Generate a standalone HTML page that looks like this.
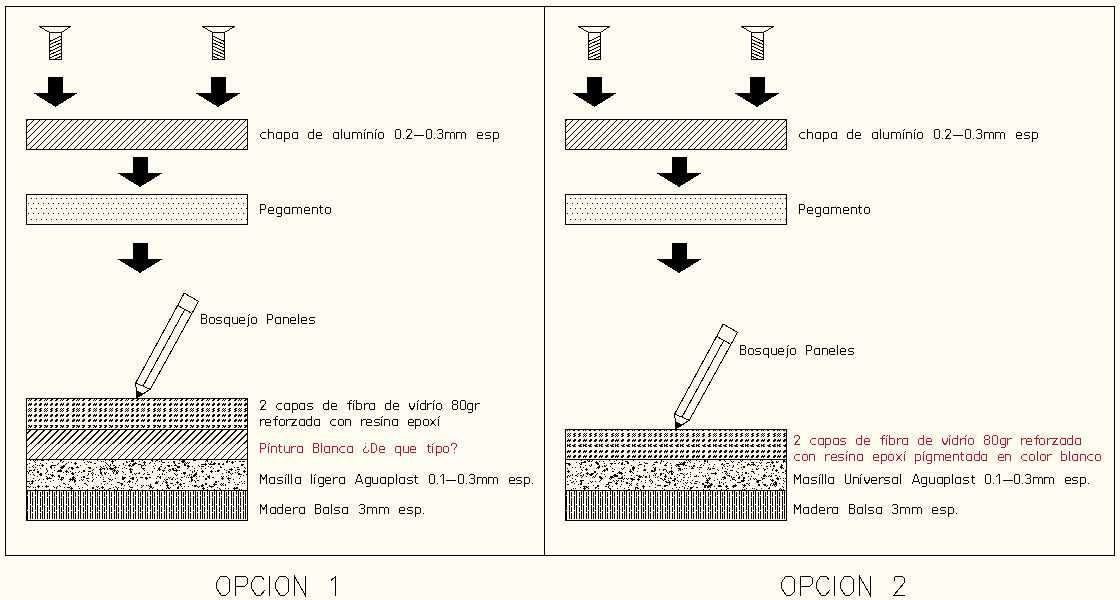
<!DOCTYPE html>
<html><head><meta charset="utf-8"><title>Opciones</title>
<style>html,body{margin:0;padding:0;background:#fefcf0;width:1120px;height:600px;overflow:hidden}svg{display:block}</style>
</head><body><svg width="1120" height="600" viewBox="0 0 1120 600" shape-rendering="crispEdges"><rect width="1120" height="600" fill="#fefcf0"/><path d="M5.5 6.5H1114.5V555.5H5.5Z M544.5 6.5V555.5" stroke="#000" fill="none"/><clipPath id="cs49"><rect x="50" y="33" width="11" height="26"/></clipPath><path d="M39 26.5H71M39.5 26.5L49.5 32.5M70.5 26.5L61.5 32.5" stroke="#000" fill="none"/><rect x="49.5" y="32.5" width="12" height="27" stroke="#000" fill="none"/><path d="M50 41.2L61 36.2 M50 44.55L61 39.55 M50 47.9L61 42.9 M50 51.25L61 46.25 M50 54.6L61 49.6 M50 57.95L61 52.95 M50 61.3L61 56.3" stroke="#000" stroke-width="1" fill="none" clip-path="url(#cs49)"/><clipPath id="cs212"><rect x="213" y="33" width="11" height="26"/></clipPath><path d="M202 26.5H235M202.5 26.5L212.5 32.5M234.5 26.5L224.5 32.5" stroke="#000" fill="none"/><rect x="212.5" y="32.5" width="12" height="27" stroke="#000" fill="none"/><path d="M213 36.2L224 41.2 M213 39.55L224 44.55 M213 42.9L224 47.9 M213 46.25L224 51.25 M213 49.6L224 54.6 M213 52.95L224 57.95 M213 56.3L224 61.3" stroke="#000" stroke-width="1" fill="none" clip-path="url(#cs212)"/><path d="M48 77H63V93H77.8L55.5 107L33.2 93H48Z" fill="#000"/><path d="M211 77H226V93H240.8L218 107L195.2 93H211Z" fill="#000"/><path d="M133 157H148V173H162.8L140 187L117.2 173H133Z" fill="#000"/><path d="M133 243H148V259H162.8L140 273L117.2 259H133Z" fill="#000"/><clipPath id="hr10"><rect x="27" y="120" width="220" height="29"/></clipPath><path d="M-14 149L15 120M-7 149L22 120M-1 149L28 120M5 149L34 120M11 149L40 120M17 149L46 120M24 149L53 120M30 149L59 120M36 149L65 120M43 149L72 120M49 149L78 120M55 149L84 120M61 149L90 120M67 149L96 120M74 149L103 120M80 149L109 120M86 149L115 120M93 149L122 120M99 149L128 120M105 149L134 120M111 149L140 120M117 149L146 120M124 149L153 120M130 149L159 120M136 149L165 120M143 149L172 120M149 149L178 120M155 149L184 120M161 149L190 120M167 149L196 120M174 149L203 120M180 149L209 120M186 149L215 120M193 149L222 120M199 149L228 120M205 149L234 120M211 149L240 120M217 149L246 120M224 149L253 120M230 149L259 120M236 149L265 120M243 149L272 120M249 149L278 120M255 149L284 120" stroke="#000" stroke-width="1.0" fill="none" clip-path="url(#hr10)"/><rect x="26.5" y="119.5" width="221" height="30" stroke="#000" fill="none"/><path d="M31 198h1v1h-1zM36 198h1v1h-1zM41 198h1v1h-1zM46 198h1v1h-1zM51 198h1v1h-1zM56 198h1v1h-1zM61 198h1v1h-1zM66 198h1v1h-1zM71 198h1v1h-1zM76 198h1v1h-1zM81 198h1v1h-1zM86 198h1v1h-1zM91 198h1v1h-1zM96 198h1v1h-1zM101 198h1v1h-1zM106 198h1v1h-1zM111 198h1v1h-1zM116 198h1v1h-1zM121 198h1v1h-1zM126 198h1v1h-1zM131 198h1v1h-1zM136 198h1v1h-1zM141 198h1v1h-1zM146 198h1v1h-1zM151 198h1v1h-1zM156 198h1v1h-1zM161 198h1v1h-1zM166 198h1v1h-1zM171 198h1v1h-1zM176 198h1v1h-1zM181 198h1v1h-1zM186 198h1v1h-1zM191 198h1v1h-1zM196 198h1v1h-1zM201 198h1v1h-1zM206 198h1v1h-1zM211 198h1v1h-1zM216 198h1v1h-1zM221 198h1v1h-1zM226 198h1v1h-1zM231 198h1v1h-1zM236 198h1v1h-1zM241 198h1v1h-1zM246 198h1v1h-1zM28 203h1v1h-1zM33 203h1v1h-1zM38 203h1v1h-1zM43 203h1v1h-1zM48 203h1v1h-1zM53 203h1v1h-1zM58 203h1v1h-1zM63 203h1v1h-1zM68 203h1v1h-1zM73 203h1v1h-1zM78 203h1v1h-1zM83 203h1v1h-1zM88 203h1v1h-1zM93 203h1v1h-1zM98 203h1v1h-1zM103 203h1v1h-1zM108 203h1v1h-1zM113 203h1v1h-1zM118 203h1v1h-1zM123 203h1v1h-1zM128 203h1v1h-1zM133 203h1v1h-1zM138 203h1v1h-1zM143 203h1v1h-1zM148 203h1v1h-1zM153 203h1v1h-1zM158 203h1v1h-1zM163 203h1v1h-1zM168 203h1v1h-1zM173 203h1v1h-1zM178 203h1v1h-1zM183 203h1v1h-1zM188 203h1v1h-1zM193 203h1v1h-1zM198 203h1v1h-1zM203 203h1v1h-1zM208 203h1v1h-1zM213 203h1v1h-1zM218 203h1v1h-1zM223 203h1v1h-1zM228 203h1v1h-1zM233 203h1v1h-1zM238 203h1v1h-1zM243 203h1v1h-1zM31 208h1v1h-1zM36 208h1v1h-1zM41 208h1v1h-1zM46 208h1v1h-1zM51 208h1v1h-1zM56 208h1v1h-1zM61 208h1v1h-1zM66 208h1v1h-1zM71 208h1v1h-1zM76 208h1v1h-1zM81 208h1v1h-1zM86 208h1v1h-1zM91 208h1v1h-1zM96 208h1v1h-1zM101 208h1v1h-1zM106 208h1v1h-1zM111 208h1v1h-1zM116 208h1v1h-1zM121 208h1v1h-1zM126 208h1v1h-1zM131 208h1v1h-1zM136 208h1v1h-1zM141 208h1v1h-1zM146 208h1v1h-1zM151 208h1v1h-1zM156 208h1v1h-1zM161 208h1v1h-1zM166 208h1v1h-1zM171 208h1v1h-1zM176 208h1v1h-1zM181 208h1v1h-1zM186 208h1v1h-1zM191 208h1v1h-1zM196 208h1v1h-1zM201 208h1v1h-1zM206 208h1v1h-1zM211 208h1v1h-1zM216 208h1v1h-1zM221 208h1v1h-1zM226 208h1v1h-1zM231 208h1v1h-1zM236 208h1v1h-1zM241 208h1v1h-1zM246 208h1v1h-1zM28 213h1v1h-1zM33 213h1v1h-1zM38 213h1v1h-1zM43 213h1v1h-1zM48 213h1v1h-1zM53 213h1v1h-1zM58 213h1v1h-1zM63 213h1v1h-1zM68 213h1v1h-1zM73 213h1v1h-1zM78 213h1v1h-1zM83 213h1v1h-1zM88 213h1v1h-1zM93 213h1v1h-1zM98 213h1v1h-1zM103 213h1v1h-1zM108 213h1v1h-1zM113 213h1v1h-1zM118 213h1v1h-1zM123 213h1v1h-1zM128 213h1v1h-1zM133 213h1v1h-1zM138 213h1v1h-1zM143 213h1v1h-1zM148 213h1v1h-1zM153 213h1v1h-1zM158 213h1v1h-1zM163 213h1v1h-1zM168 213h1v1h-1zM173 213h1v1h-1zM178 213h1v1h-1zM183 213h1v1h-1zM188 213h1v1h-1zM193 213h1v1h-1zM198 213h1v1h-1zM203 213h1v1h-1zM208 213h1v1h-1zM213 213h1v1h-1zM218 213h1v1h-1zM223 213h1v1h-1zM228 213h1v1h-1zM233 213h1v1h-1zM238 213h1v1h-1zM243 213h1v1h-1zM31 219h1v1h-1zM36 219h1v1h-1zM41 219h1v1h-1zM46 219h1v1h-1zM51 219h1v1h-1zM56 219h1v1h-1zM61 219h1v1h-1zM66 219h1v1h-1zM71 219h1v1h-1zM76 219h1v1h-1zM81 219h1v1h-1zM86 219h1v1h-1zM91 219h1v1h-1zM96 219h1v1h-1zM101 219h1v1h-1zM106 219h1v1h-1zM111 219h1v1h-1zM116 219h1v1h-1zM121 219h1v1h-1zM126 219h1v1h-1zM131 219h1v1h-1zM136 219h1v1h-1zM141 219h1v1h-1zM146 219h1v1h-1zM151 219h1v1h-1zM156 219h1v1h-1zM161 219h1v1h-1zM166 219h1v1h-1zM171 219h1v1h-1zM176 219h1v1h-1zM181 219h1v1h-1zM186 219h1v1h-1zM191 219h1v1h-1zM196 219h1v1h-1zM201 219h1v1h-1zM206 219h1v1h-1zM211 219h1v1h-1zM216 219h1v1h-1zM221 219h1v1h-1zM226 219h1v1h-1zM231 219h1v1h-1zM236 219h1v1h-1zM241 219h1v1h-1zM246 219h1v1h-1z" fill="#000"/><rect x="26.5" y="194.5" width="221" height="30" stroke="#000" fill="none"/><clipPath id="cs588"><rect x="589" y="33" width="11" height="26"/></clipPath><path d="M578 26.5H610M578.5 26.5L588.5 32.5M609.5 26.5L600.5 32.5" stroke="#000" fill="none"/><rect x="588.5" y="32.5" width="12" height="27" stroke="#000" fill="none"/><path d="M589 41.2L600 36.2 M589 44.55L600 39.55 M589 47.9L600 42.9 M589 51.25L600 46.25 M589 54.6L600 49.6 M589 57.95L600 52.95 M589 61.3L600 56.3" stroke="#000" stroke-width="1" fill="none" clip-path="url(#cs588)"/><clipPath id="cs751"><rect x="752" y="33" width="11" height="26"/></clipPath><path d="M741 26.5H774M741.5 26.5L751.5 32.5M773.5 26.5L763.5 32.5" stroke="#000" fill="none"/><rect x="751.5" y="32.5" width="12" height="27" stroke="#000" fill="none"/><path d="M752 36.2L763 41.2 M752 39.55L763 44.55 M752 42.9L763 47.9 M752 46.25L763 51.25 M752 49.6L763 54.6 M752 52.95L763 57.95 M752 56.3L763 61.3" stroke="#000" stroke-width="1" fill="none" clip-path="url(#cs751)"/><path d="M587 77H602V93H616.8L594.5 107L572.2 93H587Z" fill="#000"/><path d="M750 77H765V93H779.8L757 107L734.2 93H750Z" fill="#000"/><path d="M672 157H687V173H701.8L679 187L656.2 173H672Z" fill="#000"/><path d="M672 243H687V259H701.8L679 273L656.2 259H672Z" fill="#000"/><clipPath id="hr1539"><rect x="566" y="120" width="220" height="29"/></clipPath><path d="M525 149L554 120M531 149L560 120M538 149L567 120M544 149L573 120M550 149L579 120M557 149L586 120M563 149L592 120M569 149L598 120M575 149L604 120M581 149L610 120M588 149L617 120M594 149L623 120M600 149L629 120M607 149L636 120M613 149L642 120M619 149L648 120M625 149L654 120M631 149L660 120M638 149L667 120M644 149L673 120M650 149L679 120M657 149L686 120M663 149L692 120M669 149L698 120M675 149L704 120M681 149L710 120M688 149L717 120M694 149L723 120M700 149L729 120M707 149L736 120M713 149L742 120M719 149L748 120M725 149L754 120M731 149L760 120M738 149L767 120M744 149L773 120M750 149L779 120M757 149L786 120M763 149L792 120M769 149L798 120M775 149L804 120M781 149L810 120M788 149L817 120M794 149L823 120" stroke="#000" stroke-width="1.0" fill="none" clip-path="url(#hr1539)"/><rect x="565.5" y="119.5" width="221" height="30" stroke="#000" fill="none"/><path d="M570 198h1v1h-1zM575 198h1v1h-1zM580 198h1v1h-1zM585 198h1v1h-1zM590 198h1v1h-1zM595 198h1v1h-1zM600 198h1v1h-1zM605 198h1v1h-1zM610 198h1v1h-1zM615 198h1v1h-1zM620 198h1v1h-1zM625 198h1v1h-1zM630 198h1v1h-1zM635 198h1v1h-1zM640 198h1v1h-1zM645 198h1v1h-1zM650 198h1v1h-1zM655 198h1v1h-1zM660 198h1v1h-1zM665 198h1v1h-1zM670 198h1v1h-1zM675 198h1v1h-1zM680 198h1v1h-1zM685 198h1v1h-1zM690 198h1v1h-1zM695 198h1v1h-1zM700 198h1v1h-1zM705 198h1v1h-1zM710 198h1v1h-1zM715 198h1v1h-1zM720 198h1v1h-1zM725 198h1v1h-1zM730 198h1v1h-1zM735 198h1v1h-1zM740 198h1v1h-1zM745 198h1v1h-1zM750 198h1v1h-1zM755 198h1v1h-1zM760 198h1v1h-1zM765 198h1v1h-1zM770 198h1v1h-1zM775 198h1v1h-1zM780 198h1v1h-1zM785 198h1v1h-1zM567 203h1v1h-1zM572 203h1v1h-1zM577 203h1v1h-1zM582 203h1v1h-1zM587 203h1v1h-1zM592 203h1v1h-1zM597 203h1v1h-1zM602 203h1v1h-1zM607 203h1v1h-1zM612 203h1v1h-1zM617 203h1v1h-1zM622 203h1v1h-1zM627 203h1v1h-1zM632 203h1v1h-1zM637 203h1v1h-1zM642 203h1v1h-1zM647 203h1v1h-1zM652 203h1v1h-1zM657 203h1v1h-1zM662 203h1v1h-1zM667 203h1v1h-1zM672 203h1v1h-1zM677 203h1v1h-1zM682 203h1v1h-1zM687 203h1v1h-1zM692 203h1v1h-1zM697 203h1v1h-1zM702 203h1v1h-1zM707 203h1v1h-1zM712 203h1v1h-1zM717 203h1v1h-1zM722 203h1v1h-1zM727 203h1v1h-1zM732 203h1v1h-1zM737 203h1v1h-1zM742 203h1v1h-1zM747 203h1v1h-1zM752 203h1v1h-1zM757 203h1v1h-1zM762 203h1v1h-1zM767 203h1v1h-1zM772 203h1v1h-1zM777 203h1v1h-1zM782 203h1v1h-1zM570 208h1v1h-1zM575 208h1v1h-1zM580 208h1v1h-1zM585 208h1v1h-1zM590 208h1v1h-1zM595 208h1v1h-1zM600 208h1v1h-1zM605 208h1v1h-1zM610 208h1v1h-1zM615 208h1v1h-1zM620 208h1v1h-1zM625 208h1v1h-1zM630 208h1v1h-1zM635 208h1v1h-1zM640 208h1v1h-1zM645 208h1v1h-1zM650 208h1v1h-1zM655 208h1v1h-1zM660 208h1v1h-1zM665 208h1v1h-1zM670 208h1v1h-1zM675 208h1v1h-1zM680 208h1v1h-1zM685 208h1v1h-1zM690 208h1v1h-1zM695 208h1v1h-1zM700 208h1v1h-1zM705 208h1v1h-1zM710 208h1v1h-1zM715 208h1v1h-1zM720 208h1v1h-1zM725 208h1v1h-1zM730 208h1v1h-1zM735 208h1v1h-1zM740 208h1v1h-1zM745 208h1v1h-1zM750 208h1v1h-1zM755 208h1v1h-1zM760 208h1v1h-1zM765 208h1v1h-1zM770 208h1v1h-1zM775 208h1v1h-1zM780 208h1v1h-1zM785 208h1v1h-1zM567 213h1v1h-1zM572 213h1v1h-1zM577 213h1v1h-1zM582 213h1v1h-1zM587 213h1v1h-1zM592 213h1v1h-1zM597 213h1v1h-1zM602 213h1v1h-1zM607 213h1v1h-1zM612 213h1v1h-1zM617 213h1v1h-1zM622 213h1v1h-1zM627 213h1v1h-1zM632 213h1v1h-1zM637 213h1v1h-1zM642 213h1v1h-1zM647 213h1v1h-1zM652 213h1v1h-1zM657 213h1v1h-1zM662 213h1v1h-1zM667 213h1v1h-1zM672 213h1v1h-1zM677 213h1v1h-1zM682 213h1v1h-1zM687 213h1v1h-1zM692 213h1v1h-1zM697 213h1v1h-1zM702 213h1v1h-1zM707 213h1v1h-1zM712 213h1v1h-1zM717 213h1v1h-1zM722 213h1v1h-1zM727 213h1v1h-1zM732 213h1v1h-1zM737 213h1v1h-1zM742 213h1v1h-1zM747 213h1v1h-1zM752 213h1v1h-1zM757 213h1v1h-1zM762 213h1v1h-1zM767 213h1v1h-1zM772 213h1v1h-1zM777 213h1v1h-1zM782 213h1v1h-1zM570 219h1v1h-1zM575 219h1v1h-1zM580 219h1v1h-1zM585 219h1v1h-1zM590 219h1v1h-1zM595 219h1v1h-1zM600 219h1v1h-1zM605 219h1v1h-1zM610 219h1v1h-1zM615 219h1v1h-1zM620 219h1v1h-1zM625 219h1v1h-1zM630 219h1v1h-1zM635 219h1v1h-1zM640 219h1v1h-1zM645 219h1v1h-1zM650 219h1v1h-1zM655 219h1v1h-1zM660 219h1v1h-1zM665 219h1v1h-1zM670 219h1v1h-1zM675 219h1v1h-1zM680 219h1v1h-1zM685 219h1v1h-1zM690 219h1v1h-1zM695 219h1v1h-1zM700 219h1v1h-1zM705 219h1v1h-1zM710 219h1v1h-1zM715 219h1v1h-1zM720 219h1v1h-1zM725 219h1v1h-1zM730 219h1v1h-1zM735 219h1v1h-1zM740 219h1v1h-1zM745 219h1v1h-1zM750 219h1v1h-1zM755 219h1v1h-1zM760 219h1v1h-1zM765 219h1v1h-1zM770 219h1v1h-1zM775 219h1v1h-1zM780 219h1v1h-1zM785 219h1v1h-1z" fill="#000"/><rect x="565.5" y="194.5" width="221" height="30" stroke="#000" fill="none"/><path d="M29 399h1v1h-1zM31 399h1v1h-1zM28 400h1v1h-1zM30 400h1v1h-1zM35 399h1v1h-1zM36 399h1v1h-1zM34 400h1v1h-1zM35 400h1v1h-1zM40 399h1v1h-1zM41 399h1v1h-1zM39 400h1v1h-1zM40 400h1v1h-1zM45 399h1v1h-1zM47 399h1v1h-1zM44 400h1v1h-1zM46 400h1v1h-1zM51 399h1v1h-1zM52 399h1v1h-1zM50 400h1v1h-1zM51 400h1v1h-1zM56 399h1v1h-1zM57 399h1v1h-1zM55 400h1v1h-1zM56 400h1v1h-1zM61 399h1v1h-1zM63 399h1v1h-1zM60 400h1v1h-1zM62 400h1v1h-1zM67 399h1v1h-1zM68 399h1v1h-1zM66 400h1v1h-1zM67 400h1v1h-1zM73 399h1v1h-1zM74 399h1v1h-1zM72 400h1v1h-1zM73 400h1v1h-1zM77 399h1v1h-1zM79 399h1v1h-1zM76 400h1v1h-1zM78 400h1v1h-1zM83 399h1v1h-1zM84 399h1v1h-1zM82 400h1v1h-1zM83 400h1v1h-1zM89 399h1v1h-1zM90 399h1v1h-1zM88 400h1v1h-1zM89 400h1v1h-1zM94 399h1v1h-1zM96 399h1v1h-1zM93 400h1v1h-1zM95 400h1v1h-1zM100 399h1v1h-1zM101 399h1v1h-1zM99 400h1v1h-1zM100 400h1v1h-1zM105 399h1v1h-1zM106 399h1v1h-1zM104 400h1v1h-1zM105 400h1v1h-1zM110 399h1v1h-1zM112 399h1v1h-1zM109 400h1v1h-1zM111 400h1v1h-1zM116 399h1v1h-1zM117 399h1v1h-1zM115 400h1v1h-1zM116 400h1v1h-1zM121 399h1v1h-1zM122 399h1v1h-1zM120 400h1v1h-1zM121 400h1v1h-1zM126 399h1v1h-1zM128 399h1v1h-1zM125 400h1v1h-1zM127 400h1v1h-1zM132 399h1v1h-1zM133 399h1v1h-1zM131 400h1v1h-1zM132 400h1v1h-1zM137 399h1v1h-1zM138 399h1v1h-1zM136 400h1v1h-1zM137 400h1v1h-1zM142 399h1v1h-1zM144 399h1v1h-1zM141 400h1v1h-1zM143 400h1v1h-1zM148 399h1v1h-1zM149 399h1v1h-1zM147 400h1v1h-1zM148 400h1v1h-1zM154 399h1v1h-1zM155 399h1v1h-1zM153 400h1v1h-1zM154 400h1v1h-1zM158 399h1v1h-1zM160 399h1v1h-1zM157 400h1v1h-1zM159 400h1v1h-1zM164 399h1v1h-1zM165 399h1v1h-1zM163 400h1v1h-1zM164 400h1v1h-1zM170 399h1v1h-1zM171 399h1v1h-1zM169 400h1v1h-1zM170 400h1v1h-1zM175 399h1v1h-1zM177 399h1v1h-1zM174 400h1v1h-1zM176 400h1v1h-1zM181 399h1v1h-1zM182 399h1v1h-1zM180 400h1v1h-1zM181 400h1v1h-1zM186 399h1v1h-1zM187 399h1v1h-1zM185 400h1v1h-1zM186 400h1v1h-1zM191 399h1v1h-1zM193 399h1v1h-1zM190 400h1v1h-1zM192 400h1v1h-1zM197 399h1v1h-1zM198 399h1v1h-1zM196 400h1v1h-1zM197 400h1v1h-1zM202 399h1v1h-1zM203 399h1v1h-1zM201 400h1v1h-1zM202 400h1v1h-1zM207 399h1v1h-1zM209 399h1v1h-1zM206 400h1v1h-1zM208 400h1v1h-1zM213 399h1v1h-1zM214 399h1v1h-1zM212 400h1v1h-1zM213 400h1v1h-1zM218 399h1v1h-1zM219 399h1v1h-1zM217 400h1v1h-1zM218 400h1v1h-1zM223 399h1v1h-1zM225 399h1v1h-1zM222 400h1v1h-1zM224 400h1v1h-1zM229 399h1v1h-1zM230 399h1v1h-1zM228 400h1v1h-1zM229 400h1v1h-1zM235 399h1v1h-1zM236 399h1v1h-1zM234 400h1v1h-1zM235 400h1v1h-1zM239 399h1v1h-1zM241 399h1v1h-1zM238 400h1v1h-1zM240 400h1v1h-1zM245 399h1v1h-1zM246 399h1v1h-1zM244 400h1v1h-1zM245 400h1v1h-1zM29 403h1v1h-1zM31 403h1v1h-1zM28 404h1v1h-1zM29 404h1v1h-1zM30 404h1v1h-1zM31 404h1v1h-1zM28 405h1v1h-1zM30 405h1v1h-1zM35 403h1v1h-1zM36 403h1v1h-1zM34 404h1v1h-1zM35 404h1v1h-1zM36 404h1v1h-1zM34 405h1v1h-1zM35 405h1v1h-1zM40 403h1v1h-1zM41 403h1v1h-1zM39 404h1v1h-1zM40 404h1v1h-1zM41 404h1v1h-1zM39 405h1v1h-1zM40 405h1v1h-1zM45 403h1v1h-1zM47 403h1v1h-1zM44 404h1v1h-1zM45 404h1v1h-1zM46 404h1v1h-1zM47 404h1v1h-1zM44 405h1v1h-1zM46 405h1v1h-1zM51 403h1v1h-1zM52 403h1v1h-1zM50 404h1v1h-1zM51 404h1v1h-1zM52 404h1v1h-1zM50 405h1v1h-1zM51 405h1v1h-1zM56 403h1v1h-1zM57 403h1v1h-1zM55 404h1v1h-1zM56 404h1v1h-1zM57 404h1v1h-1zM55 405h1v1h-1zM56 405h1v1h-1zM61 403h1v1h-1zM63 403h1v1h-1zM60 404h1v1h-1zM61 404h1v1h-1zM62 404h1v1h-1zM63 404h1v1h-1zM60 405h1v1h-1zM62 405h1v1h-1zM67 403h1v1h-1zM68 403h1v1h-1zM66 404h1v1h-1zM67 404h1v1h-1zM68 404h1v1h-1zM66 405h1v1h-1zM67 405h1v1h-1zM73 403h1v1h-1zM74 403h1v1h-1zM72 404h1v1h-1zM73 404h1v1h-1zM74 404h1v1h-1zM72 405h1v1h-1zM73 405h1v1h-1zM77 403h1v1h-1zM79 403h1v1h-1zM76 404h1v1h-1zM77 404h1v1h-1zM78 404h1v1h-1zM79 404h1v1h-1zM76 405h1v1h-1zM78 405h1v1h-1zM83 403h1v1h-1zM84 403h1v1h-1zM82 404h1v1h-1zM83 404h1v1h-1zM84 404h1v1h-1zM82 405h1v1h-1zM83 405h1v1h-1zM89 403h1v1h-1zM90 403h1v1h-1zM88 404h1v1h-1zM89 404h1v1h-1zM90 404h1v1h-1zM88 405h1v1h-1zM89 405h1v1h-1zM94 403h1v1h-1zM96 403h1v1h-1zM93 404h1v1h-1zM94 404h1v1h-1zM95 404h1v1h-1zM96 404h1v1h-1zM93 405h1v1h-1zM95 405h1v1h-1zM100 403h1v1h-1zM101 403h1v1h-1zM99 404h1v1h-1zM100 404h1v1h-1zM101 404h1v1h-1zM99 405h1v1h-1zM100 405h1v1h-1zM105 403h1v1h-1zM106 403h1v1h-1zM104 404h1v1h-1zM105 404h1v1h-1zM106 404h1v1h-1zM104 405h1v1h-1zM105 405h1v1h-1zM110 403h1v1h-1zM112 403h1v1h-1zM109 404h1v1h-1zM110 404h1v1h-1zM111 404h1v1h-1zM112 404h1v1h-1zM109 405h1v1h-1zM111 405h1v1h-1zM116 403h1v1h-1zM117 403h1v1h-1zM115 404h1v1h-1zM116 404h1v1h-1zM117 404h1v1h-1zM115 405h1v1h-1zM116 405h1v1h-1zM121 403h1v1h-1zM122 403h1v1h-1zM120 404h1v1h-1zM121 404h1v1h-1zM122 404h1v1h-1zM120 405h1v1h-1zM121 405h1v1h-1zM126 403h1v1h-1zM128 403h1v1h-1zM125 404h1v1h-1zM126 404h1v1h-1zM127 404h1v1h-1zM128 404h1v1h-1zM125 405h1v1h-1zM127 405h1v1h-1zM132 403h1v1h-1zM133 403h1v1h-1zM131 404h1v1h-1zM132 404h1v1h-1zM133 404h1v1h-1zM131 405h1v1h-1zM132 405h1v1h-1zM137 403h1v1h-1zM138 403h1v1h-1zM136 404h1v1h-1zM137 404h1v1h-1zM138 404h1v1h-1zM136 405h1v1h-1zM137 405h1v1h-1zM142 403h1v1h-1zM144 403h1v1h-1zM141 404h1v1h-1zM142 404h1v1h-1zM143 404h1v1h-1zM144 404h1v1h-1zM141 405h1v1h-1zM143 405h1v1h-1zM148 403h1v1h-1zM149 403h1v1h-1zM147 404h1v1h-1zM148 404h1v1h-1zM149 404h1v1h-1zM147 405h1v1h-1zM148 405h1v1h-1zM154 403h1v1h-1zM155 403h1v1h-1zM153 404h1v1h-1zM154 404h1v1h-1zM155 404h1v1h-1zM153 405h1v1h-1zM154 405h1v1h-1zM158 403h1v1h-1zM160 403h1v1h-1zM157 404h1v1h-1zM158 404h1v1h-1zM159 404h1v1h-1zM160 404h1v1h-1zM157 405h1v1h-1zM159 405h1v1h-1zM164 403h1v1h-1zM165 403h1v1h-1zM163 404h1v1h-1zM164 404h1v1h-1zM165 404h1v1h-1zM163 405h1v1h-1zM164 405h1v1h-1zM170 403h1v1h-1zM171 403h1v1h-1zM169 404h1v1h-1zM170 404h1v1h-1zM171 404h1v1h-1zM169 405h1v1h-1zM170 405h1v1h-1zM175 403h1v1h-1zM177 403h1v1h-1zM174 404h1v1h-1zM175 404h1v1h-1zM176 404h1v1h-1zM177 404h1v1h-1zM174 405h1v1h-1zM176 405h1v1h-1zM181 403h1v1h-1zM182 403h1v1h-1zM180 404h1v1h-1zM181 404h1v1h-1zM182 404h1v1h-1zM180 405h1v1h-1zM181 405h1v1h-1zM186 403h1v1h-1zM187 403h1v1h-1zM185 404h1v1h-1zM186 404h1v1h-1zM187 404h1v1h-1zM185 405h1v1h-1zM186 405h1v1h-1zM191 403h1v1h-1zM193 403h1v1h-1zM190 404h1v1h-1zM191 404h1v1h-1zM192 404h1v1h-1zM193 404h1v1h-1zM190 405h1v1h-1zM192 405h1v1h-1zM197 403h1v1h-1zM198 403h1v1h-1zM196 404h1v1h-1zM197 404h1v1h-1zM198 404h1v1h-1zM196 405h1v1h-1zM197 405h1v1h-1zM202 403h1v1h-1zM203 403h1v1h-1zM201 404h1v1h-1zM202 404h1v1h-1zM203 404h1v1h-1zM201 405h1v1h-1zM202 405h1v1h-1zM207 403h1v1h-1zM209 403h1v1h-1zM206 404h1v1h-1zM207 404h1v1h-1zM208 404h1v1h-1zM209 404h1v1h-1zM206 405h1v1h-1zM208 405h1v1h-1zM213 403h1v1h-1zM214 403h1v1h-1zM212 404h1v1h-1zM213 404h1v1h-1zM214 404h1v1h-1zM212 405h1v1h-1zM213 405h1v1h-1zM218 403h1v1h-1zM219 403h1v1h-1zM217 404h1v1h-1zM218 404h1v1h-1zM219 404h1v1h-1zM217 405h1v1h-1zM218 405h1v1h-1zM223 403h1v1h-1zM225 403h1v1h-1zM222 404h1v1h-1zM223 404h1v1h-1zM224 404h1v1h-1zM225 404h1v1h-1zM222 405h1v1h-1zM224 405h1v1h-1zM229 403h1v1h-1zM230 403h1v1h-1zM228 404h1v1h-1zM229 404h1v1h-1zM230 404h1v1h-1zM228 405h1v1h-1zM229 405h1v1h-1zM235 403h1v1h-1zM236 403h1v1h-1zM234 404h1v1h-1zM235 404h1v1h-1zM236 404h1v1h-1zM234 405h1v1h-1zM235 405h1v1h-1zM239 403h1v1h-1zM241 403h1v1h-1zM238 404h1v1h-1zM239 404h1v1h-1zM240 404h1v1h-1zM241 404h1v1h-1zM238 405h1v1h-1zM240 405h1v1h-1zM245 403h1v1h-1zM246 403h1v1h-1zM244 404h1v1h-1zM245 404h1v1h-1zM246 404h1v1h-1zM244 405h1v1h-1zM245 405h1v1h-1zM29 408h1v1h-1zM31 408h1v1h-1zM28 409h1v1h-1zM30 409h1v1h-1zM29 410h1v1h-1zM31 410h1v1h-1zM28 411h1v1h-1zM30 411h1v1h-1zM35 408h1v1h-1zM36 408h1v1h-1zM34 409h1v1h-1zM35 409h1v1h-1zM35 410h1v1h-1zM36 410h1v1h-1zM34 411h1v1h-1zM35 411h1v1h-1zM40 408h1v1h-1zM41 408h1v1h-1zM39 409h1v1h-1zM40 409h1v1h-1zM40 410h1v1h-1zM41 410h1v1h-1zM39 411h1v1h-1zM40 411h1v1h-1zM45 408h1v1h-1zM47 408h1v1h-1zM44 409h1v1h-1zM46 409h1v1h-1zM45 410h1v1h-1zM47 410h1v1h-1zM44 411h1v1h-1zM46 411h1v1h-1zM51 408h1v1h-1zM52 408h1v1h-1zM50 409h1v1h-1zM51 409h1v1h-1zM51 410h1v1h-1zM52 410h1v1h-1zM50 411h1v1h-1zM51 411h1v1h-1zM56 408h1v1h-1zM57 408h1v1h-1zM55 409h1v1h-1zM56 409h1v1h-1zM56 410h1v1h-1zM57 410h1v1h-1zM55 411h1v1h-1zM56 411h1v1h-1zM61 408h1v1h-1zM63 408h1v1h-1zM60 409h1v1h-1zM62 409h1v1h-1zM61 410h1v1h-1zM63 410h1v1h-1zM60 411h1v1h-1zM62 411h1v1h-1zM67 408h1v1h-1zM68 408h1v1h-1zM66 409h1v1h-1zM67 409h1v1h-1zM67 410h1v1h-1zM68 410h1v1h-1zM66 411h1v1h-1zM67 411h1v1h-1zM73 408h1v1h-1zM74 408h1v1h-1zM72 409h1v1h-1zM73 409h1v1h-1zM73 410h1v1h-1zM74 410h1v1h-1zM72 411h1v1h-1zM73 411h1v1h-1zM77 408h1v1h-1zM79 408h1v1h-1zM76 409h1v1h-1zM78 409h1v1h-1zM77 410h1v1h-1zM79 410h1v1h-1zM76 411h1v1h-1zM78 411h1v1h-1zM83 408h1v1h-1zM84 408h1v1h-1zM82 409h1v1h-1zM83 409h1v1h-1zM83 410h1v1h-1zM84 410h1v1h-1zM82 411h1v1h-1zM83 411h1v1h-1zM89 408h1v1h-1zM90 408h1v1h-1zM88 409h1v1h-1zM89 409h1v1h-1zM89 410h1v1h-1zM90 410h1v1h-1zM88 411h1v1h-1zM89 411h1v1h-1zM94 408h1v1h-1zM96 408h1v1h-1zM93 409h1v1h-1zM95 409h1v1h-1zM94 410h1v1h-1zM96 410h1v1h-1zM93 411h1v1h-1zM95 411h1v1h-1zM100 408h1v1h-1zM101 408h1v1h-1zM99 409h1v1h-1zM100 409h1v1h-1zM100 410h1v1h-1zM101 410h1v1h-1zM99 411h1v1h-1zM100 411h1v1h-1zM105 408h1v1h-1zM106 408h1v1h-1zM104 409h1v1h-1zM105 409h1v1h-1zM105 410h1v1h-1zM106 410h1v1h-1zM104 411h1v1h-1zM105 411h1v1h-1zM110 408h1v1h-1zM112 408h1v1h-1zM109 409h1v1h-1zM111 409h1v1h-1zM110 410h1v1h-1zM112 410h1v1h-1zM109 411h1v1h-1zM111 411h1v1h-1zM116 408h1v1h-1zM117 408h1v1h-1zM115 409h1v1h-1zM116 409h1v1h-1zM116 410h1v1h-1zM117 410h1v1h-1zM115 411h1v1h-1zM116 411h1v1h-1zM121 408h1v1h-1zM122 408h1v1h-1zM120 409h1v1h-1zM121 409h1v1h-1zM121 410h1v1h-1zM122 410h1v1h-1zM120 411h1v1h-1zM121 411h1v1h-1zM126 408h1v1h-1zM128 408h1v1h-1zM125 409h1v1h-1zM127 409h1v1h-1zM126 410h1v1h-1zM128 410h1v1h-1zM125 411h1v1h-1zM127 411h1v1h-1zM132 408h1v1h-1zM133 408h1v1h-1zM131 409h1v1h-1zM132 409h1v1h-1zM132 410h1v1h-1zM133 410h1v1h-1zM131 411h1v1h-1zM132 411h1v1h-1zM137 408h1v1h-1zM138 408h1v1h-1zM136 409h1v1h-1zM137 409h1v1h-1zM137 410h1v1h-1zM138 410h1v1h-1zM136 411h1v1h-1zM137 411h1v1h-1zM142 408h1v1h-1zM144 408h1v1h-1zM141 409h1v1h-1zM143 409h1v1h-1zM142 410h1v1h-1zM144 410h1v1h-1zM141 411h1v1h-1zM143 411h1v1h-1zM148 408h1v1h-1zM149 408h1v1h-1zM147 409h1v1h-1zM148 409h1v1h-1zM148 410h1v1h-1zM149 410h1v1h-1zM147 411h1v1h-1zM148 411h1v1h-1zM154 408h1v1h-1zM155 408h1v1h-1zM153 409h1v1h-1zM154 409h1v1h-1zM154 410h1v1h-1zM155 410h1v1h-1zM153 411h1v1h-1zM154 411h1v1h-1zM158 408h1v1h-1zM160 408h1v1h-1zM157 409h1v1h-1zM159 409h1v1h-1zM158 410h1v1h-1zM160 410h1v1h-1zM157 411h1v1h-1zM159 411h1v1h-1zM164 408h1v1h-1zM165 408h1v1h-1zM163 409h1v1h-1zM164 409h1v1h-1zM164 410h1v1h-1zM165 410h1v1h-1zM163 411h1v1h-1zM164 411h1v1h-1zM170 408h1v1h-1zM171 408h1v1h-1zM169 409h1v1h-1zM170 409h1v1h-1zM170 410h1v1h-1zM171 410h1v1h-1zM169 411h1v1h-1zM170 411h1v1h-1zM175 408h1v1h-1zM177 408h1v1h-1zM174 409h1v1h-1zM176 409h1v1h-1zM175 410h1v1h-1zM177 410h1v1h-1zM174 411h1v1h-1zM176 411h1v1h-1zM181 408h1v1h-1zM182 408h1v1h-1zM180 409h1v1h-1zM181 409h1v1h-1zM181 410h1v1h-1zM182 410h1v1h-1zM180 411h1v1h-1zM181 411h1v1h-1zM186 408h1v1h-1zM187 408h1v1h-1zM185 409h1v1h-1zM186 409h1v1h-1zM186 410h1v1h-1zM187 410h1v1h-1zM185 411h1v1h-1zM186 411h1v1h-1zM191 408h1v1h-1zM193 408h1v1h-1zM190 409h1v1h-1zM192 409h1v1h-1zM191 410h1v1h-1zM193 410h1v1h-1zM190 411h1v1h-1zM192 411h1v1h-1zM197 408h1v1h-1zM198 408h1v1h-1zM196 409h1v1h-1zM197 409h1v1h-1zM197 410h1v1h-1zM198 410h1v1h-1zM196 411h1v1h-1zM197 411h1v1h-1zM202 408h1v1h-1zM203 408h1v1h-1zM201 409h1v1h-1zM202 409h1v1h-1zM202 410h1v1h-1zM203 410h1v1h-1zM201 411h1v1h-1zM202 411h1v1h-1zM207 408h1v1h-1zM209 408h1v1h-1zM206 409h1v1h-1zM208 409h1v1h-1zM207 410h1v1h-1zM209 410h1v1h-1zM206 411h1v1h-1zM208 411h1v1h-1zM213 408h1v1h-1zM214 408h1v1h-1zM212 409h1v1h-1zM213 409h1v1h-1zM213 410h1v1h-1zM214 410h1v1h-1zM212 411h1v1h-1zM213 411h1v1h-1zM218 408h1v1h-1zM219 408h1v1h-1zM217 409h1v1h-1zM218 409h1v1h-1zM218 410h1v1h-1zM219 410h1v1h-1zM217 411h1v1h-1zM218 411h1v1h-1zM223 408h1v1h-1zM225 408h1v1h-1zM222 409h1v1h-1zM224 409h1v1h-1zM223 410h1v1h-1zM225 410h1v1h-1zM222 411h1v1h-1zM224 411h1v1h-1zM229 408h1v1h-1zM230 408h1v1h-1zM228 409h1v1h-1zM229 409h1v1h-1zM229 410h1v1h-1zM230 410h1v1h-1zM228 411h1v1h-1zM229 411h1v1h-1zM235 408h1v1h-1zM236 408h1v1h-1zM234 409h1v1h-1zM235 409h1v1h-1zM235 410h1v1h-1zM236 410h1v1h-1zM234 411h1v1h-1zM235 411h1v1h-1zM239 408h1v1h-1zM241 408h1v1h-1zM238 409h1v1h-1zM240 409h1v1h-1zM239 410h1v1h-1zM241 410h1v1h-1zM238 411h1v1h-1zM240 411h1v1h-1zM245 408h1v1h-1zM246 408h1v1h-1zM244 409h1v1h-1zM245 409h1v1h-1zM245 410h1v1h-1zM246 410h1v1h-1zM244 411h1v1h-1zM245 411h1v1h-1zM29 414h1v1h-1zM31 414h1v1h-1zM28 415h1v1h-1zM29 415h1v1h-1zM30 415h1v1h-1zM31 415h1v1h-1zM28 416h1v1h-1zM30 416h1v1h-1zM35 414h1v1h-1zM36 414h1v1h-1zM34 415h1v1h-1zM35 415h1v1h-1zM36 415h1v1h-1zM34 416h1v1h-1zM35 416h1v1h-1zM40 414h1v1h-1zM41 414h1v1h-1zM39 415h1v1h-1zM40 415h1v1h-1zM41 415h1v1h-1zM39 416h1v1h-1zM40 416h1v1h-1zM45 414h1v1h-1zM47 414h1v1h-1zM44 415h1v1h-1zM45 415h1v1h-1zM46 415h1v1h-1zM47 415h1v1h-1zM44 416h1v1h-1zM46 416h1v1h-1zM51 414h1v1h-1zM52 414h1v1h-1zM50 415h1v1h-1zM51 415h1v1h-1zM52 415h1v1h-1zM50 416h1v1h-1zM51 416h1v1h-1zM56 414h1v1h-1zM57 414h1v1h-1zM55 415h1v1h-1zM56 415h1v1h-1zM57 415h1v1h-1zM55 416h1v1h-1zM56 416h1v1h-1zM61 414h1v1h-1zM63 414h1v1h-1zM60 415h1v1h-1zM61 415h1v1h-1zM62 415h1v1h-1zM63 415h1v1h-1zM60 416h1v1h-1zM62 416h1v1h-1zM67 414h1v1h-1zM68 414h1v1h-1zM66 415h1v1h-1zM67 415h1v1h-1zM68 415h1v1h-1zM66 416h1v1h-1zM67 416h1v1h-1zM73 414h1v1h-1zM74 414h1v1h-1zM72 415h1v1h-1zM73 415h1v1h-1zM74 415h1v1h-1zM72 416h1v1h-1zM73 416h1v1h-1zM77 414h1v1h-1zM79 414h1v1h-1zM76 415h1v1h-1zM77 415h1v1h-1zM78 415h1v1h-1zM79 415h1v1h-1zM76 416h1v1h-1zM78 416h1v1h-1zM83 414h1v1h-1zM84 414h1v1h-1zM82 415h1v1h-1zM83 415h1v1h-1zM84 415h1v1h-1zM82 416h1v1h-1zM83 416h1v1h-1zM89 414h1v1h-1zM90 414h1v1h-1zM88 415h1v1h-1zM89 415h1v1h-1zM90 415h1v1h-1zM88 416h1v1h-1zM89 416h1v1h-1zM94 414h1v1h-1zM96 414h1v1h-1zM93 415h1v1h-1zM94 415h1v1h-1zM95 415h1v1h-1zM96 415h1v1h-1zM93 416h1v1h-1zM95 416h1v1h-1zM100 414h1v1h-1zM101 414h1v1h-1zM99 415h1v1h-1zM100 415h1v1h-1zM101 415h1v1h-1zM99 416h1v1h-1zM100 416h1v1h-1zM105 414h1v1h-1zM106 414h1v1h-1zM104 415h1v1h-1zM105 415h1v1h-1zM106 415h1v1h-1zM104 416h1v1h-1zM105 416h1v1h-1zM110 414h1v1h-1zM112 414h1v1h-1zM109 415h1v1h-1zM110 415h1v1h-1zM111 415h1v1h-1zM112 415h1v1h-1zM109 416h1v1h-1zM111 416h1v1h-1zM116 414h1v1h-1zM117 414h1v1h-1zM115 415h1v1h-1zM116 415h1v1h-1zM117 415h1v1h-1zM115 416h1v1h-1zM116 416h1v1h-1zM121 414h1v1h-1zM122 414h1v1h-1zM120 415h1v1h-1zM121 415h1v1h-1zM122 415h1v1h-1zM120 416h1v1h-1zM121 416h1v1h-1zM126 414h1v1h-1zM128 414h1v1h-1zM125 415h1v1h-1zM126 415h1v1h-1zM127 415h1v1h-1zM128 415h1v1h-1zM125 416h1v1h-1zM127 416h1v1h-1zM132 414h1v1h-1zM133 414h1v1h-1zM131 415h1v1h-1zM132 415h1v1h-1zM133 415h1v1h-1zM131 416h1v1h-1zM132 416h1v1h-1zM137 414h1v1h-1zM138 414h1v1h-1zM136 415h1v1h-1zM137 415h1v1h-1zM138 415h1v1h-1zM136 416h1v1h-1zM137 416h1v1h-1zM142 414h1v1h-1zM144 414h1v1h-1zM141 415h1v1h-1zM142 415h1v1h-1zM143 415h1v1h-1zM144 415h1v1h-1zM141 416h1v1h-1zM143 416h1v1h-1zM148 414h1v1h-1zM149 414h1v1h-1zM147 415h1v1h-1zM148 415h1v1h-1zM149 415h1v1h-1zM147 416h1v1h-1zM148 416h1v1h-1zM154 414h1v1h-1zM155 414h1v1h-1zM153 415h1v1h-1zM154 415h1v1h-1zM155 415h1v1h-1zM153 416h1v1h-1zM154 416h1v1h-1zM158 414h1v1h-1zM160 414h1v1h-1zM157 415h1v1h-1zM158 415h1v1h-1zM159 415h1v1h-1zM160 415h1v1h-1zM157 416h1v1h-1zM159 416h1v1h-1zM164 414h1v1h-1zM165 414h1v1h-1zM163 415h1v1h-1zM164 415h1v1h-1zM165 415h1v1h-1zM163 416h1v1h-1zM164 416h1v1h-1zM170 414h1v1h-1zM171 414h1v1h-1zM169 415h1v1h-1zM170 415h1v1h-1zM171 415h1v1h-1zM169 416h1v1h-1zM170 416h1v1h-1zM175 414h1v1h-1zM177 414h1v1h-1zM174 415h1v1h-1zM175 415h1v1h-1zM176 415h1v1h-1zM177 415h1v1h-1zM174 416h1v1h-1zM176 416h1v1h-1zM181 414h1v1h-1zM182 414h1v1h-1zM180 415h1v1h-1zM181 415h1v1h-1zM182 415h1v1h-1zM180 416h1v1h-1zM181 416h1v1h-1zM186 414h1v1h-1zM187 414h1v1h-1zM185 415h1v1h-1zM186 415h1v1h-1zM187 415h1v1h-1zM185 416h1v1h-1zM186 416h1v1h-1zM191 414h1v1h-1zM193 414h1v1h-1zM190 415h1v1h-1zM191 415h1v1h-1zM192 415h1v1h-1zM193 415h1v1h-1zM190 416h1v1h-1zM192 416h1v1h-1zM197 414h1v1h-1zM198 414h1v1h-1zM196 415h1v1h-1zM197 415h1v1h-1zM198 415h1v1h-1zM196 416h1v1h-1zM197 416h1v1h-1zM202 414h1v1h-1zM203 414h1v1h-1zM201 415h1v1h-1zM202 415h1v1h-1zM203 415h1v1h-1zM201 416h1v1h-1zM202 416h1v1h-1zM207 414h1v1h-1zM209 414h1v1h-1zM206 415h1v1h-1zM207 415h1v1h-1zM208 415h1v1h-1zM209 415h1v1h-1zM206 416h1v1h-1zM208 416h1v1h-1zM213 414h1v1h-1zM214 414h1v1h-1zM212 415h1v1h-1zM213 415h1v1h-1zM214 415h1v1h-1zM212 416h1v1h-1zM213 416h1v1h-1zM218 414h1v1h-1zM219 414h1v1h-1zM217 415h1v1h-1zM218 415h1v1h-1zM219 415h1v1h-1zM217 416h1v1h-1zM218 416h1v1h-1zM223 414h1v1h-1zM225 414h1v1h-1zM222 415h1v1h-1zM223 415h1v1h-1zM224 415h1v1h-1zM225 415h1v1h-1zM222 416h1v1h-1zM224 416h1v1h-1zM229 414h1v1h-1zM230 414h1v1h-1zM228 415h1v1h-1zM229 415h1v1h-1zM230 415h1v1h-1zM228 416h1v1h-1zM229 416h1v1h-1zM235 414h1v1h-1zM236 414h1v1h-1zM234 415h1v1h-1zM235 415h1v1h-1zM236 415h1v1h-1zM234 416h1v1h-1zM235 416h1v1h-1zM239 414h1v1h-1zM241 414h1v1h-1zM238 415h1v1h-1zM239 415h1v1h-1zM240 415h1v1h-1zM241 415h1v1h-1zM238 416h1v1h-1zM240 416h1v1h-1zM245 414h1v1h-1zM246 414h1v1h-1zM244 415h1v1h-1zM245 415h1v1h-1zM246 415h1v1h-1zM244 416h1v1h-1zM245 416h1v1h-1zM29 419h1v1h-1zM31 419h1v1h-1zM28 420h1v1h-1zM29 420h1v1h-1zM30 420h1v1h-1zM31 420h1v1h-1zM28 421h1v1h-1zM30 421h1v1h-1zM35 419h1v1h-1zM36 419h1v1h-1zM34 420h1v1h-1zM35 420h1v1h-1zM36 420h1v1h-1zM34 421h1v1h-1zM35 421h1v1h-1zM40 419h1v1h-1zM41 419h1v1h-1zM39 420h1v1h-1zM40 420h1v1h-1zM41 420h1v1h-1zM39 421h1v1h-1zM40 421h1v1h-1zM45 419h1v1h-1zM47 419h1v1h-1zM44 420h1v1h-1zM45 420h1v1h-1zM46 420h1v1h-1zM47 420h1v1h-1zM44 421h1v1h-1zM46 421h1v1h-1zM51 419h1v1h-1zM52 419h1v1h-1zM50 420h1v1h-1zM51 420h1v1h-1zM52 420h1v1h-1zM50 421h1v1h-1zM51 421h1v1h-1zM56 419h1v1h-1zM57 419h1v1h-1zM55 420h1v1h-1zM56 420h1v1h-1zM57 420h1v1h-1zM55 421h1v1h-1zM56 421h1v1h-1zM61 419h1v1h-1zM63 419h1v1h-1zM60 420h1v1h-1zM61 420h1v1h-1zM62 420h1v1h-1zM63 420h1v1h-1zM60 421h1v1h-1zM62 421h1v1h-1zM67 419h1v1h-1zM68 419h1v1h-1zM66 420h1v1h-1zM67 420h1v1h-1zM68 420h1v1h-1zM66 421h1v1h-1zM67 421h1v1h-1zM73 419h1v1h-1zM74 419h1v1h-1zM72 420h1v1h-1zM73 420h1v1h-1zM74 420h1v1h-1zM72 421h1v1h-1zM73 421h1v1h-1zM77 419h1v1h-1zM79 419h1v1h-1zM76 420h1v1h-1zM77 420h1v1h-1zM78 420h1v1h-1zM79 420h1v1h-1zM76 421h1v1h-1zM78 421h1v1h-1zM83 419h1v1h-1zM84 419h1v1h-1zM82 420h1v1h-1zM83 420h1v1h-1zM84 420h1v1h-1zM82 421h1v1h-1zM83 421h1v1h-1zM89 419h1v1h-1zM90 419h1v1h-1zM88 420h1v1h-1zM89 420h1v1h-1zM90 420h1v1h-1zM88 421h1v1h-1zM89 421h1v1h-1zM94 419h1v1h-1zM96 419h1v1h-1zM93 420h1v1h-1zM94 420h1v1h-1zM95 420h1v1h-1zM96 420h1v1h-1zM93 421h1v1h-1zM95 421h1v1h-1zM100 419h1v1h-1zM101 419h1v1h-1zM99 420h1v1h-1zM100 420h1v1h-1zM101 420h1v1h-1zM99 421h1v1h-1zM100 421h1v1h-1zM105 419h1v1h-1zM106 419h1v1h-1zM104 420h1v1h-1zM105 420h1v1h-1zM106 420h1v1h-1zM104 421h1v1h-1zM105 421h1v1h-1zM110 419h1v1h-1zM112 419h1v1h-1zM109 420h1v1h-1zM110 420h1v1h-1zM111 420h1v1h-1zM112 420h1v1h-1zM109 421h1v1h-1zM111 421h1v1h-1zM116 419h1v1h-1zM117 419h1v1h-1zM115 420h1v1h-1zM116 420h1v1h-1zM117 420h1v1h-1zM115 421h1v1h-1zM116 421h1v1h-1zM121 419h1v1h-1zM122 419h1v1h-1zM120 420h1v1h-1zM121 420h1v1h-1zM122 420h1v1h-1zM120 421h1v1h-1zM121 421h1v1h-1zM126 419h1v1h-1zM128 419h1v1h-1zM125 420h1v1h-1zM126 420h1v1h-1zM127 420h1v1h-1zM128 420h1v1h-1zM125 421h1v1h-1zM127 421h1v1h-1zM132 419h1v1h-1zM133 419h1v1h-1zM131 420h1v1h-1zM132 420h1v1h-1zM133 420h1v1h-1zM131 421h1v1h-1zM132 421h1v1h-1zM137 419h1v1h-1zM138 419h1v1h-1zM136 420h1v1h-1zM137 420h1v1h-1zM138 420h1v1h-1zM136 421h1v1h-1zM137 421h1v1h-1zM142 419h1v1h-1zM144 419h1v1h-1zM141 420h1v1h-1zM142 420h1v1h-1zM143 420h1v1h-1zM144 420h1v1h-1zM141 421h1v1h-1zM143 421h1v1h-1zM148 419h1v1h-1zM149 419h1v1h-1zM147 420h1v1h-1zM148 420h1v1h-1zM149 420h1v1h-1zM147 421h1v1h-1zM148 421h1v1h-1zM154 419h1v1h-1zM155 419h1v1h-1zM153 420h1v1h-1zM154 420h1v1h-1zM155 420h1v1h-1zM153 421h1v1h-1zM154 421h1v1h-1zM158 419h1v1h-1zM160 419h1v1h-1zM157 420h1v1h-1zM158 420h1v1h-1zM159 420h1v1h-1zM160 420h1v1h-1zM157 421h1v1h-1zM159 421h1v1h-1zM164 419h1v1h-1zM165 419h1v1h-1zM163 420h1v1h-1zM164 420h1v1h-1zM165 420h1v1h-1zM163 421h1v1h-1zM164 421h1v1h-1zM170 419h1v1h-1zM171 419h1v1h-1zM169 420h1v1h-1zM170 420h1v1h-1zM171 420h1v1h-1zM169 421h1v1h-1zM170 421h1v1h-1zM175 419h1v1h-1zM177 419h1v1h-1zM174 420h1v1h-1zM175 420h1v1h-1zM176 420h1v1h-1zM177 420h1v1h-1zM174 421h1v1h-1zM176 421h1v1h-1zM181 419h1v1h-1zM182 419h1v1h-1zM180 420h1v1h-1zM181 420h1v1h-1zM182 420h1v1h-1zM180 421h1v1h-1zM181 421h1v1h-1zM186 419h1v1h-1zM187 419h1v1h-1zM185 420h1v1h-1zM186 420h1v1h-1zM187 420h1v1h-1zM185 421h1v1h-1zM186 421h1v1h-1zM191 419h1v1h-1zM193 419h1v1h-1zM190 420h1v1h-1zM191 420h1v1h-1zM192 420h1v1h-1zM193 420h1v1h-1zM190 421h1v1h-1zM192 421h1v1h-1zM197 419h1v1h-1zM198 419h1v1h-1zM196 420h1v1h-1zM197 420h1v1h-1zM198 420h1v1h-1zM196 421h1v1h-1zM197 421h1v1h-1zM202 419h1v1h-1zM203 419h1v1h-1zM201 420h1v1h-1zM202 420h1v1h-1zM203 420h1v1h-1zM201 421h1v1h-1zM202 421h1v1h-1zM207 419h1v1h-1zM209 419h1v1h-1zM206 420h1v1h-1zM207 420h1v1h-1zM208 420h1v1h-1zM209 420h1v1h-1zM206 421h1v1h-1zM208 421h1v1h-1zM213 419h1v1h-1zM214 419h1v1h-1zM212 420h1v1h-1zM213 420h1v1h-1zM214 420h1v1h-1zM212 421h1v1h-1zM213 421h1v1h-1zM218 419h1v1h-1zM219 419h1v1h-1zM217 420h1v1h-1zM218 420h1v1h-1zM219 420h1v1h-1zM217 421h1v1h-1zM218 421h1v1h-1zM223 419h1v1h-1zM225 419h1v1h-1zM222 420h1v1h-1zM223 420h1v1h-1zM224 420h1v1h-1zM225 420h1v1h-1zM222 421h1v1h-1zM224 421h1v1h-1zM229 419h1v1h-1zM230 419h1v1h-1zM228 420h1v1h-1zM229 420h1v1h-1zM230 420h1v1h-1zM228 421h1v1h-1zM229 421h1v1h-1zM235 419h1v1h-1zM236 419h1v1h-1zM234 420h1v1h-1zM235 420h1v1h-1zM236 420h1v1h-1zM234 421h1v1h-1zM235 421h1v1h-1zM239 419h1v1h-1zM241 419h1v1h-1zM238 420h1v1h-1zM239 420h1v1h-1zM240 420h1v1h-1zM241 420h1v1h-1zM238 421h1v1h-1zM240 421h1v1h-1zM245 419h1v1h-1zM246 419h1v1h-1zM244 420h1v1h-1zM245 420h1v1h-1zM246 420h1v1h-1zM244 421h1v1h-1zM245 421h1v1h-1zM28 425h1v1h-1zM29 425h1v1h-1zM31 425h1v1h-1zM29 426h1v1h-1zM30 426h1v1h-1zM31 426h1v1h-1zM28 427h1v1h-1zM30 427h1v1h-1zM34 425h1v1h-1zM35 425h1v1h-1zM36 425h1v1h-1zM35 426h1v1h-1zM36 426h1v1h-1zM34 427h1v1h-1zM35 427h1v1h-1zM39 425h1v1h-1zM40 425h1v1h-1zM41 425h1v1h-1zM40 426h1v1h-1zM41 426h1v1h-1zM39 427h1v1h-1zM40 427h1v1h-1zM44 425h1v1h-1zM45 425h1v1h-1zM47 425h1v1h-1zM45 426h1v1h-1zM46 426h1v1h-1zM47 426h1v1h-1zM44 427h1v1h-1zM46 427h1v1h-1zM50 425h1v1h-1zM51 425h1v1h-1zM52 425h1v1h-1zM51 426h1v1h-1zM52 426h1v1h-1zM50 427h1v1h-1zM51 427h1v1h-1zM55 425h1v1h-1zM56 425h1v1h-1zM57 425h1v1h-1zM56 426h1v1h-1zM57 426h1v1h-1zM55 427h1v1h-1zM56 427h1v1h-1zM60 425h1v1h-1zM61 425h1v1h-1zM63 425h1v1h-1zM61 426h1v1h-1zM62 426h1v1h-1zM63 426h1v1h-1zM60 427h1v1h-1zM62 427h1v1h-1zM66 425h1v1h-1zM67 425h1v1h-1zM68 425h1v1h-1zM67 426h1v1h-1zM68 426h1v1h-1zM66 427h1v1h-1zM67 427h1v1h-1zM72 425h1v1h-1zM73 425h1v1h-1zM74 425h1v1h-1zM73 426h1v1h-1zM74 426h1v1h-1zM72 427h1v1h-1zM73 427h1v1h-1zM76 425h1v1h-1zM77 425h1v1h-1zM79 425h1v1h-1zM77 426h1v1h-1zM78 426h1v1h-1zM79 426h1v1h-1zM76 427h1v1h-1zM78 427h1v1h-1zM82 425h1v1h-1zM83 425h1v1h-1zM84 425h1v1h-1zM83 426h1v1h-1zM84 426h1v1h-1zM82 427h1v1h-1zM83 427h1v1h-1zM88 425h1v1h-1zM89 425h1v1h-1zM90 425h1v1h-1zM89 426h1v1h-1zM90 426h1v1h-1zM88 427h1v1h-1zM89 427h1v1h-1zM93 425h1v1h-1zM94 425h1v1h-1zM96 425h1v1h-1zM94 426h1v1h-1zM95 426h1v1h-1zM96 426h1v1h-1zM93 427h1v1h-1zM95 427h1v1h-1zM99 425h1v1h-1zM100 425h1v1h-1zM101 425h1v1h-1zM100 426h1v1h-1zM101 426h1v1h-1zM99 427h1v1h-1zM100 427h1v1h-1zM104 425h1v1h-1zM105 425h1v1h-1zM106 425h1v1h-1zM105 426h1v1h-1zM106 426h1v1h-1zM104 427h1v1h-1zM105 427h1v1h-1zM109 425h1v1h-1zM110 425h1v1h-1zM112 425h1v1h-1zM110 426h1v1h-1zM111 426h1v1h-1zM112 426h1v1h-1zM109 427h1v1h-1zM111 427h1v1h-1zM115 425h1v1h-1zM116 425h1v1h-1zM117 425h1v1h-1zM116 426h1v1h-1zM117 426h1v1h-1zM115 427h1v1h-1zM116 427h1v1h-1zM120 425h1v1h-1zM121 425h1v1h-1zM122 425h1v1h-1zM121 426h1v1h-1zM122 426h1v1h-1zM120 427h1v1h-1zM121 427h1v1h-1zM125 425h1v1h-1zM126 425h1v1h-1zM128 425h1v1h-1zM126 426h1v1h-1zM127 426h1v1h-1zM128 426h1v1h-1zM125 427h1v1h-1zM127 427h1v1h-1zM131 425h1v1h-1zM132 425h1v1h-1zM133 425h1v1h-1zM132 426h1v1h-1zM133 426h1v1h-1zM131 427h1v1h-1zM132 427h1v1h-1zM136 425h1v1h-1zM137 425h1v1h-1zM138 425h1v1h-1zM137 426h1v1h-1zM138 426h1v1h-1zM136 427h1v1h-1zM137 427h1v1h-1zM141 425h1v1h-1zM142 425h1v1h-1zM144 425h1v1h-1zM142 426h1v1h-1zM143 426h1v1h-1zM144 426h1v1h-1zM141 427h1v1h-1zM143 427h1v1h-1zM147 425h1v1h-1zM148 425h1v1h-1zM149 425h1v1h-1zM148 426h1v1h-1zM149 426h1v1h-1zM147 427h1v1h-1zM148 427h1v1h-1zM153 425h1v1h-1zM154 425h1v1h-1zM155 425h1v1h-1zM154 426h1v1h-1zM155 426h1v1h-1zM153 427h1v1h-1zM154 427h1v1h-1zM157 425h1v1h-1zM158 425h1v1h-1zM160 425h1v1h-1zM158 426h1v1h-1zM159 426h1v1h-1zM160 426h1v1h-1zM157 427h1v1h-1zM159 427h1v1h-1zM163 425h1v1h-1zM164 425h1v1h-1zM165 425h1v1h-1zM164 426h1v1h-1zM165 426h1v1h-1zM163 427h1v1h-1zM164 427h1v1h-1zM169 425h1v1h-1zM170 425h1v1h-1zM171 425h1v1h-1zM170 426h1v1h-1zM171 426h1v1h-1zM169 427h1v1h-1zM170 427h1v1h-1zM174 425h1v1h-1zM175 425h1v1h-1zM177 425h1v1h-1zM175 426h1v1h-1zM176 426h1v1h-1zM177 426h1v1h-1zM174 427h1v1h-1zM176 427h1v1h-1zM180 425h1v1h-1zM181 425h1v1h-1zM182 425h1v1h-1zM181 426h1v1h-1zM182 426h1v1h-1zM180 427h1v1h-1zM181 427h1v1h-1zM185 425h1v1h-1zM186 425h1v1h-1zM187 425h1v1h-1zM186 426h1v1h-1zM187 426h1v1h-1zM185 427h1v1h-1zM186 427h1v1h-1zM190 425h1v1h-1zM191 425h1v1h-1zM193 425h1v1h-1zM191 426h1v1h-1zM192 426h1v1h-1zM193 426h1v1h-1zM190 427h1v1h-1zM192 427h1v1h-1zM196 425h1v1h-1zM197 425h1v1h-1zM198 425h1v1h-1zM197 426h1v1h-1zM198 426h1v1h-1zM196 427h1v1h-1zM197 427h1v1h-1zM201 425h1v1h-1zM202 425h1v1h-1zM203 425h1v1h-1zM202 426h1v1h-1zM203 426h1v1h-1zM201 427h1v1h-1zM202 427h1v1h-1zM206 425h1v1h-1zM207 425h1v1h-1zM209 425h1v1h-1zM207 426h1v1h-1zM208 426h1v1h-1zM209 426h1v1h-1zM206 427h1v1h-1zM208 427h1v1h-1zM212 425h1v1h-1zM213 425h1v1h-1zM214 425h1v1h-1zM213 426h1v1h-1zM214 426h1v1h-1zM212 427h1v1h-1zM213 427h1v1h-1zM217 425h1v1h-1zM218 425h1v1h-1zM219 425h1v1h-1zM218 426h1v1h-1zM219 426h1v1h-1zM217 427h1v1h-1zM218 427h1v1h-1zM222 425h1v1h-1zM223 425h1v1h-1zM225 425h1v1h-1zM223 426h1v1h-1zM224 426h1v1h-1zM225 426h1v1h-1zM222 427h1v1h-1zM224 427h1v1h-1zM228 425h1v1h-1zM229 425h1v1h-1zM230 425h1v1h-1zM229 426h1v1h-1zM230 426h1v1h-1zM228 427h1v1h-1zM229 427h1v1h-1zM234 425h1v1h-1zM235 425h1v1h-1zM236 425h1v1h-1zM235 426h1v1h-1zM236 426h1v1h-1zM234 427h1v1h-1zM235 427h1v1h-1zM238 425h1v1h-1zM239 425h1v1h-1zM241 425h1v1h-1zM239 426h1v1h-1zM240 426h1v1h-1zM241 426h1v1h-1zM238 427h1v1h-1zM240 427h1v1h-1zM244 425h1v1h-1zM245 425h1v1h-1zM246 425h1v1h-1zM245 426h1v1h-1zM246 426h1v1h-1zM244 427h1v1h-1zM245 427h1v1h-1z" fill="#000"/><clipPath id="hpint1"><rect x="27" y="430" width="220" height="14"/></clipPath><path d="M3.5 444L17.5 430M9.5 444L23.5 430M16.5 444L30.5 430M23.5 444L37.5 430M30.5 444L44.5 430M37.5 444L51.5 430M44.5 444L58.5 430M51.5 444L65.5 430M57.5 444L71.5 430M64.5 444L78.5 430M71.5 444L85.5 430M78.5 444L92.5 430M85.5 444L99.5 430M92.5 444L106.5 430M99.5 444L113.5 430M105.5 444L119.5 430M112.5 444L126.5 430M119.5 444L133.5 430M126.5 444L140.5 430M133.5 444L147.5 430M140.5 444L154.5 430M147.5 444L161.5 430M153.5 444L167.5 430M160.5 444L174.5 430M167.5 444L181.5 430M174.5 444L188.5 430M181.5 444L195.5 430M188.5 444L202.5 430M195.5 444L209.5 430M201.5 444L215.5 430M208.5 444L222.5 430M215.5 444L229.5 430M222.5 444L236.5 430M229.5 444L243.5 430M236.5 444L250.5 430M243.5 444L257.5 430M250.5 444L264.5 430M256.5 444L270.5 430" stroke="#000" stroke-width="1.42" fill="none" clip-path="url(#hpint1)"/><clipPath id="hpint2"><rect x="27" y="444" width="220" height="15"/></clipPath><path d="M1 459L16 444M8 459L23 444M15 459L30 444M22 459L37 444M29 459L44 444M36 459L51 444M42 459L57 444M49 459L64 444M56 459L71 444M63 459L78 444M70 459L85 444M77 459L92 444M84 459L99 444M90 459L105 444M97 459L112 444M104 459L119 444M111 459L126 444M118 459L133 444M125 459L140 444M132 459L147 444M138 459L153 444M145 459L160 444M152 459L167 444M159 459L174 444M166 459L181 444M173 459L188 444M180 459L195 444M186 459L201 444M193 459L208 444M200 459L215 444M207 459L222 444M214 459L229 444M221 459L236 444M228 459L243 444M235 459L250 444M241 459L256 444M248 459L263 444M255 459L270 444" stroke="#000" stroke-width="1.0" fill="none" clip-path="url(#hpint2)"/><path d="M30 460h1v1h-1zM33 460h1v1h-1zM35 460h1v1h-1zM37 460h1v1h-1zM48 460h1v1h-1zM60 460h1v1h-1zM61 460h1v1h-1zM83 460h1v1h-1zM97 460h1v1h-1zM105 460h1v1h-1zM109 460h1v1h-1zM115 460h1v1h-1zM133 460h1v1h-1zM142 460h1v1h-1zM151 460h1v1h-1zM152 460h1v1h-1zM156 460h1v1h-1zM157 460h1v1h-1zM161 460h1v1h-1zM179 460h1v1h-1zM184 460h1v1h-1zM206 460h1v1h-1zM207 460h1v1h-1zM227 460h1v1h-1zM34 461h1v1h-1zM60 461h1v1h-1zM63 461h1v1h-1zM101 461h1v1h-1zM103 461h1v1h-1zM126 461h1v1h-1zM129 461h1v1h-1zM133 461h1v1h-1zM139 461h1v1h-1zM152 461h1v1h-1zM155 461h1v1h-1zM159 461h1v1h-1zM161 461h1v1h-1zM173 461h1v1h-1zM182 461h1v1h-1zM184 461h1v1h-1zM205 461h1v1h-1zM207 461h1v1h-1zM211 461h1v1h-1zM229 461h1v1h-1zM235 461h1v1h-1zM239 461h1v1h-1zM240 461h1v1h-1zM35 462h1v1h-1zM52 462h1v1h-1zM62 462h1v1h-1zM68 462h1v1h-1zM71 462h1v1h-1zM84 462h1v1h-1zM90 462h1v1h-1zM91 462h1v1h-1zM105 462h1v1h-1zM126 462h1v1h-1zM127 462h1v1h-1zM135 462h1v1h-1zM150 462h1v1h-1zM168 462h1v1h-1zM174 462h1v1h-1zM211 462h1v1h-1zM226 462h1v1h-1zM227 462h1v1h-1zM232 462h1v1h-1zM29 463h1v1h-1zM40 463h1v1h-1zM46 463h1v1h-1zM58 463h1v1h-1zM66 463h1v1h-1zM94 463h1v1h-1zM95 463h1v1h-1zM106 463h1v1h-1zM112 463h1v1h-1zM123 463h1v1h-1zM130 463h1v1h-1zM134 463h1v1h-1zM135 463h1v1h-1zM136 463h1v1h-1zM149 463h1v1h-1zM154 463h1v1h-1zM174 463h1v1h-1zM178 463h1v1h-1zM179 463h1v1h-1zM186 463h1v1h-1zM223 463h1v1h-1zM27 464h1v1h-1zM35 464h1v1h-1zM57 464h1v1h-1zM65 464h1v1h-1zM86 464h1v1h-1zM107 464h1v1h-1zM110 464h1v1h-1zM123 464h1v1h-1zM138 464h1v1h-1zM140 464h1v1h-1zM144 464h1v1h-1zM161 464h1v1h-1zM175 464h1v1h-1zM204 464h1v1h-1zM212 464h1v1h-1zM213 464h1v1h-1zM222 464h1v1h-1zM223 464h1v1h-1zM243 464h1v1h-1zM33 465h1v1h-1zM37 465h1v1h-1zM39 465h1v1h-1zM51 465h1v1h-1zM55 465h1v1h-1zM64 465h1v1h-1zM80 465h1v1h-1zM105 465h1v1h-1zM108 465h1v1h-1zM113 465h1v1h-1zM114 465h1v1h-1zM119 465h1v1h-1zM125 465h1v1h-1zM132 465h1v1h-1zM145 465h1v1h-1zM155 465h1v1h-1zM167 465h1v1h-1zM171 465h1v1h-1zM187 465h1v1h-1zM198 465h1v1h-1zM32 466h1v1h-1zM77 466h1v1h-1zM100 466h1v1h-1zM103 466h1v1h-1zM141 466h1v1h-1zM153 466h1v1h-1zM160 466h1v1h-1zM161 466h1v1h-1zM192 466h1v1h-1zM199 466h1v1h-1zM208 466h1v1h-1zM211 466h1v1h-1zM220 466h1v1h-1zM29 467h1v1h-1zM33 467h1v1h-1zM35 467h1v1h-1zM54 467h1v1h-1zM69 467h1v1h-1zM71 467h1v1h-1zM77 467h1v1h-1zM88 467h1v1h-1zM89 467h1v1h-1zM96 467h1v1h-1zM101 467h1v1h-1zM106 467h1v1h-1zM114 467h1v1h-1zM115 467h1v1h-1zM118 467h1v1h-1zM124 467h1v1h-1zM141 467h1v1h-1zM159 467h1v1h-1zM165 467h1v1h-1zM210 467h1v1h-1zM220 467h1v1h-1zM221 467h1v1h-1zM234 467h1v1h-1zM237 467h1v1h-1zM238 467h1v1h-1zM244 467h1v1h-1zM40 468h1v1h-1zM46 468h1v1h-1zM51 468h1v1h-1zM68 468h1v1h-1zM71 468h1v1h-1zM90 468h1v1h-1zM107 468h1v1h-1zM122 468h1v1h-1zM126 468h1v1h-1zM130 468h1v1h-1zM143 468h1v1h-1zM154 468h1v1h-1zM158 468h1v1h-1zM164 468h1v1h-1zM175 468h1v1h-1zM187 468h1v1h-1zM194 468h1v1h-1zM201 468h1v1h-1zM205 468h1v1h-1zM213 468h1v1h-1zM245 468h1v1h-1zM34 469h1v1h-1zM37 469h1v1h-1zM46 469h1v1h-1zM93 469h1v1h-1zM104 469h1v1h-1zM107 469h1v1h-1zM132 469h1v1h-1zM169 469h1v1h-1zM170 469h1v1h-1zM224 469h1v1h-1zM229 469h1v1h-1zM33 470h1v1h-1zM34 470h1v1h-1zM47 470h1v1h-1zM54 470h1v1h-1zM84 470h1v1h-1zM92 470h1v1h-1zM144 470h1v1h-1zM157 470h1v1h-1zM173 470h1v1h-1zM174 470h1v1h-1zM179 470h1v1h-1zM190 470h1v1h-1zM194 470h1v1h-1zM197 470h1v1h-1zM219 470h1v1h-1zM226 470h1v1h-1zM235 470h1v1h-1zM47 471h1v1h-1zM57 471h1v1h-1zM58 471h1v1h-1zM61 471h1v1h-1zM70 471h1v1h-1zM79 471h1v1h-1zM100 471h1v1h-1zM112 471h1v1h-1zM118 471h1v1h-1zM122 471h1v1h-1zM152 471h1v1h-1zM163 471h1v1h-1zM192 471h1v1h-1zM194 471h1v1h-1zM212 471h1v1h-1zM215 471h1v1h-1zM238 471h1v1h-1zM32 472h1v1h-1zM46 472h1v1h-1zM52 472h1v1h-1zM63 472h1v1h-1zM68 472h1v1h-1zM75 472h1v1h-1zM78 472h1v1h-1zM81 472h1v1h-1zM92 472h1v1h-1zM113 472h1v1h-1zM123 472h1v1h-1zM130 472h1v1h-1zM139 472h1v1h-1zM147 472h1v1h-1zM152 472h1v1h-1zM166 472h1v1h-1zM183 472h1v1h-1zM185 472h1v1h-1zM192 472h1v1h-1zM196 472h1v1h-1zM226 472h1v1h-1zM235 472h1v1h-1zM237 472h1v1h-1zM28 473h1v1h-1zM41 473h1v1h-1zM45 473h1v1h-1zM88 473h1v1h-1zM91 473h1v1h-1zM104 473h1v1h-1zM108 473h1v1h-1zM113 473h1v1h-1zM138 473h1v1h-1zM139 473h1v1h-1zM144 473h1v1h-1zM162 473h1v1h-1zM174 473h1v1h-1zM181 473h1v1h-1zM222 473h1v1h-1zM30 474h1v1h-1zM33 474h1v1h-1zM48 474h1v1h-1zM66 474h1v1h-1zM73 474h1v1h-1zM88 474h1v1h-1zM95 474h1v1h-1zM101 474h1v1h-1zM105 474h1v1h-1zM115 474h1v1h-1zM125 474h1v1h-1zM132 474h1v1h-1zM143 474h1v1h-1zM159 474h1v1h-1zM162 474h1v1h-1zM164 474h1v1h-1zM189 474h1v1h-1zM191 474h1v1h-1zM206 474h1v1h-1zM240 474h1v1h-1zM246 474h1v1h-1zM34 475h1v1h-1zM41 475h1v1h-1zM77 475h1v1h-1zM87 475h1v1h-1zM92 475h1v1h-1zM98 475h1v1h-1zM102 475h1v1h-1zM110 475h1v1h-1zM187 475h1v1h-1zM189 475h1v1h-1zM209 475h1v1h-1zM228 475h1v1h-1zM243 475h1v1h-1zM37 476h1v1h-1zM46 476h1v1h-1zM54 476h1v1h-1zM84 476h1v1h-1zM122 476h1v1h-1zM129 476h1v1h-1zM157 476h1v1h-1zM184 476h1v1h-1zM196 476h1v1h-1zM199 476h1v1h-1zM203 476h1v1h-1zM207 476h1v1h-1zM221 476h1v1h-1zM223 476h1v1h-1zM226 476h1v1h-1zM240 476h1v1h-1zM47 477h1v1h-1zM49 477h1v1h-1zM59 477h1v1h-1zM81 477h1v1h-1zM92 477h1v1h-1zM96 477h1v1h-1zM100 477h1v1h-1zM103 477h1v1h-1zM122 477h1v1h-1zM124 477h1v1h-1zM136 477h1v1h-1zM145 477h1v1h-1zM149 477h1v1h-1zM150 477h1v1h-1zM160 477h1v1h-1zM173 477h1v1h-1zM181 477h1v1h-1zM182 477h1v1h-1zM186 477h1v1h-1zM188 477h1v1h-1zM212 477h1v1h-1zM213 477h1v1h-1zM228 477h1v1h-1zM33 478h1v1h-1zM63 478h1v1h-1zM75 478h1v1h-1zM86 478h1v1h-1zM87 478h1v1h-1zM88 478h1v1h-1zM108 478h1v1h-1zM115 478h1v1h-1zM130 478h1v1h-1zM131 478h1v1h-1zM156 478h1v1h-1zM160 478h1v1h-1zM172 478h1v1h-1zM177 478h1v1h-1zM191 478h1v1h-1zM196 478h1v1h-1zM206 478h1v1h-1zM209 478h1v1h-1zM228 478h1v1h-1zM230 478h1v1h-1zM239 478h1v1h-1zM39 479h1v1h-1zM43 479h1v1h-1zM58 479h1v1h-1zM71 479h1v1h-1zM74 479h1v1h-1zM93 479h1v1h-1zM103 479h1v1h-1zM109 479h1v1h-1zM133 479h1v1h-1zM137 479h1v1h-1zM146 479h1v1h-1zM167 479h1v1h-1zM171 479h1v1h-1zM172 479h1v1h-1zM175 479h1v1h-1zM180 479h1v1h-1zM191 479h1v1h-1zM192 479h1v1h-1zM205 479h1v1h-1zM233 479h1v1h-1zM35 480h1v1h-1zM38 480h1v1h-1zM53 480h1v1h-1zM72 480h1v1h-1zM79 480h1v1h-1zM87 480h1v1h-1zM92 480h1v1h-1zM137 480h1v1h-1zM181 480h1v1h-1zM194 480h1v1h-1zM197 480h1v1h-1zM198 480h1v1h-1zM229 480h1v1h-1zM50 481h1v1h-1zM69 481h1v1h-1zM88 481h1v1h-1zM92 481h1v1h-1zM109 481h1v1h-1zM124 481h1v1h-1zM136 481h1v1h-1zM163 481h1v1h-1zM189 481h1v1h-1zM191 481h1v1h-1zM195 481h1v1h-1zM215 481h1v1h-1zM216 481h1v1h-1zM218 481h1v1h-1zM241 481h1v1h-1zM244 481h1v1h-1zM41 482h1v1h-1zM45 482h1v1h-1zM74 482h1v1h-1zM118 482h1v1h-1zM127 482h1v1h-1zM132 482h1v1h-1zM195 482h1v1h-1zM215 482h1v1h-1zM216 482h1v1h-1zM228 482h1v1h-1zM229 482h1v1h-1zM234 482h1v1h-1zM239 482h1v1h-1zM32 483h1v1h-1zM63 483h1v1h-1zM64 483h1v1h-1zM84 483h1v1h-1zM85 483h1v1h-1zM101 483h1v1h-1zM107 483h1v1h-1zM120 483h1v1h-1zM135 483h1v1h-1zM157 483h1v1h-1zM162 483h1v1h-1zM172 483h1v1h-1zM183 483h1v1h-1zM184 483h1v1h-1zM242 483h1v1h-1zM244 483h1v1h-1zM65 484h1v1h-1zM68 484h1v1h-1zM75 484h1v1h-1zM86 484h1v1h-1zM104 484h1v1h-1zM111 484h1v1h-1zM128 484h1v1h-1zM150 484h1v1h-1zM175 484h1v1h-1zM216 484h1v1h-1zM225 484h1v1h-1zM235 484h1v1h-1zM237 484h1v1h-1zM238 484h1v1h-1zM59 485h1v1h-1zM87 485h1v1h-1zM121 485h1v1h-1zM124 485h1v1h-1zM137 485h1v1h-1zM146 485h1v1h-1zM148 485h1v1h-1zM160 485h1v1h-1zM167 485h1v1h-1zM173 485h1v1h-1zM192 485h1v1h-1zM196 485h1v1h-1zM209 485h1v1h-1zM223 485h1v1h-1zM225 485h1v1h-1zM27 486h1v1h-1zM42 486h1v1h-1zM48 486h1v1h-1zM53 486h1v1h-1zM57 486h1v1h-1zM60 486h1v1h-1zM70 486h1v1h-1zM78 486h1v1h-1zM115 486h1v1h-1zM129 486h1v1h-1zM178 486h1v1h-1zM181 486h1v1h-1zM184 486h1v1h-1zM188 486h1v1h-1zM201 486h1v1h-1zM33 487h1v1h-1zM35 487h1v1h-1zM54 487h1v1h-1zM56 487h1v1h-1zM64 487h1v1h-1zM68 487h1v1h-1zM82 487h1v1h-1zM102 487h1v1h-1zM113 487h1v1h-1zM116 487h1v1h-1zM118 487h1v1h-1zM141 487h1v1h-1zM150 487h1v1h-1zM167 487h1v1h-1zM207 487h1v1h-1zM211 487h1v1h-1zM217 487h1v1h-1zM56 488h1v1h-1zM79 488h1v1h-1zM99 488h1v1h-1zM109 488h1v1h-1zM110 488h1v1h-1zM117 488h1v1h-1zM121 488h1v1h-1zM123 488h1v1h-1zM149 488h1v1h-1zM166 488h1v1h-1zM168 488h1v1h-1zM178 488h1v1h-1zM182 488h1v1h-1zM219 488h1v1h-1zM225 488h1v1h-1zM228 488h1v1h-1zM35 489h1v1h-1zM49 489h1v1h-1zM87 489h1v1h-1zM95 489h1v1h-1zM97 489h1v1h-1zM104 489h1v1h-1zM108 489h1v1h-1zM114 489h1v1h-1zM117 489h1v1h-1zM129 489h1v1h-1zM131 489h1v1h-1zM137 489h1v1h-1zM157 489h1v1h-1zM162 489h1v1h-1zM207 489h1v1h-1zM214 489h1v1h-1zM220 489h1v1h-1zM239 489h1v1h-1zM241 489h1v1h-1zM184 464h1v1h-1zM185 464h1v1h-1zM184 465h1v1h-1zM185 465h1v1h-1zM205 478h1v1h-1zM206 478h1v1h-1zM205 479h1v1h-1zM206 479h1v1h-1zM134 473h1v1h-1zM135 474h1v1h-1zM136 473h1v1h-1zM155 482h1v1h-1zM156 482h1v1h-1zM155 483h1v1h-1zM156 483h1v1h-1zM177 467h1v1h-1zM178 467h1v1h-1zM179 467h1v1h-1zM115 466h1v1h-1zM114 467h1v1h-1zM115 467h1v1h-1zM116 467h1v1h-1zM115 468h1v1h-1zM50 474h1v1h-1zM51 475h1v1h-1zM52 474h1v1h-1zM214 483h1v1h-1zM213 484h1v1h-1zM214 484h1v1h-1zM215 484h1v1h-1zM214 485h1v1h-1zM214 462h1v1h-1zM213 463h1v1h-1zM214 463h1v1h-1zM215 463h1v1h-1zM214 464h1v1h-1zM182 460h1v1h-1zM183 460h1v1h-1zM182 461h1v1h-1zM183 461h1v1h-1zM91 473h1v1h-1zM92 474h1v1h-1zM93 473h1v1h-1zM191 476h1v1h-1zM190 477h1v1h-1zM191 477h1v1h-1zM192 477h1v1h-1zM191 478h1v1h-1zM242 461h1v1h-1zM243 461h1v1h-1zM244 461h1v1h-1zM58 470h1v1h-1zM59 471h1v1h-1zM60 470h1v1h-1zM71 487h1v1h-1zM70 488h1v1h-1zM71 488h1v1h-1zM72 488h1v1h-1zM71 489h1v1h-1zM164 479h1v1h-1zM165 480h1v1h-1zM166 479h1v1h-1zM159 468h1v1h-1zM158 469h1v1h-1zM159 469h1v1h-1zM160 469h1v1h-1zM159 470h1v1h-1zM177 481h1v1h-1zM176 482h1v1h-1zM177 482h1v1h-1zM178 482h1v1h-1zM177 483h1v1h-1zM141 485h1v1h-1zM142 486h1v1h-1zM143 485h1v1h-1zM102 468h1v1h-1zM103 468h1v1h-1zM104 468h1v1h-1zM81 479h1v1h-1zM82 480h1v1h-1zM83 479h1v1h-1zM177 466h1v1h-1zM178 466h1v1h-1zM179 466h1v1h-1zM61 466h1v1h-1zM60 467h1v1h-1zM61 467h1v1h-1zM62 467h1v1h-1zM61 468h1v1h-1zM72 472h1v1h-1zM71 473h1v1h-1zM72 473h1v1h-1zM73 473h1v1h-1zM72 474h1v1h-1zM130 487h1v1h-1zM131 487h1v1h-1zM132 487h1v1h-1zM129 464h1v1h-1zM128 465h1v1h-1zM129 465h1v1h-1zM130 465h1v1h-1zM129 466h1v1h-1zM40 473h1v1h-1zM39 474h1v1h-1zM40 474h1v1h-1zM41 474h1v1h-1zM40 475h1v1h-1zM73 476h1v1h-1zM72 477h1v1h-1zM73 477h1v1h-1zM74 477h1v1h-1zM73 478h1v1h-1zM201 466h1v1h-1zM202 466h1v1h-1zM203 466h1v1h-1zM96 486h1v1h-1zM97 487h1v1h-1zM98 486h1v1h-1zM59 471h1v1h-1zM60 471h1v1h-1zM61 471h1v1h-1zM158 476h1v1h-1zM159 477h1v1h-1zM160 476h1v1h-1zM63 465h1v1h-1zM62 466h1v1h-1zM63 466h1v1h-1zM64 466h1v1h-1zM63 467h1v1h-1zM202 484h1v1h-1zM201 485h1v1h-1zM202 485h1v1h-1zM203 485h1v1h-1zM202 486h1v1h-1zM27 481h1v1h-1zM28 481h1v1h-1zM29 481h1v1h-1zM75 462h1v1h-1zM74 463h1v1h-1zM75 463h1v1h-1zM76 463h1v1h-1zM75 464h1v1h-1zM50 466h1v1h-1zM51 466h1v1h-1zM50 467h1v1h-1zM51 467h1v1h-1zM237 469h1v1h-1zM238 469h1v1h-1zM239 469h1v1h-1zM110 479h1v1h-1zM111 480h1v1h-1zM112 479h1v1h-1zM102 486h1v1h-1zM101 487h1v1h-1zM102 487h1v1h-1zM103 487h1v1h-1zM102 488h1v1h-1zM228 471h1v1h-1zM229 471h1v1h-1zM228 472h1v1h-1zM229 472h1v1h-1zM205 483h1v1h-1zM206 483h1v1h-1zM205 484h1v1h-1zM206 484h1v1h-1zM173 461h1v1h-1zM174 461h1v1h-1zM173 462h1v1h-1zM174 462h1v1h-1zM70 478h1v1h-1zM69 479h1v1h-1zM70 479h1v1h-1zM71 479h1v1h-1zM70 480h1v1h-1zM162 462h1v1h-1zM163 462h1v1h-1zM164 462h1v1h-1zM76 467h1v1h-1zM77 467h1v1h-1zM78 467h1v1h-1zM167 484h1v1h-1zM166 485h1v1h-1zM167 485h1v1h-1zM168 485h1v1h-1zM167 486h1v1h-1zM144 461h1v1h-1zM143 462h1v1h-1zM144 462h1v1h-1zM145 462h1v1h-1zM144 463h1v1h-1zM92 487h1v1h-1zM93 487h1v1h-1zM92 488h1v1h-1zM93 488h1v1h-1zM129 480h1v1h-1zM128 481h1v1h-1zM129 481h1v1h-1zM130 481h1v1h-1zM129 482h1v1h-1zM228 477h1v1h-1zM227 478h1v1h-1zM228 478h1v1h-1zM229 478h1v1h-1zM228 479h1v1h-1zM208 463h1v1h-1zM209 464h1v1h-1zM210 463h1v1h-1zM234 487h1v1h-1zM233 488h1v1h-1zM234 488h1v1h-1zM235 488h1v1h-1zM234 489h1v1h-1zM100 468h1v1h-1zM99 469h1v1h-1zM100 469h1v1h-1zM101 469h1v1h-1zM100 470h1v1h-1zM183 462h1v1h-1zM184 463h1v1h-1zM185 462h1v1h-1zM226 461h1v1h-1zM227 461h1v1h-1zM226 462h1v1h-1zM227 462h1v1h-1zM184 472h1v1h-1zM183 473h1v1h-1zM184 473h1v1h-1zM185 473h1v1h-1zM184 474h1v1h-1zM174 465h1v1h-1zM175 465h1v1h-1zM176 465h1v1h-1zM113 468h1v1h-1zM114 469h1v1h-1zM115 468h1v1h-1zM188 465h1v1h-1zM187 466h1v1h-1zM188 466h1v1h-1zM189 466h1v1h-1zM188 467h1v1h-1zM72 478h1v1h-1zM73 478h1v1h-1zM72 479h1v1h-1zM73 479h1v1h-1zM168 465h1v1h-1zM169 465h1v1h-1zM168 466h1v1h-1zM169 466h1v1h-1zM88 471h1v1h-1zM89 471h1v1h-1zM90 471h1v1h-1zM61 477h1v1h-1zM62 477h1v1h-1zM63 477h1v1h-1zM175 474h1v1h-1zM176 475h1v1h-1zM177 474h1v1h-1zM37 471h1v1h-1zM38 471h1v1h-1zM37 472h1v1h-1zM38 472h1v1h-1zM32 480h1v1h-1zM31 481h1v1h-1zM32 481h1v1h-1zM33 481h1v1h-1zM32 482h1v1h-1zM241 464h1v1h-1zM242 464h1v1h-1zM241 465h1v1h-1zM242 465h1v1h-1zM181 461h1v1h-1zM182 462h1v1h-1zM183 461h1v1h-1zM60 469h1v1h-1zM59 470h1v1h-1zM60 470h1v1h-1zM61 470h1v1h-1zM60 471h1v1h-1zM236 487h1v1h-1zM237 487h1v1h-1zM236 488h1v1h-1zM237 488h1v1h-1zM156 481h1v1h-1zM157 482h1v1h-1zM158 481h1v1h-1zM230 473h1v1h-1zM231 474h1v1h-1zM232 473h1v1h-1zM166 481h1v1h-1zM165 482h1v1h-1zM166 482h1v1h-1zM167 482h1v1h-1zM166 483h1v1h-1zM108 465h1v1h-1zM109 466h1v1h-1zM110 465h1v1h-1zM141 465h1v1h-1zM142 465h1v1h-1zM143 465h1v1h-1zM130 465h1v1h-1zM131 466h1v1h-1zM132 465h1v1h-1zM104 472h1v1h-1zM105 473h1v1h-1zM106 472h1v1h-1zM168 470h1v1h-1zM169 471h1v1h-1zM170 470h1v1h-1zM130 471h1v1h-1zM131 471h1v1h-1zM130 472h1v1h-1zM131 472h1v1h-1zM162 470h1v1h-1zM163 470h1v1h-1zM164 470h1v1h-1zM218 463h1v1h-1zM219 463h1v1h-1zM218 464h1v1h-1zM219 464h1v1h-1zM172 468h1v1h-1zM173 468h1v1h-1zM172 469h1v1h-1zM173 469h1v1h-1zM66 470h1v1h-1zM65 471h1v1h-1zM66 471h1v1h-1zM67 471h1v1h-1zM66 472h1v1h-1zM131 460h1v1h-1zM132 460h1v1h-1zM131 461h1v1h-1zM132 461h1v1h-1zM52 465h1v1h-1zM53 465h1v1h-1zM54 465h1v1h-1zM231 468h1v1h-1zM230 469h1v1h-1zM231 469h1v1h-1zM232 469h1v1h-1zM231 470h1v1h-1zM42 464h1v1h-1zM41 465h1v1h-1zM42 465h1v1h-1zM43 465h1v1h-1zM42 466h1v1h-1zM205 463h1v1h-1zM204 464h1v1h-1zM205 464h1v1h-1zM206 464h1v1h-1zM205 465h1v1h-1zM115 470h1v1h-1zM116 471h1v1h-1zM117 470h1v1h-1zM239 474h1v1h-1zM240 474h1v1h-1zM241 474h1v1h-1zM194 485h1v1h-1zM195 485h1v1h-1zM194 486h1v1h-1zM195 486h1v1h-1zM114 469h1v1h-1zM113 470h1v1h-1zM114 470h1v1h-1zM115 470h1v1h-1zM114 471h1v1h-1zM208 476h1v1h-1zM209 476h1v1h-1zM208 477h1v1h-1zM209 477h1v1h-1zM217 470h1v1h-1zM218 470h1v1h-1zM217 471h1v1h-1zM218 471h1v1h-1zM117 482h1v1h-1zM118 482h1v1h-1zM119 482h1v1h-1zM203 487h1v1h-1zM202 488h1v1h-1zM203 488h1v1h-1zM204 488h1v1h-1zM203 489h1v1h-1zM222 477h1v1h-1zM221 478h1v1h-1zM222 478h1v1h-1zM223 478h1v1h-1zM222 479h1v1h-1zM142 468h1v1h-1zM143 469h1v1h-1zM144 468h1v1h-1zM46 485h1v1h-1zM45 486h1v1h-1zM46 486h1v1h-1zM47 486h1v1h-1zM46 487h1v1h-1zM187 462h1v1h-1zM188 463h1v1h-1zM189 462h1v1h-1zM195 473h1v1h-1zM196 473h1v1h-1zM195 474h1v1h-1zM196 474h1v1h-1zM38 485h1v1h-1zM37 486h1v1h-1zM38 486h1v1h-1zM39 486h1v1h-1zM38 487h1v1h-1zM168 477h1v1h-1zM169 478h1v1h-1zM170 477h1v1h-1zM132 477h1v1h-1zM133 477h1v1h-1zM132 478h1v1h-1zM133 478h1v1h-1zM61 467h1v1h-1zM62 467h1v1h-1zM61 468h1v1h-1zM62 468h1v1h-1zM201 464h1v1h-1zM202 464h1v1h-1zM203 464h1v1h-1zM191 479h1v1h-1zM192 479h1v1h-1zM191 480h1v1h-1zM192 480h1v1h-1zM87 461h1v1h-1zM88 462h1v1h-1zM89 461h1v1h-1zM29 483h1v1h-1zM30 484h1v1h-1zM31 483h1v1h-1zM220 484h1v1h-1zM221 485h1v1h-1zM222 484h1v1h-1zM123 477h1v1h-1zM124 478h1v1h-1zM125 477h1v1h-1zM67 487h1v1h-1zM68 487h1v1h-1zM69 487h1v1h-1zM150 485h1v1h-1zM149 486h1v1h-1zM150 486h1v1h-1zM151 486h1v1h-1zM150 487h1v1h-1zM28 486h1v1h-1zM29 487h1v1h-1zM30 486h1v1h-1zM202 470h1v1h-1zM201 471h1v1h-1zM202 471h1v1h-1zM203 471h1v1h-1zM202 472h1v1h-1zM170 483h1v1h-1zM171 483h1v1h-1zM172 483h1v1h-1zM232 461h1v1h-1zM231 462h1v1h-1zM232 462h1v1h-1zM233 462h1v1h-1zM232 463h1v1h-1zM138 464h1v1h-1zM139 464h1v1h-1zM140 464h1v1h-1zM61 478h1v1h-1zM60 479h1v1h-1zM61 479h1v1h-1zM62 479h1v1h-1zM61 480h1v1h-1zM193 460h1v1h-1zM194 460h1v1h-1zM195 460h1v1h-1zM168 487h1v1h-1zM169 488h1v1h-1zM170 487h1v1h-1zM29 470h1v1h-1zM30 470h1v1h-1zM31 470h1v1h-1zM209 486h1v1h-1zM210 486h1v1h-1zM211 486h1v1h-1zM122 478h1v1h-1zM123 478h1v1h-1zM122 479h1v1h-1zM123 479h1v1h-1zM193 475h1v1h-1zM194 475h1v1h-1zM193 476h1v1h-1zM194 476h1v1h-1zM58 475h1v1h-1zM59 475h1v1h-1zM58 476h1v1h-1zM59 476h1v1h-1zM49 478h1v1h-1zM50 478h1v1h-1zM51 478h1v1h-1zM110 467h1v1h-1zM109 468h1v1h-1zM110 468h1v1h-1zM111 468h1v1h-1zM110 469h1v1h-1zM194 474h1v1h-1zM195 474h1v1h-1zM194 475h1v1h-1zM195 475h1v1h-1zM140 477h1v1h-1zM141 477h1v1h-1zM142 477h1v1h-1zM176 469h1v1h-1zM175 470h1v1h-1zM176 470h1v1h-1zM177 470h1v1h-1zM176 471h1v1h-1zM151 487h1v1h-1zM152 488h1v1h-1zM153 487h1v1h-1zM238 473h1v1h-1zM239 473h1v1h-1zM238 474h1v1h-1zM239 474h1v1h-1zM133 463h1v1h-1zM132 464h1v1h-1zM133 464h1v1h-1zM134 464h1v1h-1zM133 465h1v1h-1zM209 464h1v1h-1zM210 464h1v1h-1zM211 464h1v1h-1zM197 486h1v1h-1zM198 487h1v1h-1zM199 486h1v1h-1zM88 467h1v1h-1zM89 468h1v1h-1zM90 467h1v1h-1zM83 470h1v1h-1zM84 470h1v1h-1zM83 471h1v1h-1zM84 471h1v1h-1zM130 468h1v1h-1zM129 469h1v1h-1zM130 469h1v1h-1zM131 469h1v1h-1zM130 470h1v1h-1zM41 460h1v1h-1zM42 460h1v1h-1zM43 460h1v1h-1zM103 481h1v1h-1zM104 481h1v1h-1zM105 481h1v1h-1zM180 483h1v1h-1zM179 484h1v1h-1zM180 484h1v1h-1zM181 484h1v1h-1zM180 485h1v1h-1zM221 483h1v1h-1zM222 484h1v1h-1zM223 483h1v1h-1zM147 474h1v1h-1zM148 474h1v1h-1zM149 474h1v1h-1zM100 472h1v1h-1zM101 472h1v1h-1zM100 473h1v1h-1zM101 473h1v1h-1zM52 474h1v1h-1zM51 475h1v1h-1zM52 475h1v1h-1zM53 475h1v1h-1zM52 476h1v1h-1zM74 480h1v1h-1zM75 480h1v1h-1zM74 481h1v1h-1zM75 481h1v1h-1zM211 486h1v1h-1zM212 486h1v1h-1zM213 486h1v1h-1zM72 467h1v1h-1zM71 468h1v1h-1zM72 468h1v1h-1zM73 468h1v1h-1zM72 469h1v1h-1zM121 483h1v1h-1zM122 483h1v1h-1zM121 484h1v1h-1zM122 484h1v1h-1zM112 460h1v1h-1zM111 461h1v1h-1zM112 461h1v1h-1zM113 461h1v1h-1zM112 462h1v1h-1zM116 472h1v1h-1zM117 472h1v1h-1zM116 473h1v1h-1zM117 473h1v1h-1zM244 470h1v1h-1zM243 471h1v1h-1zM244 471h1v1h-1zM245 471h1v1h-1zM244 472h1v1h-1zM211 470h1v1h-1zM210 471h1v1h-1zM211 471h1v1h-1zM212 471h1v1h-1zM211 472h1v1h-1zM63 465h1v1h-1zM64 465h1v1h-1zM63 466h1v1h-1zM64 466h1v1h-1zM177 487h1v1h-1zM178 487h1v1h-1zM177 488h1v1h-1zM178 488h1v1h-1zM146 477h1v1h-1zM145 478h1v1h-1zM146 478h1v1h-1zM147 478h1v1h-1zM146 479h1v1h-1zM83 476h1v1h-1zM84 476h1v1h-1zM83 477h1v1h-1zM84 477h1v1h-1zM27 471h1v1h-1zM28 472h1v1h-1zM29 471h1v1h-1zM132 477h1v1h-1zM131 478h1v1h-1zM132 478h1v1h-1zM133 478h1v1h-1zM132 479h1v1h-1zM111 468h1v1h-1zM112 468h1v1h-1zM111 469h1v1h-1zM112 469h1v1h-1zM47 477h1v1h-1zM46 478h1v1h-1zM47 478h1v1h-1zM48 478h1v1h-1zM47 479h1v1h-1z" fill="#000"/><path d="M27 491h1v4h-1zM27 496h1v14h-1zM27 511h1v9h-1zM30 491h1v13h-1zM30 505h1v14h-1zM32 492h1v5h-1zM32 498h1v8h-1zM32 507h1v5h-1zM32 513h1v6h-1zM35 491h1v4h-1zM35 496h1v14h-1zM35 511h1v8h-1zM37 491h1v13h-1zM37 505h1v14h-1zM40 492h1v5h-1zM40 498h1v8h-1zM40 507h1v5h-1zM40 513h1v6h-1zM42 491h1v4h-1zM42 496h1v14h-1zM42 511h1v8h-1zM44 491h1v13h-1zM44 505h1v14h-1zM47 492h1v5h-1zM47 498h1v8h-1zM47 507h1v5h-1zM47 513h1v6h-1zM49 491h1v4h-1zM49 496h1v14h-1zM49 511h1v8h-1zM52 491h1v13h-1zM52 505h1v14h-1zM54 492h1v5h-1zM54 498h1v8h-1zM54 507h1v5h-1zM54 513h1v6h-1zM56 491h1v4h-1zM56 496h1v14h-1zM56 511h1v8h-1zM59 491h1v13h-1zM59 505h1v14h-1zM61 492h1v5h-1zM61 498h1v8h-1zM61 507h1v5h-1zM61 513h1v6h-1zM63 491h1v4h-1zM63 496h1v14h-1zM63 511h1v8h-1zM66 491h1v13h-1zM66 505h1v14h-1zM68 492h1v5h-1zM68 498h1v8h-1zM68 507h1v5h-1zM68 513h1v6h-1zM71 491h1v4h-1zM71 496h1v14h-1zM71 511h1v8h-1zM73 491h1v13h-1zM73 505h1v14h-1zM75 492h1v5h-1zM75 498h1v8h-1zM75 507h1v5h-1zM75 513h1v6h-1zM78 491h1v4h-1zM78 496h1v14h-1zM78 511h1v8h-1zM80 491h1v13h-1zM80 505h1v14h-1zM83 492h1v5h-1zM83 498h1v8h-1zM83 507h1v5h-1zM83 513h1v6h-1zM85 491h1v4h-1zM85 496h1v14h-1zM85 511h1v8h-1zM87 491h1v13h-1zM87 505h1v14h-1zM90 492h1v5h-1zM90 498h1v8h-1zM90 507h1v5h-1zM90 513h1v6h-1zM92 491h1v4h-1zM92 496h1v14h-1zM92 511h1v8h-1zM95 491h1v13h-1zM95 505h1v14h-1zM97 492h1v5h-1zM97 498h1v8h-1zM97 507h1v5h-1zM97 513h1v6h-1zM99 491h1v4h-1zM99 496h1v14h-1zM99 511h1v8h-1zM102 491h1v13h-1zM102 505h1v14h-1zM104 492h1v5h-1zM104 498h1v8h-1zM104 507h1v5h-1zM104 513h1v6h-1zM106 491h1v4h-1zM106 496h1v14h-1zM106 511h1v8h-1zM109 491h1v13h-1zM109 505h1v14h-1zM111 492h1v5h-1zM111 498h1v8h-1zM111 507h1v5h-1zM111 513h1v6h-1zM114 491h1v4h-1zM114 496h1v14h-1zM114 511h1v8h-1zM116 491h1v13h-1zM116 505h1v14h-1zM118 492h1v5h-1zM118 498h1v8h-1zM118 507h1v5h-1zM118 513h1v6h-1zM121 491h1v4h-1zM121 496h1v14h-1zM121 511h1v8h-1zM123 491h1v13h-1zM123 505h1v14h-1zM126 492h1v5h-1zM126 498h1v8h-1zM126 507h1v5h-1zM126 513h1v6h-1zM128 491h1v4h-1zM128 496h1v14h-1zM128 511h1v8h-1zM130 491h1v13h-1zM130 505h1v14h-1zM133 492h1v5h-1zM133 498h1v8h-1zM133 507h1v5h-1zM133 513h1v6h-1zM135 491h1v4h-1zM135 496h1v14h-1zM135 511h1v8h-1zM138 491h1v13h-1zM138 505h1v14h-1zM140 492h1v5h-1zM140 498h1v8h-1zM140 507h1v5h-1zM140 513h1v6h-1zM142 491h1v4h-1zM142 496h1v14h-1zM142 511h1v8h-1zM145 491h1v13h-1zM145 505h1v14h-1zM147 492h1v5h-1zM147 498h1v8h-1zM147 507h1v5h-1zM147 513h1v6h-1zM150 491h1v4h-1zM150 496h1v14h-1zM150 511h1v8h-1zM152 491h1v13h-1zM152 505h1v14h-1zM154 492h1v5h-1zM154 498h1v8h-1zM154 507h1v5h-1zM154 513h1v6h-1zM157 491h1v4h-1zM157 496h1v14h-1zM157 511h1v8h-1zM159 491h1v13h-1zM159 505h1v14h-1zM161 492h1v5h-1zM161 498h1v8h-1zM161 507h1v5h-1zM161 513h1v6h-1zM164 491h1v4h-1zM164 496h1v14h-1zM164 511h1v8h-1zM166 491h1v13h-1zM166 505h1v14h-1zM169 492h1v5h-1zM169 498h1v8h-1zM169 507h1v5h-1zM169 513h1v6h-1zM171 491h1v4h-1zM171 496h1v14h-1zM171 511h1v8h-1zM173 491h1v13h-1zM173 505h1v14h-1zM176 492h1v5h-1zM176 498h1v8h-1zM176 507h1v5h-1zM176 513h1v6h-1zM178 491h1v4h-1zM178 496h1v14h-1zM178 511h1v8h-1zM181 491h1v13h-1zM181 505h1v14h-1zM183 492h1v5h-1zM183 498h1v8h-1zM183 507h1v5h-1zM183 513h1v6h-1zM185 491h1v4h-1zM185 496h1v14h-1zM185 511h1v8h-1zM188 491h1v13h-1zM188 505h1v14h-1zM190 492h1v5h-1zM190 498h1v8h-1zM190 507h1v5h-1zM190 513h1v6h-1zM193 491h1v4h-1zM193 496h1v14h-1zM193 511h1v8h-1zM195 491h1v13h-1zM195 505h1v14h-1zM197 492h1v5h-1zM197 498h1v8h-1zM197 507h1v5h-1zM197 513h1v6h-1zM200 491h1v4h-1zM200 496h1v14h-1zM200 511h1v8h-1zM202 491h1v13h-1zM202 505h1v14h-1zM204 492h1v5h-1zM204 498h1v8h-1zM204 507h1v5h-1zM204 513h1v6h-1zM207 491h1v4h-1zM207 496h1v14h-1zM207 511h1v8h-1zM209 491h1v13h-1zM209 505h1v14h-1zM212 492h1v5h-1zM212 498h1v8h-1zM212 507h1v5h-1zM212 513h1v6h-1zM214 491h1v4h-1zM214 496h1v14h-1zM214 511h1v8h-1zM216 491h1v13h-1zM216 505h1v14h-1zM219 492h1v5h-1zM219 498h1v8h-1zM219 507h1v5h-1zM219 513h1v6h-1zM221 491h1v4h-1zM221 496h1v14h-1zM221 511h1v8h-1zM224 491h1v13h-1zM224 505h1v14h-1zM226 492h1v5h-1zM226 498h1v8h-1zM226 507h1v5h-1zM226 513h1v6h-1zM228 491h1v4h-1zM228 496h1v14h-1zM228 511h1v8h-1zM231 491h1v13h-1zM231 505h1v14h-1zM233 492h1v5h-1zM233 498h1v8h-1zM233 507h1v5h-1zM233 513h1v6h-1zM236 491h1v4h-1zM236 496h1v14h-1zM236 511h1v8h-1zM238 491h1v13h-1zM238 505h1v14h-1zM240 492h1v5h-1zM240 498h1v8h-1zM240 507h1v5h-1zM240 513h1v6h-1zM243 491h1v4h-1zM243 496h1v14h-1zM243 511h1v8h-1zM245 491h1v13h-1zM245 505h1v14h-1z" fill="#000"/><path d="M26.5 398.5H247.5V520.5H26.5Z M26 429.5H247 M26 459.5H247 M26 490.5H247" stroke="#000" fill="none"/><path d="M184.3 293.1L198.6 301.3L150.3 389.3L136.8 398L135.7 383Z M177.64 305.42L191.98 313.36 M184.81 309.39L143 386.15 M135.7 383L150.3 389.3" stroke="#000" stroke-width="1" fill="none" stroke-linejoin="miter"/><path d="M136.25 390.5L143.55 393.65L136.8 398Z" fill="#000"/><path d="M567 430h1v1h-1zM569 430h1v1h-1zM573 430h1v1h-1zM574 430h1v1h-1zM578 430h1v1h-1zM579 430h1v1h-1zM583 430h1v1h-1zM585 430h1v1h-1zM589 430h1v1h-1zM590 430h1v1h-1zM594 430h1v1h-1zM595 430h1v1h-1zM599 430h1v1h-1zM601 430h1v1h-1zM605 430h1v1h-1zM606 430h1v1h-1zM611 430h1v1h-1zM612 430h1v1h-1zM615 430h1v1h-1zM617 430h1v1h-1zM621 430h1v1h-1zM622 430h1v1h-1zM627 430h1v1h-1zM628 430h1v1h-1zM632 430h1v1h-1zM634 430h1v1h-1zM638 430h1v1h-1zM639 430h1v1h-1zM643 430h1v1h-1zM644 430h1v1h-1zM648 430h1v1h-1zM650 430h1v1h-1zM654 430h1v1h-1zM655 430h1v1h-1zM659 430h1v1h-1zM660 430h1v1h-1zM664 430h1v1h-1zM666 430h1v1h-1zM670 430h1v1h-1zM671 430h1v1h-1zM675 430h1v1h-1zM676 430h1v1h-1zM680 430h1v1h-1zM682 430h1v1h-1zM686 430h1v1h-1zM687 430h1v1h-1zM692 430h1v1h-1zM693 430h1v1h-1zM696 430h1v1h-1zM698 430h1v1h-1zM702 430h1v1h-1zM703 430h1v1h-1zM708 430h1v1h-1zM709 430h1v1h-1zM713 430h1v1h-1zM715 430h1v1h-1zM719 430h1v1h-1zM720 430h1v1h-1zM724 430h1v1h-1zM725 430h1v1h-1zM729 430h1v1h-1zM731 430h1v1h-1zM735 430h1v1h-1zM736 430h1v1h-1zM740 430h1v1h-1zM741 430h1v1h-1zM745 430h1v1h-1zM747 430h1v1h-1zM751 430h1v1h-1zM752 430h1v1h-1zM756 430h1v1h-1zM757 430h1v1h-1zM761 430h1v1h-1zM763 430h1v1h-1zM767 430h1v1h-1zM768 430h1v1h-1zM773 430h1v1h-1zM774 430h1v1h-1zM777 430h1v1h-1zM779 430h1v1h-1zM783 430h1v1h-1zM784 430h1v1h-1zM568 433h1v1h-1zM570 433h1v1h-1zM567 434h1v1h-1zM569 434h1v1h-1zM568 435h1v1h-1zM570 435h1v1h-1zM567 436h1v1h-1zM569 436h1v1h-1zM574 433h1v1h-1zM575 433h1v1h-1zM573 434h1v1h-1zM574 434h1v1h-1zM574 435h1v1h-1zM575 435h1v1h-1zM573 436h1v1h-1zM574 436h1v1h-1zM579 433h1v1h-1zM580 433h1v1h-1zM578 434h1v1h-1zM579 434h1v1h-1zM579 435h1v1h-1zM580 435h1v1h-1zM578 436h1v1h-1zM579 436h1v1h-1zM584 433h1v1h-1zM586 433h1v1h-1zM583 434h1v1h-1zM585 434h1v1h-1zM584 435h1v1h-1zM586 435h1v1h-1zM583 436h1v1h-1zM585 436h1v1h-1zM590 433h1v1h-1zM591 433h1v1h-1zM589 434h1v1h-1zM590 434h1v1h-1zM590 435h1v1h-1zM591 435h1v1h-1zM589 436h1v1h-1zM590 436h1v1h-1zM595 433h1v1h-1zM596 433h1v1h-1zM594 434h1v1h-1zM595 434h1v1h-1zM595 435h1v1h-1zM596 435h1v1h-1zM594 436h1v1h-1zM595 436h1v1h-1zM600 433h1v1h-1zM602 433h1v1h-1zM599 434h1v1h-1zM601 434h1v1h-1zM600 435h1v1h-1zM602 435h1v1h-1zM599 436h1v1h-1zM601 436h1v1h-1zM606 433h1v1h-1zM607 433h1v1h-1zM605 434h1v1h-1zM606 434h1v1h-1zM606 435h1v1h-1zM607 435h1v1h-1zM605 436h1v1h-1zM606 436h1v1h-1zM612 433h1v1h-1zM613 433h1v1h-1zM611 434h1v1h-1zM612 434h1v1h-1zM612 435h1v1h-1zM613 435h1v1h-1zM611 436h1v1h-1zM612 436h1v1h-1zM616 433h1v1h-1zM618 433h1v1h-1zM615 434h1v1h-1zM617 434h1v1h-1zM616 435h1v1h-1zM618 435h1v1h-1zM615 436h1v1h-1zM617 436h1v1h-1zM622 433h1v1h-1zM623 433h1v1h-1zM621 434h1v1h-1zM622 434h1v1h-1zM622 435h1v1h-1zM623 435h1v1h-1zM621 436h1v1h-1zM622 436h1v1h-1zM628 433h1v1h-1zM629 433h1v1h-1zM627 434h1v1h-1zM628 434h1v1h-1zM628 435h1v1h-1zM629 435h1v1h-1zM627 436h1v1h-1zM628 436h1v1h-1zM633 433h1v1h-1zM635 433h1v1h-1zM632 434h1v1h-1zM634 434h1v1h-1zM633 435h1v1h-1zM635 435h1v1h-1zM632 436h1v1h-1zM634 436h1v1h-1zM639 433h1v1h-1zM640 433h1v1h-1zM638 434h1v1h-1zM639 434h1v1h-1zM639 435h1v1h-1zM640 435h1v1h-1zM638 436h1v1h-1zM639 436h1v1h-1zM644 433h1v1h-1zM645 433h1v1h-1zM643 434h1v1h-1zM644 434h1v1h-1zM644 435h1v1h-1zM645 435h1v1h-1zM643 436h1v1h-1zM644 436h1v1h-1zM649 433h1v1h-1zM651 433h1v1h-1zM648 434h1v1h-1zM650 434h1v1h-1zM649 435h1v1h-1zM651 435h1v1h-1zM648 436h1v1h-1zM650 436h1v1h-1zM655 433h1v1h-1zM656 433h1v1h-1zM654 434h1v1h-1zM655 434h1v1h-1zM655 435h1v1h-1zM656 435h1v1h-1zM654 436h1v1h-1zM655 436h1v1h-1zM660 433h1v1h-1zM661 433h1v1h-1zM659 434h1v1h-1zM660 434h1v1h-1zM660 435h1v1h-1zM661 435h1v1h-1zM659 436h1v1h-1zM660 436h1v1h-1zM665 433h1v1h-1zM667 433h1v1h-1zM664 434h1v1h-1zM666 434h1v1h-1zM665 435h1v1h-1zM667 435h1v1h-1zM664 436h1v1h-1zM666 436h1v1h-1zM671 433h1v1h-1zM672 433h1v1h-1zM670 434h1v1h-1zM671 434h1v1h-1zM671 435h1v1h-1zM672 435h1v1h-1zM670 436h1v1h-1zM671 436h1v1h-1zM676 433h1v1h-1zM677 433h1v1h-1zM675 434h1v1h-1zM676 434h1v1h-1zM676 435h1v1h-1zM677 435h1v1h-1zM675 436h1v1h-1zM676 436h1v1h-1zM681 433h1v1h-1zM683 433h1v1h-1zM680 434h1v1h-1zM682 434h1v1h-1zM681 435h1v1h-1zM683 435h1v1h-1zM680 436h1v1h-1zM682 436h1v1h-1zM687 433h1v1h-1zM688 433h1v1h-1zM686 434h1v1h-1zM687 434h1v1h-1zM687 435h1v1h-1zM688 435h1v1h-1zM686 436h1v1h-1zM687 436h1v1h-1zM693 433h1v1h-1zM694 433h1v1h-1zM692 434h1v1h-1zM693 434h1v1h-1zM693 435h1v1h-1zM694 435h1v1h-1zM692 436h1v1h-1zM693 436h1v1h-1zM697 433h1v1h-1zM699 433h1v1h-1zM696 434h1v1h-1zM698 434h1v1h-1zM697 435h1v1h-1zM699 435h1v1h-1zM696 436h1v1h-1zM698 436h1v1h-1zM703 433h1v1h-1zM704 433h1v1h-1zM702 434h1v1h-1zM703 434h1v1h-1zM703 435h1v1h-1zM704 435h1v1h-1zM702 436h1v1h-1zM703 436h1v1h-1zM709 433h1v1h-1zM710 433h1v1h-1zM708 434h1v1h-1zM709 434h1v1h-1zM709 435h1v1h-1zM710 435h1v1h-1zM708 436h1v1h-1zM709 436h1v1h-1zM714 433h1v1h-1zM716 433h1v1h-1zM713 434h1v1h-1zM715 434h1v1h-1zM714 435h1v1h-1zM716 435h1v1h-1zM713 436h1v1h-1zM715 436h1v1h-1zM720 433h1v1h-1zM721 433h1v1h-1zM719 434h1v1h-1zM720 434h1v1h-1zM720 435h1v1h-1zM721 435h1v1h-1zM719 436h1v1h-1zM720 436h1v1h-1zM725 433h1v1h-1zM726 433h1v1h-1zM724 434h1v1h-1zM725 434h1v1h-1zM725 435h1v1h-1zM726 435h1v1h-1zM724 436h1v1h-1zM725 436h1v1h-1zM730 433h1v1h-1zM732 433h1v1h-1zM729 434h1v1h-1zM731 434h1v1h-1zM730 435h1v1h-1zM732 435h1v1h-1zM729 436h1v1h-1zM731 436h1v1h-1zM736 433h1v1h-1zM737 433h1v1h-1zM735 434h1v1h-1zM736 434h1v1h-1zM736 435h1v1h-1zM737 435h1v1h-1zM735 436h1v1h-1zM736 436h1v1h-1zM741 433h1v1h-1zM742 433h1v1h-1zM740 434h1v1h-1zM741 434h1v1h-1zM741 435h1v1h-1zM742 435h1v1h-1zM740 436h1v1h-1zM741 436h1v1h-1zM746 433h1v1h-1zM748 433h1v1h-1zM745 434h1v1h-1zM747 434h1v1h-1zM746 435h1v1h-1zM748 435h1v1h-1zM745 436h1v1h-1zM747 436h1v1h-1zM752 433h1v1h-1zM753 433h1v1h-1zM751 434h1v1h-1zM752 434h1v1h-1zM752 435h1v1h-1zM753 435h1v1h-1zM751 436h1v1h-1zM752 436h1v1h-1zM757 433h1v1h-1zM758 433h1v1h-1zM756 434h1v1h-1zM757 434h1v1h-1zM757 435h1v1h-1zM758 435h1v1h-1zM756 436h1v1h-1zM757 436h1v1h-1zM762 433h1v1h-1zM764 433h1v1h-1zM761 434h1v1h-1zM763 434h1v1h-1zM762 435h1v1h-1zM764 435h1v1h-1zM761 436h1v1h-1zM763 436h1v1h-1zM768 433h1v1h-1zM769 433h1v1h-1zM767 434h1v1h-1zM768 434h1v1h-1zM768 435h1v1h-1zM769 435h1v1h-1zM767 436h1v1h-1zM768 436h1v1h-1zM774 433h1v1h-1zM775 433h1v1h-1zM773 434h1v1h-1zM774 434h1v1h-1zM774 435h1v1h-1zM775 435h1v1h-1zM773 436h1v1h-1zM774 436h1v1h-1zM778 433h1v1h-1zM780 433h1v1h-1zM777 434h1v1h-1zM779 434h1v1h-1zM778 435h1v1h-1zM780 435h1v1h-1zM777 436h1v1h-1zM779 436h1v1h-1zM784 433h1v1h-1zM785 433h1v1h-1zM783 434h1v1h-1zM784 434h1v1h-1zM784 435h1v1h-1zM785 435h1v1h-1zM783 436h1v1h-1zM784 436h1v1h-1zM568 439h1v1h-1zM570 439h1v1h-1zM567 440h1v1h-1zM568 440h1v1h-1zM569 440h1v1h-1zM570 440h1v1h-1zM567 441h1v1h-1zM569 441h1v1h-1zM574 439h1v1h-1zM575 439h1v1h-1zM573 440h1v1h-1zM574 440h1v1h-1zM575 440h1v1h-1zM573 441h1v1h-1zM574 441h1v1h-1zM579 439h1v1h-1zM580 439h1v1h-1zM578 440h1v1h-1zM579 440h1v1h-1zM580 440h1v1h-1zM578 441h1v1h-1zM579 441h1v1h-1zM584 439h1v1h-1zM586 439h1v1h-1zM583 440h1v1h-1zM584 440h1v1h-1zM585 440h1v1h-1zM586 440h1v1h-1zM583 441h1v1h-1zM585 441h1v1h-1zM590 439h1v1h-1zM591 439h1v1h-1zM589 440h1v1h-1zM590 440h1v1h-1zM591 440h1v1h-1zM589 441h1v1h-1zM590 441h1v1h-1zM595 439h1v1h-1zM596 439h1v1h-1zM594 440h1v1h-1zM595 440h1v1h-1zM596 440h1v1h-1zM594 441h1v1h-1zM595 441h1v1h-1zM600 439h1v1h-1zM602 439h1v1h-1zM599 440h1v1h-1zM600 440h1v1h-1zM601 440h1v1h-1zM602 440h1v1h-1zM599 441h1v1h-1zM601 441h1v1h-1zM606 439h1v1h-1zM607 439h1v1h-1zM605 440h1v1h-1zM606 440h1v1h-1zM607 440h1v1h-1zM605 441h1v1h-1zM606 441h1v1h-1zM612 439h1v1h-1zM613 439h1v1h-1zM611 440h1v1h-1zM612 440h1v1h-1zM613 440h1v1h-1zM611 441h1v1h-1zM612 441h1v1h-1zM616 439h1v1h-1zM618 439h1v1h-1zM615 440h1v1h-1zM616 440h1v1h-1zM617 440h1v1h-1zM618 440h1v1h-1zM615 441h1v1h-1zM617 441h1v1h-1zM622 439h1v1h-1zM623 439h1v1h-1zM621 440h1v1h-1zM622 440h1v1h-1zM623 440h1v1h-1zM621 441h1v1h-1zM622 441h1v1h-1zM628 439h1v1h-1zM629 439h1v1h-1zM627 440h1v1h-1zM628 440h1v1h-1zM629 440h1v1h-1zM627 441h1v1h-1zM628 441h1v1h-1zM633 439h1v1h-1zM635 439h1v1h-1zM632 440h1v1h-1zM633 440h1v1h-1zM634 440h1v1h-1zM635 440h1v1h-1zM632 441h1v1h-1zM634 441h1v1h-1zM639 439h1v1h-1zM640 439h1v1h-1zM638 440h1v1h-1zM639 440h1v1h-1zM640 440h1v1h-1zM638 441h1v1h-1zM639 441h1v1h-1zM644 439h1v1h-1zM645 439h1v1h-1zM643 440h1v1h-1zM644 440h1v1h-1zM645 440h1v1h-1zM643 441h1v1h-1zM644 441h1v1h-1zM649 439h1v1h-1zM651 439h1v1h-1zM648 440h1v1h-1zM649 440h1v1h-1zM650 440h1v1h-1zM651 440h1v1h-1zM648 441h1v1h-1zM650 441h1v1h-1zM655 439h1v1h-1zM656 439h1v1h-1zM654 440h1v1h-1zM655 440h1v1h-1zM656 440h1v1h-1zM654 441h1v1h-1zM655 441h1v1h-1zM660 439h1v1h-1zM661 439h1v1h-1zM659 440h1v1h-1zM660 440h1v1h-1zM661 440h1v1h-1zM659 441h1v1h-1zM660 441h1v1h-1zM665 439h1v1h-1zM667 439h1v1h-1zM664 440h1v1h-1zM665 440h1v1h-1zM666 440h1v1h-1zM667 440h1v1h-1zM664 441h1v1h-1zM666 441h1v1h-1zM671 439h1v1h-1zM672 439h1v1h-1zM670 440h1v1h-1zM671 440h1v1h-1zM672 440h1v1h-1zM670 441h1v1h-1zM671 441h1v1h-1zM676 439h1v1h-1zM677 439h1v1h-1zM675 440h1v1h-1zM676 440h1v1h-1zM677 440h1v1h-1zM675 441h1v1h-1zM676 441h1v1h-1zM681 439h1v1h-1zM683 439h1v1h-1zM680 440h1v1h-1zM681 440h1v1h-1zM682 440h1v1h-1zM683 440h1v1h-1zM680 441h1v1h-1zM682 441h1v1h-1zM687 439h1v1h-1zM688 439h1v1h-1zM686 440h1v1h-1zM687 440h1v1h-1zM688 440h1v1h-1zM686 441h1v1h-1zM687 441h1v1h-1zM693 439h1v1h-1zM694 439h1v1h-1zM692 440h1v1h-1zM693 440h1v1h-1zM694 440h1v1h-1zM692 441h1v1h-1zM693 441h1v1h-1zM697 439h1v1h-1zM699 439h1v1h-1zM696 440h1v1h-1zM697 440h1v1h-1zM698 440h1v1h-1zM699 440h1v1h-1zM696 441h1v1h-1zM698 441h1v1h-1zM703 439h1v1h-1zM704 439h1v1h-1zM702 440h1v1h-1zM703 440h1v1h-1zM704 440h1v1h-1zM702 441h1v1h-1zM703 441h1v1h-1zM709 439h1v1h-1zM710 439h1v1h-1zM708 440h1v1h-1zM709 440h1v1h-1zM710 440h1v1h-1zM708 441h1v1h-1zM709 441h1v1h-1zM714 439h1v1h-1zM716 439h1v1h-1zM713 440h1v1h-1zM714 440h1v1h-1zM715 440h1v1h-1zM716 440h1v1h-1zM713 441h1v1h-1zM715 441h1v1h-1zM720 439h1v1h-1zM721 439h1v1h-1zM719 440h1v1h-1zM720 440h1v1h-1zM721 440h1v1h-1zM719 441h1v1h-1zM720 441h1v1h-1zM725 439h1v1h-1zM726 439h1v1h-1zM724 440h1v1h-1zM725 440h1v1h-1zM726 440h1v1h-1zM724 441h1v1h-1zM725 441h1v1h-1zM730 439h1v1h-1zM732 439h1v1h-1zM729 440h1v1h-1zM730 440h1v1h-1zM731 440h1v1h-1zM732 440h1v1h-1zM729 441h1v1h-1zM731 441h1v1h-1zM736 439h1v1h-1zM737 439h1v1h-1zM735 440h1v1h-1zM736 440h1v1h-1zM737 440h1v1h-1zM735 441h1v1h-1zM736 441h1v1h-1zM741 439h1v1h-1zM742 439h1v1h-1zM740 440h1v1h-1zM741 440h1v1h-1zM742 440h1v1h-1zM740 441h1v1h-1zM741 441h1v1h-1zM746 439h1v1h-1zM748 439h1v1h-1zM745 440h1v1h-1zM746 440h1v1h-1zM747 440h1v1h-1zM748 440h1v1h-1zM745 441h1v1h-1zM747 441h1v1h-1zM752 439h1v1h-1zM753 439h1v1h-1zM751 440h1v1h-1zM752 440h1v1h-1zM753 440h1v1h-1zM751 441h1v1h-1zM752 441h1v1h-1zM757 439h1v1h-1zM758 439h1v1h-1zM756 440h1v1h-1zM757 440h1v1h-1zM758 440h1v1h-1zM756 441h1v1h-1zM757 441h1v1h-1zM762 439h1v1h-1zM764 439h1v1h-1zM761 440h1v1h-1zM762 440h1v1h-1zM763 440h1v1h-1zM764 440h1v1h-1zM761 441h1v1h-1zM763 441h1v1h-1zM768 439h1v1h-1zM769 439h1v1h-1zM767 440h1v1h-1zM768 440h1v1h-1zM769 440h1v1h-1zM767 441h1v1h-1zM768 441h1v1h-1zM774 439h1v1h-1zM775 439h1v1h-1zM773 440h1v1h-1zM774 440h1v1h-1zM775 440h1v1h-1zM773 441h1v1h-1zM774 441h1v1h-1zM778 439h1v1h-1zM780 439h1v1h-1zM777 440h1v1h-1zM778 440h1v1h-1zM779 440h1v1h-1zM780 440h1v1h-1zM777 441h1v1h-1zM779 441h1v1h-1zM784 439h1v1h-1zM785 439h1v1h-1zM783 440h1v1h-1zM784 440h1v1h-1zM785 440h1v1h-1zM783 441h1v1h-1zM784 441h1v1h-1zM567 444h1v1h-1zM569 444h1v1h-1zM570 444h1v1h-1zM567 445h1v1h-1zM568 445h1v1h-1zM569 445h1v1h-1zM567 446h1v1h-1zM569 446h1v1h-1zM570 446h1v1h-1zM574 444h1v1h-1zM575 444h1v1h-1zM572 445h1v1h-1zM573 445h1v1h-1zM574 445h1v1h-1zM573 446h1v1h-1zM574 446h1v1h-1zM575 446h1v1h-1zM580 444h1v1h-1zM581 444h1v1h-1zM578 445h1v1h-1zM579 445h1v1h-1zM580 445h1v1h-1zM579 446h1v1h-1zM580 446h1v1h-1zM581 446h1v1h-1zM583 444h1v1h-1zM585 444h1v1h-1zM586 444h1v1h-1zM583 445h1v1h-1zM584 445h1v1h-1zM585 445h1v1h-1zM583 446h1v1h-1zM585 446h1v1h-1zM586 446h1v1h-1zM590 444h1v1h-1zM591 444h1v1h-1zM588 445h1v1h-1zM589 445h1v1h-1zM590 445h1v1h-1zM589 446h1v1h-1zM590 446h1v1h-1zM591 446h1v1h-1zM596 444h1v1h-1zM597 444h1v1h-1zM594 445h1v1h-1zM595 445h1v1h-1zM596 445h1v1h-1zM595 446h1v1h-1zM596 446h1v1h-1zM597 446h1v1h-1zM599 444h1v1h-1zM601 444h1v1h-1zM602 444h1v1h-1zM599 445h1v1h-1zM600 445h1v1h-1zM601 445h1v1h-1zM599 446h1v1h-1zM601 446h1v1h-1zM602 446h1v1h-1zM607 444h1v1h-1zM608 444h1v1h-1zM605 445h1v1h-1zM606 445h1v1h-1zM607 445h1v1h-1zM606 446h1v1h-1zM607 446h1v1h-1zM608 446h1v1h-1zM612 444h1v1h-1zM613 444h1v1h-1zM610 445h1v1h-1zM611 445h1v1h-1zM612 445h1v1h-1zM611 446h1v1h-1zM612 446h1v1h-1zM613 446h1v1h-1zM615 444h1v1h-1zM617 444h1v1h-1zM618 444h1v1h-1zM615 445h1v1h-1zM616 445h1v1h-1zM617 445h1v1h-1zM615 446h1v1h-1zM617 446h1v1h-1zM618 446h1v1h-1zM623 444h1v1h-1zM624 444h1v1h-1zM621 445h1v1h-1zM622 445h1v1h-1zM623 445h1v1h-1zM622 446h1v1h-1zM623 446h1v1h-1zM624 446h1v1h-1zM628 444h1v1h-1zM629 444h1v1h-1zM626 445h1v1h-1zM627 445h1v1h-1zM628 445h1v1h-1zM627 446h1v1h-1zM628 446h1v1h-1zM629 446h1v1h-1zM632 444h1v1h-1zM634 444h1v1h-1zM635 444h1v1h-1zM632 445h1v1h-1zM633 445h1v1h-1zM634 445h1v1h-1zM632 446h1v1h-1zM634 446h1v1h-1zM635 446h1v1h-1zM639 444h1v1h-1zM640 444h1v1h-1zM637 445h1v1h-1zM638 445h1v1h-1zM639 445h1v1h-1zM638 446h1v1h-1zM639 446h1v1h-1zM640 446h1v1h-1zM644 444h1v1h-1zM645 444h1v1h-1zM642 445h1v1h-1zM643 445h1v1h-1zM644 445h1v1h-1zM643 446h1v1h-1zM644 446h1v1h-1zM645 446h1v1h-1zM648 444h1v1h-1zM650 444h1v1h-1zM651 444h1v1h-1zM648 445h1v1h-1zM649 445h1v1h-1zM650 445h1v1h-1zM648 446h1v1h-1zM650 446h1v1h-1zM651 446h1v1h-1zM655 444h1v1h-1zM656 444h1v1h-1zM653 445h1v1h-1zM654 445h1v1h-1zM655 445h1v1h-1zM654 446h1v1h-1zM655 446h1v1h-1zM656 446h1v1h-1zM661 444h1v1h-1zM662 444h1v1h-1zM659 445h1v1h-1zM660 445h1v1h-1zM661 445h1v1h-1zM660 446h1v1h-1zM661 446h1v1h-1zM662 446h1v1h-1zM664 444h1v1h-1zM666 444h1v1h-1zM667 444h1v1h-1zM664 445h1v1h-1zM665 445h1v1h-1zM666 445h1v1h-1zM664 446h1v1h-1zM666 446h1v1h-1zM667 446h1v1h-1zM671 444h1v1h-1zM672 444h1v1h-1zM669 445h1v1h-1zM670 445h1v1h-1zM671 445h1v1h-1zM670 446h1v1h-1zM671 446h1v1h-1zM672 446h1v1h-1zM677 444h1v1h-1zM678 444h1v1h-1zM675 445h1v1h-1zM676 445h1v1h-1zM677 445h1v1h-1zM676 446h1v1h-1zM677 446h1v1h-1zM678 446h1v1h-1zM680 444h1v1h-1zM682 444h1v1h-1zM683 444h1v1h-1zM680 445h1v1h-1zM681 445h1v1h-1zM682 445h1v1h-1zM680 446h1v1h-1zM682 446h1v1h-1zM683 446h1v1h-1zM688 444h1v1h-1zM689 444h1v1h-1zM686 445h1v1h-1zM687 445h1v1h-1zM688 445h1v1h-1zM687 446h1v1h-1zM688 446h1v1h-1zM689 446h1v1h-1zM693 444h1v1h-1zM694 444h1v1h-1zM691 445h1v1h-1zM692 445h1v1h-1zM693 445h1v1h-1zM692 446h1v1h-1zM693 446h1v1h-1zM694 446h1v1h-1zM696 444h1v1h-1zM698 444h1v1h-1zM699 444h1v1h-1zM696 445h1v1h-1zM697 445h1v1h-1zM698 445h1v1h-1zM696 446h1v1h-1zM698 446h1v1h-1zM699 446h1v1h-1zM704 444h1v1h-1zM705 444h1v1h-1zM702 445h1v1h-1zM703 445h1v1h-1zM704 445h1v1h-1zM703 446h1v1h-1zM704 446h1v1h-1zM705 446h1v1h-1zM709 444h1v1h-1zM710 444h1v1h-1zM707 445h1v1h-1zM708 445h1v1h-1zM709 445h1v1h-1zM708 446h1v1h-1zM709 446h1v1h-1zM710 446h1v1h-1zM713 444h1v1h-1zM715 444h1v1h-1zM716 444h1v1h-1zM713 445h1v1h-1zM714 445h1v1h-1zM715 445h1v1h-1zM713 446h1v1h-1zM715 446h1v1h-1zM716 446h1v1h-1zM720 444h1v1h-1zM721 444h1v1h-1zM718 445h1v1h-1zM719 445h1v1h-1zM720 445h1v1h-1zM719 446h1v1h-1zM720 446h1v1h-1zM721 446h1v1h-1zM725 444h1v1h-1zM726 444h1v1h-1zM723 445h1v1h-1zM724 445h1v1h-1zM725 445h1v1h-1zM724 446h1v1h-1zM725 446h1v1h-1zM726 446h1v1h-1zM729 444h1v1h-1zM731 444h1v1h-1zM732 444h1v1h-1zM729 445h1v1h-1zM730 445h1v1h-1zM731 445h1v1h-1zM729 446h1v1h-1zM731 446h1v1h-1zM732 446h1v1h-1zM736 444h1v1h-1zM737 444h1v1h-1zM734 445h1v1h-1zM735 445h1v1h-1zM736 445h1v1h-1zM735 446h1v1h-1zM736 446h1v1h-1zM737 446h1v1h-1zM742 444h1v1h-1zM743 444h1v1h-1zM740 445h1v1h-1zM741 445h1v1h-1zM742 445h1v1h-1zM741 446h1v1h-1zM742 446h1v1h-1zM743 446h1v1h-1zM745 444h1v1h-1zM747 444h1v1h-1zM748 444h1v1h-1zM745 445h1v1h-1zM746 445h1v1h-1zM747 445h1v1h-1zM745 446h1v1h-1zM747 446h1v1h-1zM748 446h1v1h-1zM752 444h1v1h-1zM753 444h1v1h-1zM750 445h1v1h-1zM751 445h1v1h-1zM752 445h1v1h-1zM751 446h1v1h-1zM752 446h1v1h-1zM753 446h1v1h-1zM758 444h1v1h-1zM759 444h1v1h-1zM756 445h1v1h-1zM757 445h1v1h-1zM758 445h1v1h-1zM757 446h1v1h-1zM758 446h1v1h-1zM759 446h1v1h-1zM761 444h1v1h-1zM763 444h1v1h-1zM764 444h1v1h-1zM761 445h1v1h-1zM762 445h1v1h-1zM763 445h1v1h-1zM761 446h1v1h-1zM763 446h1v1h-1zM764 446h1v1h-1zM769 444h1v1h-1zM770 444h1v1h-1zM767 445h1v1h-1zM768 445h1v1h-1zM769 445h1v1h-1zM768 446h1v1h-1zM769 446h1v1h-1zM770 446h1v1h-1zM774 444h1v1h-1zM775 444h1v1h-1zM772 445h1v1h-1zM773 445h1v1h-1zM774 445h1v1h-1zM773 446h1v1h-1zM774 446h1v1h-1zM775 446h1v1h-1zM777 444h1v1h-1zM779 444h1v1h-1zM780 444h1v1h-1zM777 445h1v1h-1zM778 445h1v1h-1zM779 445h1v1h-1zM777 446h1v1h-1zM779 446h1v1h-1zM780 446h1v1h-1zM785 444h1v1h-1zM783 445h1v1h-1zM784 445h1v1h-1zM785 445h1v1h-1zM784 446h1v1h-1zM785 446h1v1h-1zM568 450h1v1h-1zM570 450h1v1h-1zM567 451h1v1h-1zM568 451h1v1h-1zM569 451h1v1h-1zM570 451h1v1h-1zM567 452h1v1h-1zM569 452h1v1h-1zM574 450h1v1h-1zM575 450h1v1h-1zM573 451h1v1h-1zM574 451h1v1h-1zM575 451h1v1h-1zM573 452h1v1h-1zM574 452h1v1h-1zM579 450h1v1h-1zM580 450h1v1h-1zM578 451h1v1h-1zM579 451h1v1h-1zM580 451h1v1h-1zM578 452h1v1h-1zM579 452h1v1h-1zM584 450h1v1h-1zM586 450h1v1h-1zM583 451h1v1h-1zM584 451h1v1h-1zM585 451h1v1h-1zM586 451h1v1h-1zM583 452h1v1h-1zM585 452h1v1h-1zM590 450h1v1h-1zM591 450h1v1h-1zM589 451h1v1h-1zM590 451h1v1h-1zM591 451h1v1h-1zM589 452h1v1h-1zM590 452h1v1h-1zM595 450h1v1h-1zM596 450h1v1h-1zM594 451h1v1h-1zM595 451h1v1h-1zM596 451h1v1h-1zM594 452h1v1h-1zM595 452h1v1h-1zM600 450h1v1h-1zM602 450h1v1h-1zM599 451h1v1h-1zM600 451h1v1h-1zM601 451h1v1h-1zM602 451h1v1h-1zM599 452h1v1h-1zM601 452h1v1h-1zM606 450h1v1h-1zM607 450h1v1h-1zM605 451h1v1h-1zM606 451h1v1h-1zM607 451h1v1h-1zM605 452h1v1h-1zM606 452h1v1h-1zM612 450h1v1h-1zM613 450h1v1h-1zM611 451h1v1h-1zM612 451h1v1h-1zM613 451h1v1h-1zM611 452h1v1h-1zM612 452h1v1h-1zM616 450h1v1h-1zM618 450h1v1h-1zM615 451h1v1h-1zM616 451h1v1h-1zM617 451h1v1h-1zM618 451h1v1h-1zM615 452h1v1h-1zM617 452h1v1h-1zM622 450h1v1h-1zM623 450h1v1h-1zM621 451h1v1h-1zM622 451h1v1h-1zM623 451h1v1h-1zM621 452h1v1h-1zM622 452h1v1h-1zM628 450h1v1h-1zM629 450h1v1h-1zM627 451h1v1h-1zM628 451h1v1h-1zM629 451h1v1h-1zM627 452h1v1h-1zM628 452h1v1h-1zM633 450h1v1h-1zM635 450h1v1h-1zM632 451h1v1h-1zM633 451h1v1h-1zM634 451h1v1h-1zM635 451h1v1h-1zM632 452h1v1h-1zM634 452h1v1h-1zM639 450h1v1h-1zM640 450h1v1h-1zM638 451h1v1h-1zM639 451h1v1h-1zM640 451h1v1h-1zM638 452h1v1h-1zM639 452h1v1h-1zM644 450h1v1h-1zM645 450h1v1h-1zM643 451h1v1h-1zM644 451h1v1h-1zM645 451h1v1h-1zM643 452h1v1h-1zM644 452h1v1h-1zM649 450h1v1h-1zM651 450h1v1h-1zM648 451h1v1h-1zM649 451h1v1h-1zM650 451h1v1h-1zM651 451h1v1h-1zM648 452h1v1h-1zM650 452h1v1h-1zM655 450h1v1h-1zM656 450h1v1h-1zM654 451h1v1h-1zM655 451h1v1h-1zM656 451h1v1h-1zM654 452h1v1h-1zM655 452h1v1h-1zM660 450h1v1h-1zM661 450h1v1h-1zM659 451h1v1h-1zM660 451h1v1h-1zM661 451h1v1h-1zM659 452h1v1h-1zM660 452h1v1h-1zM665 450h1v1h-1zM667 450h1v1h-1zM664 451h1v1h-1zM665 451h1v1h-1zM666 451h1v1h-1zM667 451h1v1h-1zM664 452h1v1h-1zM666 452h1v1h-1zM671 450h1v1h-1zM672 450h1v1h-1zM670 451h1v1h-1zM671 451h1v1h-1zM672 451h1v1h-1zM670 452h1v1h-1zM671 452h1v1h-1zM676 450h1v1h-1zM677 450h1v1h-1zM675 451h1v1h-1zM676 451h1v1h-1zM677 451h1v1h-1zM675 452h1v1h-1zM676 452h1v1h-1zM681 450h1v1h-1zM683 450h1v1h-1zM680 451h1v1h-1zM681 451h1v1h-1zM682 451h1v1h-1zM683 451h1v1h-1zM680 452h1v1h-1zM682 452h1v1h-1zM687 450h1v1h-1zM688 450h1v1h-1zM686 451h1v1h-1zM687 451h1v1h-1zM688 451h1v1h-1zM686 452h1v1h-1zM687 452h1v1h-1zM693 450h1v1h-1zM694 450h1v1h-1zM692 451h1v1h-1zM693 451h1v1h-1zM694 451h1v1h-1zM692 452h1v1h-1zM693 452h1v1h-1zM697 450h1v1h-1zM699 450h1v1h-1zM696 451h1v1h-1zM697 451h1v1h-1zM698 451h1v1h-1zM699 451h1v1h-1zM696 452h1v1h-1zM698 452h1v1h-1zM703 450h1v1h-1zM704 450h1v1h-1zM702 451h1v1h-1zM703 451h1v1h-1zM704 451h1v1h-1zM702 452h1v1h-1zM703 452h1v1h-1zM709 450h1v1h-1zM710 450h1v1h-1zM708 451h1v1h-1zM709 451h1v1h-1zM710 451h1v1h-1zM708 452h1v1h-1zM709 452h1v1h-1zM714 450h1v1h-1zM716 450h1v1h-1zM713 451h1v1h-1zM714 451h1v1h-1zM715 451h1v1h-1zM716 451h1v1h-1zM713 452h1v1h-1zM715 452h1v1h-1zM720 450h1v1h-1zM721 450h1v1h-1zM719 451h1v1h-1zM720 451h1v1h-1zM721 451h1v1h-1zM719 452h1v1h-1zM720 452h1v1h-1zM725 450h1v1h-1zM726 450h1v1h-1zM724 451h1v1h-1zM725 451h1v1h-1zM726 451h1v1h-1zM724 452h1v1h-1zM725 452h1v1h-1zM730 450h1v1h-1zM732 450h1v1h-1zM729 451h1v1h-1zM730 451h1v1h-1zM731 451h1v1h-1zM732 451h1v1h-1zM729 452h1v1h-1zM731 452h1v1h-1zM736 450h1v1h-1zM737 450h1v1h-1zM735 451h1v1h-1zM736 451h1v1h-1zM737 451h1v1h-1zM735 452h1v1h-1zM736 452h1v1h-1zM741 450h1v1h-1zM742 450h1v1h-1zM740 451h1v1h-1zM741 451h1v1h-1zM742 451h1v1h-1zM740 452h1v1h-1zM741 452h1v1h-1zM746 450h1v1h-1zM748 450h1v1h-1zM745 451h1v1h-1zM746 451h1v1h-1zM747 451h1v1h-1zM748 451h1v1h-1zM745 452h1v1h-1zM747 452h1v1h-1zM752 450h1v1h-1zM753 450h1v1h-1zM751 451h1v1h-1zM752 451h1v1h-1zM753 451h1v1h-1zM751 452h1v1h-1zM752 452h1v1h-1zM757 450h1v1h-1zM758 450h1v1h-1zM756 451h1v1h-1zM757 451h1v1h-1zM758 451h1v1h-1zM756 452h1v1h-1zM757 452h1v1h-1zM762 450h1v1h-1zM764 450h1v1h-1zM761 451h1v1h-1zM762 451h1v1h-1zM763 451h1v1h-1zM764 451h1v1h-1zM761 452h1v1h-1zM763 452h1v1h-1zM768 450h1v1h-1zM769 450h1v1h-1zM767 451h1v1h-1zM768 451h1v1h-1zM769 451h1v1h-1zM767 452h1v1h-1zM768 452h1v1h-1zM774 450h1v1h-1zM775 450h1v1h-1zM773 451h1v1h-1zM774 451h1v1h-1zM775 451h1v1h-1zM773 452h1v1h-1zM774 452h1v1h-1zM778 450h1v1h-1zM780 450h1v1h-1zM777 451h1v1h-1zM778 451h1v1h-1zM779 451h1v1h-1zM780 451h1v1h-1zM777 452h1v1h-1zM779 452h1v1h-1zM784 450h1v1h-1zM785 450h1v1h-1zM783 451h1v1h-1zM784 451h1v1h-1zM785 451h1v1h-1zM783 452h1v1h-1zM784 452h1v1h-1zM568 455h1v1h-1zM570 455h1v1h-1zM567 456h1v1h-1zM568 456h1v1h-1zM569 456h1v1h-1zM570 456h1v1h-1zM567 457h1v1h-1zM569 457h1v1h-1zM574 455h1v1h-1zM575 455h1v1h-1zM573 456h1v1h-1zM574 456h1v1h-1zM575 456h1v1h-1zM573 457h1v1h-1zM574 457h1v1h-1zM579 455h1v1h-1zM580 455h1v1h-1zM578 456h1v1h-1zM579 456h1v1h-1zM580 456h1v1h-1zM578 457h1v1h-1zM579 457h1v1h-1zM584 455h1v1h-1zM586 455h1v1h-1zM583 456h1v1h-1zM584 456h1v1h-1zM585 456h1v1h-1zM586 456h1v1h-1zM583 457h1v1h-1zM585 457h1v1h-1zM590 455h1v1h-1zM591 455h1v1h-1zM589 456h1v1h-1zM590 456h1v1h-1zM591 456h1v1h-1zM589 457h1v1h-1zM590 457h1v1h-1zM595 455h1v1h-1zM596 455h1v1h-1zM594 456h1v1h-1zM595 456h1v1h-1zM596 456h1v1h-1zM594 457h1v1h-1zM595 457h1v1h-1zM600 455h1v1h-1zM602 455h1v1h-1zM599 456h1v1h-1zM600 456h1v1h-1zM601 456h1v1h-1zM602 456h1v1h-1zM599 457h1v1h-1zM601 457h1v1h-1zM606 455h1v1h-1zM607 455h1v1h-1zM605 456h1v1h-1zM606 456h1v1h-1zM607 456h1v1h-1zM605 457h1v1h-1zM606 457h1v1h-1zM612 455h1v1h-1zM613 455h1v1h-1zM611 456h1v1h-1zM612 456h1v1h-1zM613 456h1v1h-1zM611 457h1v1h-1zM612 457h1v1h-1zM616 455h1v1h-1zM618 455h1v1h-1zM615 456h1v1h-1zM616 456h1v1h-1zM617 456h1v1h-1zM618 456h1v1h-1zM615 457h1v1h-1zM617 457h1v1h-1zM622 455h1v1h-1zM623 455h1v1h-1zM621 456h1v1h-1zM622 456h1v1h-1zM623 456h1v1h-1zM621 457h1v1h-1zM622 457h1v1h-1zM628 455h1v1h-1zM629 455h1v1h-1zM627 456h1v1h-1zM628 456h1v1h-1zM629 456h1v1h-1zM627 457h1v1h-1zM628 457h1v1h-1zM633 455h1v1h-1zM635 455h1v1h-1zM632 456h1v1h-1zM633 456h1v1h-1zM634 456h1v1h-1zM635 456h1v1h-1zM632 457h1v1h-1zM634 457h1v1h-1zM639 455h1v1h-1zM640 455h1v1h-1zM638 456h1v1h-1zM639 456h1v1h-1zM640 456h1v1h-1zM638 457h1v1h-1zM639 457h1v1h-1zM644 455h1v1h-1zM645 455h1v1h-1zM643 456h1v1h-1zM644 456h1v1h-1zM645 456h1v1h-1zM643 457h1v1h-1zM644 457h1v1h-1zM649 455h1v1h-1zM651 455h1v1h-1zM648 456h1v1h-1zM649 456h1v1h-1zM650 456h1v1h-1zM651 456h1v1h-1zM648 457h1v1h-1zM650 457h1v1h-1zM655 455h1v1h-1zM656 455h1v1h-1zM654 456h1v1h-1zM655 456h1v1h-1zM656 456h1v1h-1zM654 457h1v1h-1zM655 457h1v1h-1zM660 455h1v1h-1zM661 455h1v1h-1zM659 456h1v1h-1zM660 456h1v1h-1zM661 456h1v1h-1zM659 457h1v1h-1zM660 457h1v1h-1zM665 455h1v1h-1zM667 455h1v1h-1zM664 456h1v1h-1zM665 456h1v1h-1zM666 456h1v1h-1zM667 456h1v1h-1zM664 457h1v1h-1zM666 457h1v1h-1zM671 455h1v1h-1zM672 455h1v1h-1zM670 456h1v1h-1zM671 456h1v1h-1zM672 456h1v1h-1zM670 457h1v1h-1zM671 457h1v1h-1zM676 455h1v1h-1zM677 455h1v1h-1zM675 456h1v1h-1zM676 456h1v1h-1zM677 456h1v1h-1zM675 457h1v1h-1zM676 457h1v1h-1zM681 455h1v1h-1zM683 455h1v1h-1zM680 456h1v1h-1zM681 456h1v1h-1zM682 456h1v1h-1zM683 456h1v1h-1zM680 457h1v1h-1zM682 457h1v1h-1zM687 455h1v1h-1zM688 455h1v1h-1zM686 456h1v1h-1zM687 456h1v1h-1zM688 456h1v1h-1zM686 457h1v1h-1zM687 457h1v1h-1zM693 455h1v1h-1zM694 455h1v1h-1zM692 456h1v1h-1zM693 456h1v1h-1zM694 456h1v1h-1zM692 457h1v1h-1zM693 457h1v1h-1zM697 455h1v1h-1zM699 455h1v1h-1zM696 456h1v1h-1zM697 456h1v1h-1zM698 456h1v1h-1zM699 456h1v1h-1zM696 457h1v1h-1zM698 457h1v1h-1zM703 455h1v1h-1zM704 455h1v1h-1zM702 456h1v1h-1zM703 456h1v1h-1zM704 456h1v1h-1zM702 457h1v1h-1zM703 457h1v1h-1zM709 455h1v1h-1zM710 455h1v1h-1zM708 456h1v1h-1zM709 456h1v1h-1zM710 456h1v1h-1zM708 457h1v1h-1zM709 457h1v1h-1zM714 455h1v1h-1zM716 455h1v1h-1zM713 456h1v1h-1zM714 456h1v1h-1zM715 456h1v1h-1zM716 456h1v1h-1zM713 457h1v1h-1zM715 457h1v1h-1zM720 455h1v1h-1zM721 455h1v1h-1zM719 456h1v1h-1zM720 456h1v1h-1zM721 456h1v1h-1zM719 457h1v1h-1zM720 457h1v1h-1zM725 455h1v1h-1zM726 455h1v1h-1zM724 456h1v1h-1zM725 456h1v1h-1zM726 456h1v1h-1zM724 457h1v1h-1zM725 457h1v1h-1zM730 455h1v1h-1zM732 455h1v1h-1zM729 456h1v1h-1zM730 456h1v1h-1zM731 456h1v1h-1zM732 456h1v1h-1zM729 457h1v1h-1zM731 457h1v1h-1zM736 455h1v1h-1zM737 455h1v1h-1zM735 456h1v1h-1zM736 456h1v1h-1zM737 456h1v1h-1zM735 457h1v1h-1zM736 457h1v1h-1zM741 455h1v1h-1zM742 455h1v1h-1zM740 456h1v1h-1zM741 456h1v1h-1zM742 456h1v1h-1zM740 457h1v1h-1zM741 457h1v1h-1zM746 455h1v1h-1zM748 455h1v1h-1zM745 456h1v1h-1zM746 456h1v1h-1zM747 456h1v1h-1zM748 456h1v1h-1zM745 457h1v1h-1zM747 457h1v1h-1zM752 455h1v1h-1zM753 455h1v1h-1zM751 456h1v1h-1zM752 456h1v1h-1zM753 456h1v1h-1zM751 457h1v1h-1zM752 457h1v1h-1zM757 455h1v1h-1zM758 455h1v1h-1zM756 456h1v1h-1zM757 456h1v1h-1zM758 456h1v1h-1zM756 457h1v1h-1zM757 457h1v1h-1zM762 455h1v1h-1zM764 455h1v1h-1zM761 456h1v1h-1zM762 456h1v1h-1zM763 456h1v1h-1zM764 456h1v1h-1zM761 457h1v1h-1zM763 457h1v1h-1zM768 455h1v1h-1zM769 455h1v1h-1zM767 456h1v1h-1zM768 456h1v1h-1zM769 456h1v1h-1zM767 457h1v1h-1zM768 457h1v1h-1zM774 455h1v1h-1zM775 455h1v1h-1zM773 456h1v1h-1zM774 456h1v1h-1zM775 456h1v1h-1zM773 457h1v1h-1zM774 457h1v1h-1zM778 455h1v1h-1zM780 455h1v1h-1zM777 456h1v1h-1zM778 456h1v1h-1zM779 456h1v1h-1zM780 456h1v1h-1zM777 457h1v1h-1zM779 457h1v1h-1zM784 455h1v1h-1zM785 455h1v1h-1zM783 456h1v1h-1zM784 456h1v1h-1zM785 456h1v1h-1zM783 457h1v1h-1zM784 457h1v1h-1z" fill="#000"/><path d="M581 460h1v1h-1zM587 460h1v1h-1zM589 460h1v1h-1zM592 460h1v1h-1zM609 460h1v1h-1zM616 460h1v1h-1zM622 460h1v1h-1zM633 460h1v1h-1zM661 460h1v1h-1zM686 460h1v1h-1zM696 460h1v1h-1zM704 460h1v1h-1zM707 460h1v1h-1zM719 460h1v1h-1zM720 460h1v1h-1zM724 460h1v1h-1zM730 460h1v1h-1zM750 460h1v1h-1zM760 460h1v1h-1zM762 460h1v1h-1zM771 460h1v1h-1zM588 461h1v1h-1zM589 461h1v1h-1zM591 461h1v1h-1zM596 461h1v1h-1zM599 461h1v1h-1zM603 461h1v1h-1zM614 461h1v1h-1zM656 461h1v1h-1zM661 461h1v1h-1zM663 461h1v1h-1zM699 461h1v1h-1zM707 461h1v1h-1zM725 461h1v1h-1zM772 461h1v1h-1zM783 461h1v1h-1zM785 461h1v1h-1zM576 462h1v1h-1zM585 462h1v1h-1zM595 462h1v1h-1zM619 462h1v1h-1zM622 462h1v1h-1zM639 462h1v1h-1zM644 462h1v1h-1zM657 462h1v1h-1zM660 462h1v1h-1zM667 462h1v1h-1zM679 462h1v1h-1zM681 462h1v1h-1zM687 462h1v1h-1zM690 462h1v1h-1zM707 462h1v1h-1zM738 462h1v1h-1zM739 462h1v1h-1zM745 462h1v1h-1zM756 462h1v1h-1zM776 462h1v1h-1zM777 462h1v1h-1zM783 462h1v1h-1zM566 463h1v1h-1zM604 463h1v1h-1zM611 463h1v1h-1zM614 463h1v1h-1zM615 463h1v1h-1zM618 463h1v1h-1zM660 463h1v1h-1zM666 463h1v1h-1zM670 463h1v1h-1zM694 463h1v1h-1zM704 463h1v1h-1zM722 463h1v1h-1zM726 463h1v1h-1zM748 463h1v1h-1zM760 463h1v1h-1zM766 463h1v1h-1zM581 464h1v1h-1zM591 464h1v1h-1zM598 464h1v1h-1zM624 464h1v1h-1zM653 464h1v1h-1zM654 464h1v1h-1zM665 464h1v1h-1zM677 464h1v1h-1zM701 464h1v1h-1zM709 464h1v1h-1zM714 464h1v1h-1zM721 464h1v1h-1zM737 464h1v1h-1zM741 464h1v1h-1zM747 464h1v1h-1zM748 464h1v1h-1zM770 464h1v1h-1zM781 464h1v1h-1zM585 465h1v1h-1zM599 465h1v1h-1zM631 465h1v1h-1zM638 465h1v1h-1zM644 465h1v1h-1zM652 465h1v1h-1zM666 465h1v1h-1zM671 465h1v1h-1zM678 465h1v1h-1zM685 465h1v1h-1zM686 465h1v1h-1zM700 465h1v1h-1zM703 465h1v1h-1zM729 465h1v1h-1zM733 465h1v1h-1zM747 465h1v1h-1zM750 465h1v1h-1zM755 465h1v1h-1zM758 465h1v1h-1zM761 465h1v1h-1zM781 465h1v1h-1zM782 465h1v1h-1zM580 466h1v1h-1zM599 466h1v1h-1zM602 466h1v1h-1zM604 466h1v1h-1zM610 466h1v1h-1zM633 466h1v1h-1zM644 466h1v1h-1zM678 466h1v1h-1zM679 466h1v1h-1zM689 466h1v1h-1zM713 466h1v1h-1zM724 466h1v1h-1zM727 466h1v1h-1zM733 466h1v1h-1zM757 466h1v1h-1zM766 466h1v1h-1zM767 466h1v1h-1zM770 466h1v1h-1zM780 466h1v1h-1zM572 467h1v1h-1zM575 467h1v1h-1zM580 467h1v1h-1zM583 467h1v1h-1zM599 467h1v1h-1zM624 467h1v1h-1zM671 467h1v1h-1zM697 467h1v1h-1zM708 467h1v1h-1zM722 467h1v1h-1zM732 467h1v1h-1zM741 467h1v1h-1zM567 468h1v1h-1zM596 468h1v1h-1zM612 468h1v1h-1zM623 468h1v1h-1zM634 468h1v1h-1zM638 468h1v1h-1zM655 468h1v1h-1zM671 468h1v1h-1zM678 468h1v1h-1zM684 468h1v1h-1zM686 468h1v1h-1zM708 468h1v1h-1zM710 468h1v1h-1zM722 468h1v1h-1zM725 468h1v1h-1zM738 468h1v1h-1zM756 468h1v1h-1zM758 468h1v1h-1zM763 468h1v1h-1zM767 468h1v1h-1zM773 468h1v1h-1zM783 468h1v1h-1zM581 469h1v1h-1zM614 469h1v1h-1zM630 469h1v1h-1zM659 469h1v1h-1zM682 469h1v1h-1zM699 469h1v1h-1zM707 469h1v1h-1zM709 469h1v1h-1zM710 469h1v1h-1zM717 469h1v1h-1zM727 469h1v1h-1zM742 469h1v1h-1zM752 469h1v1h-1zM756 469h1v1h-1zM757 469h1v1h-1zM764 469h1v1h-1zM765 469h1v1h-1zM772 469h1v1h-1zM582 470h1v1h-1zM604 470h1v1h-1zM607 470h1v1h-1zM630 470h1v1h-1zM633 470h1v1h-1zM643 470h1v1h-1zM645 470h1v1h-1zM663 470h1v1h-1zM666 470h1v1h-1zM671 470h1v1h-1zM678 470h1v1h-1zM680 470h1v1h-1zM718 470h1v1h-1zM731 470h1v1h-1zM764 470h1v1h-1zM772 470h1v1h-1zM785 470h1v1h-1zM576 471h1v1h-1zM602 471h1v1h-1zM612 471h1v1h-1zM613 471h1v1h-1zM637 471h1v1h-1zM653 471h1v1h-1zM654 471h1v1h-1zM666 471h1v1h-1zM669 471h1v1h-1zM671 471h1v1h-1zM672 471h1v1h-1zM726 471h1v1h-1zM736 471h1v1h-1zM776 471h1v1h-1zM785 471h1v1h-1zM581 472h1v1h-1zM618 472h1v1h-1zM620 472h1v1h-1zM625 472h1v1h-1zM630 472h1v1h-1zM632 472h1v1h-1zM647 472h1v1h-1zM671 472h1v1h-1zM673 472h1v1h-1zM690 472h1v1h-1zM699 472h1v1h-1zM701 472h1v1h-1zM722 472h1v1h-1zM726 472h1v1h-1zM737 472h1v1h-1zM738 472h1v1h-1zM742 472h1v1h-1zM753 472h1v1h-1zM766 472h1v1h-1zM778 472h1v1h-1zM782 472h1v1h-1zM783 472h1v1h-1zM578 473h1v1h-1zM580 473h1v1h-1zM588 473h1v1h-1zM592 473h1v1h-1zM593 473h1v1h-1zM597 473h1v1h-1zM601 473h1v1h-1zM617 473h1v1h-1zM621 473h1v1h-1zM633 473h1v1h-1zM663 473h1v1h-1zM680 473h1v1h-1zM681 473h1v1h-1zM682 473h1v1h-1zM687 473h1v1h-1zM707 473h1v1h-1zM714 473h1v1h-1zM716 473h1v1h-1zM725 473h1v1h-1zM727 473h1v1h-1zM729 473h1v1h-1zM748 473h1v1h-1zM754 473h1v1h-1zM771 473h1v1h-1zM773 473h1v1h-1zM785 473h1v1h-1zM572 474h1v1h-1zM577 474h1v1h-1zM583 474h1v1h-1zM589 474h1v1h-1zM596 474h1v1h-1zM604 474h1v1h-1zM665 474h1v1h-1zM677 474h1v1h-1zM683 474h1v1h-1zM686 474h1v1h-1zM690 474h1v1h-1zM726 474h1v1h-1zM738 474h1v1h-1zM742 474h1v1h-1zM758 474h1v1h-1zM572 475h1v1h-1zM575 475h1v1h-1zM576 475h1v1h-1zM580 475h1v1h-1zM590 475h1v1h-1zM595 475h1v1h-1zM624 475h1v1h-1zM631 475h1v1h-1zM636 475h1v1h-1zM637 475h1v1h-1zM643 475h1v1h-1zM649 475h1v1h-1zM653 475h1v1h-1zM655 475h1v1h-1zM660 475h1v1h-1zM679 475h1v1h-1zM684 475h1v1h-1zM696 475h1v1h-1zM702 475h1v1h-1zM705 475h1v1h-1zM708 475h1v1h-1zM736 475h1v1h-1zM741 475h1v1h-1zM771 475h1v1h-1zM775 475h1v1h-1zM776 475h1v1h-1zM567 476h1v1h-1zM577 476h1v1h-1zM586 476h1v1h-1zM593 476h1v1h-1zM595 476h1v1h-1zM605 476h1v1h-1zM611 476h1v1h-1zM622 476h1v1h-1zM641 476h1v1h-1zM649 476h1v1h-1zM658 476h1v1h-1zM674 476h1v1h-1zM690 476h1v1h-1zM696 476h1v1h-1zM698 476h1v1h-1zM703 476h1v1h-1zM705 476h1v1h-1zM724 476h1v1h-1zM729 476h1v1h-1zM731 476h1v1h-1zM739 476h1v1h-1zM748 476h1v1h-1zM751 476h1v1h-1zM763 476h1v1h-1zM766 476h1v1h-1zM768 476h1v1h-1zM771 476h1v1h-1zM779 476h1v1h-1zM567 477h1v1h-1zM581 477h1v1h-1zM592 477h1v1h-1zM594 477h1v1h-1zM610 477h1v1h-1zM621 477h1v1h-1zM634 477h1v1h-1zM640 477h1v1h-1zM642 477h1v1h-1zM649 477h1v1h-1zM655 477h1v1h-1zM657 477h1v1h-1zM670 477h1v1h-1zM677 477h1v1h-1zM683 477h1v1h-1zM684 477h1v1h-1zM688 477h1v1h-1zM709 477h1v1h-1zM734 477h1v1h-1zM761 477h1v1h-1zM572 478h1v1h-1zM602 478h1v1h-1zM624 478h1v1h-1zM660 478h1v1h-1zM661 478h1v1h-1zM664 478h1v1h-1zM668 478h1v1h-1zM670 478h1v1h-1zM671 478h1v1h-1zM706 478h1v1h-1zM709 478h1v1h-1zM710 478h1v1h-1zM750 478h1v1h-1zM776 478h1v1h-1zM780 478h1v1h-1zM783 478h1v1h-1zM785 478h1v1h-1zM575 479h1v1h-1zM623 479h1v1h-1zM632 479h1v1h-1zM634 479h1v1h-1zM650 479h1v1h-1zM665 479h1v1h-1zM681 479h1v1h-1zM717 479h1v1h-1zM721 479h1v1h-1zM723 479h1v1h-1zM743 479h1v1h-1zM750 479h1v1h-1zM756 479h1v1h-1zM762 479h1v1h-1zM770 479h1v1h-1zM778 479h1v1h-1zM570 480h1v1h-1zM580 480h1v1h-1zM581 480h1v1h-1zM582 480h1v1h-1zM600 480h1v1h-1zM613 480h1v1h-1zM621 480h1v1h-1zM632 480h1v1h-1zM645 480h1v1h-1zM658 480h1v1h-1zM668 480h1v1h-1zM672 480h1v1h-1zM677 480h1v1h-1zM683 480h1v1h-1zM687 480h1v1h-1zM692 480h1v1h-1zM714 480h1v1h-1zM730 480h1v1h-1zM735 480h1v1h-1zM741 480h1v1h-1zM743 480h1v1h-1zM744 480h1v1h-1zM748 480h1v1h-1zM783 480h1v1h-1zM567 481h1v1h-1zM573 481h1v1h-1zM576 481h1v1h-1zM580 481h1v1h-1zM581 481h1v1h-1zM595 481h1v1h-1zM599 481h1v1h-1zM614 481h1v1h-1zM621 481h1v1h-1zM623 481h1v1h-1zM631 481h1v1h-1zM641 481h1v1h-1zM652 481h1v1h-1zM665 481h1v1h-1zM666 481h1v1h-1zM674 481h1v1h-1zM678 481h1v1h-1zM680 481h1v1h-1zM719 481h1v1h-1zM741 481h1v1h-1zM784 481h1v1h-1zM571 482h1v1h-1zM572 482h1v1h-1zM581 482h1v1h-1zM591 482h1v1h-1zM611 482h1v1h-1zM616 482h1v1h-1zM645 482h1v1h-1zM652 482h1v1h-1zM666 482h1v1h-1zM667 482h1v1h-1zM670 482h1v1h-1zM690 482h1v1h-1zM699 482h1v1h-1zM705 482h1v1h-1zM719 482h1v1h-1zM721 482h1v1h-1zM725 482h1v1h-1zM740 482h1v1h-1zM758 482h1v1h-1zM762 482h1v1h-1zM574 483h1v1h-1zM581 483h1v1h-1zM588 483h1v1h-1zM608 483h1v1h-1zM616 483h1v1h-1zM637 483h1v1h-1zM651 483h1v1h-1zM675 483h1v1h-1zM677 483h1v1h-1zM683 483h1v1h-1zM691 483h1v1h-1zM709 483h1v1h-1zM719 483h1v1h-1zM723 483h1v1h-1zM746 483h1v1h-1zM771 483h1v1h-1zM773 483h1v1h-1zM779 483h1v1h-1zM783 483h1v1h-1zM567 484h1v1h-1zM568 484h1v1h-1zM578 484h1v1h-1zM621 484h1v1h-1zM636 484h1v1h-1zM655 484h1v1h-1zM669 484h1v1h-1zM723 484h1v1h-1zM742 484h1v1h-1zM764 484h1v1h-1zM770 484h1v1h-1zM774 484h1v1h-1zM593 485h1v1h-1zM609 485h1v1h-1zM629 485h1v1h-1zM631 485h1v1h-1zM637 485h1v1h-1zM657 485h1v1h-1zM666 485h1v1h-1zM667 485h1v1h-1zM685 485h1v1h-1zM706 485h1v1h-1zM708 485h1v1h-1zM719 485h1v1h-1zM720 485h1v1h-1zM749 485h1v1h-1zM765 485h1v1h-1zM770 485h1v1h-1zM772 485h1v1h-1zM776 485h1v1h-1zM583 486h1v1h-1zM605 486h1v1h-1zM606 486h1v1h-1zM608 486h1v1h-1zM612 486h1v1h-1zM620 486h1v1h-1zM649 486h1v1h-1zM664 486h1v1h-1zM682 486h1v1h-1zM688 486h1v1h-1zM693 486h1v1h-1zM714 486h1v1h-1zM721 486h1v1h-1zM733 486h1v1h-1zM775 486h1v1h-1zM782 486h1v1h-1zM580 487h1v1h-1zM584 487h1v1h-1zM586 487h1v1h-1zM595 487h1v1h-1zM596 487h1v1h-1zM608 487h1v1h-1zM628 487h1v1h-1zM655 487h1v1h-1zM676 487h1v1h-1zM679 487h1v1h-1zM684 487h1v1h-1zM692 487h1v1h-1zM696 487h1v1h-1zM697 487h1v1h-1zM705 487h1v1h-1zM710 487h1v1h-1zM743 487h1v1h-1zM769 487h1v1h-1zM783 487h1v1h-1zM573 488h1v1h-1zM575 488h1v1h-1zM588 488h1v1h-1zM595 488h1v1h-1zM598 488h1v1h-1zM609 488h1v1h-1zM610 488h1v1h-1zM617 488h1v1h-1zM624 488h1v1h-1zM635 488h1v1h-1zM637 488h1v1h-1zM638 488h1v1h-1zM643 488h1v1h-1zM662 488h1v1h-1zM672 488h1v1h-1zM684 488h1v1h-1zM687 488h1v1h-1zM716 488h1v1h-1zM727 488h1v1h-1zM728 488h1v1h-1zM746 488h1v1h-1zM752 488h1v1h-1zM754 488h1v1h-1zM761 488h1v1h-1zM768 488h1v1h-1zM769 488h1v1h-1zM780 488h1v1h-1zM571 489h1v1h-1zM584 489h1v1h-1zM610 489h1v1h-1zM628 489h1v1h-1zM629 489h1v1h-1zM635 489h1v1h-1zM640 489h1v1h-1zM664 489h1v1h-1zM678 489h1v1h-1zM690 489h1v1h-1zM703 489h1v1h-1zM709 489h1v1h-1zM721 489h1v1h-1zM726 489h1v1h-1zM742 489h1v1h-1zM744 489h1v1h-1zM756 489h1v1h-1zM779 489h1v1h-1zM781 489h1v1h-1zM783 489h1v1h-1zM678 464h1v1h-1zM679 464h1v1h-1zM680 464h1v1h-1zM658 485h1v1h-1zM659 485h1v1h-1zM660 485h1v1h-1zM691 468h1v1h-1zM692 468h1v1h-1zM693 468h1v1h-1zM599 476h1v1h-1zM600 476h1v1h-1zM599 477h1v1h-1zM600 477h1v1h-1zM604 469h1v1h-1zM603 470h1v1h-1zM604 470h1v1h-1zM605 470h1v1h-1zM604 471h1v1h-1zM753 463h1v1h-1zM752 464h1v1h-1zM753 464h1v1h-1zM754 464h1v1h-1zM753 465h1v1h-1zM621 468h1v1h-1zM622 469h1v1h-1zM623 468h1v1h-1zM690 487h1v1h-1zM691 487h1v1h-1zM690 488h1v1h-1zM691 488h1v1h-1zM669 481h1v1h-1zM668 482h1v1h-1zM669 482h1v1h-1zM670 482h1v1h-1zM669 483h1v1h-1zM629 483h1v1h-1zM630 484h1v1h-1zM631 483h1v1h-1zM566 463h1v1h-1zM567 463h1v1h-1zM568 463h1v1h-1zM625 461h1v1h-1zM626 461h1v1h-1zM627 461h1v1h-1zM663 469h1v1h-1zM664 469h1v1h-1zM665 469h1v1h-1zM654 462h1v1h-1zM655 462h1v1h-1zM656 462h1v1h-1zM730 470h1v1h-1zM731 470h1v1h-1zM732 470h1v1h-1zM610 463h1v1h-1zM611 464h1v1h-1zM612 463h1v1h-1zM732 479h1v1h-1zM733 479h1v1h-1zM734 479h1v1h-1zM579 463h1v1h-1zM580 464h1v1h-1zM581 463h1v1h-1zM743 477h1v1h-1zM744 477h1v1h-1zM743 478h1v1h-1zM744 478h1v1h-1zM626 478h1v1h-1zM627 479h1v1h-1zM628 478h1v1h-1zM763 484h1v1h-1zM764 485h1v1h-1zM765 484h1v1h-1zM651 470h1v1h-1zM652 470h1v1h-1zM651 471h1v1h-1zM652 471h1v1h-1zM610 476h1v1h-1zM611 476h1v1h-1zM612 476h1v1h-1zM712 468h1v1h-1zM713 468h1v1h-1zM714 468h1v1h-1zM699 467h1v1h-1zM700 467h1v1h-1zM701 467h1v1h-1zM632 468h1v1h-1zM633 468h1v1h-1zM632 469h1v1h-1zM633 469h1v1h-1zM598 466h1v1h-1zM597 467h1v1h-1zM598 467h1v1h-1zM599 467h1v1h-1zM598 468h1v1h-1zM783 460h1v1h-1zM784 460h1v1h-1zM783 461h1v1h-1zM784 461h1v1h-1zM616 480h1v1h-1zM617 481h1v1h-1zM618 480h1v1h-1zM664 485h1v1h-1zM665 485h1v1h-1zM664 486h1v1h-1zM665 486h1v1h-1zM707 481h1v1h-1zM706 482h1v1h-1zM707 482h1v1h-1zM708 482h1v1h-1zM707 483h1v1h-1zM586 468h1v1h-1zM585 469h1v1h-1zM586 469h1v1h-1zM587 469h1v1h-1zM586 470h1v1h-1zM621 463h1v1h-1zM622 463h1v1h-1zM621 464h1v1h-1zM622 464h1v1h-1zM621 477h1v1h-1zM622 477h1v1h-1zM621 478h1v1h-1zM622 478h1v1h-1zM630 478h1v1h-1zM631 478h1v1h-1zM632 478h1v1h-1zM653 467h1v1h-1zM654 468h1v1h-1zM655 467h1v1h-1zM616 482h1v1h-1zM615 483h1v1h-1zM616 483h1v1h-1zM617 483h1v1h-1zM616 484h1v1h-1zM584 487h1v1h-1zM583 488h1v1h-1zM584 488h1v1h-1zM585 488h1v1h-1zM584 489h1v1h-1zM581 462h1v1h-1zM582 462h1v1h-1zM583 462h1v1h-1zM639 475h1v1h-1zM638 476h1v1h-1zM639 476h1v1h-1zM640 476h1v1h-1zM639 477h1v1h-1zM604 465h1v1h-1zM605 466h1v1h-1zM606 465h1v1h-1zM693 465h1v1h-1zM694 465h1v1h-1zM693 466h1v1h-1zM694 466h1v1h-1zM569 463h1v1h-1zM568 464h1v1h-1zM569 464h1v1h-1zM570 464h1v1h-1zM569 465h1v1h-1zM715 472h1v1h-1zM714 473h1v1h-1zM715 473h1v1h-1zM716 473h1v1h-1zM715 474h1v1h-1zM737 482h1v1h-1zM738 482h1v1h-1zM739 482h1v1h-1zM707 479h1v1h-1zM706 480h1v1h-1zM707 480h1v1h-1zM708 480h1v1h-1zM707 481h1v1h-1zM747 483h1v1h-1zM748 484h1v1h-1zM749 483h1v1h-1zM743 466h1v1h-1zM744 466h1v1h-1zM743 467h1v1h-1zM744 467h1v1h-1zM707 486h1v1h-1zM708 486h1v1h-1zM707 487h1v1h-1zM708 487h1v1h-1zM580 483h1v1h-1zM581 483h1v1h-1zM580 484h1v1h-1zM581 484h1v1h-1zM694 476h1v1h-1zM695 476h1v1h-1zM696 476h1v1h-1zM672 480h1v1h-1zM673 480h1v1h-1zM674 480h1v1h-1zM718 486h1v1h-1zM719 486h1v1h-1zM720 486h1v1h-1zM676 464h1v1h-1zM677 464h1v1h-1zM678 464h1v1h-1zM626 482h1v1h-1zM627 482h1v1h-1zM626 483h1v1h-1zM627 483h1v1h-1zM709 485h1v1h-1zM710 485h1v1h-1zM709 486h1v1h-1zM710 486h1v1h-1zM621 472h1v1h-1zM620 473h1v1h-1zM621 473h1v1h-1zM622 473h1v1h-1zM621 474h1v1h-1zM679 468h1v1h-1zM680 468h1v1h-1zM679 469h1v1h-1zM680 469h1v1h-1zM740 460h1v1h-1zM741 461h1v1h-1zM742 460h1v1h-1zM781 466h1v1h-1zM780 467h1v1h-1zM781 467h1v1h-1zM782 467h1v1h-1zM781 468h1v1h-1zM775 481h1v1h-1zM774 482h1v1h-1zM775 482h1v1h-1zM776 482h1v1h-1zM775 483h1v1h-1zM644 469h1v1h-1zM645 469h1v1h-1zM644 470h1v1h-1zM645 470h1v1h-1zM738 477h1v1h-1zM739 477h1v1h-1zM738 478h1v1h-1zM739 478h1v1h-1zM643 485h1v1h-1zM642 486h1v1h-1zM643 486h1v1h-1zM644 486h1v1h-1zM643 487h1v1h-1zM608 482h1v1h-1zM609 482h1v1h-1zM610 482h1v1h-1zM777 477h1v1h-1zM776 478h1v1h-1zM777 478h1v1h-1zM778 478h1v1h-1zM777 479h1v1h-1zM775 483h1v1h-1zM776 483h1v1h-1zM775 484h1v1h-1zM776 484h1v1h-1zM606 468h1v1h-1zM607 468h1v1h-1zM606 469h1v1h-1zM607 469h1v1h-1zM776 461h1v1h-1zM777 462h1v1h-1zM778 461h1v1h-1zM773 465h1v1h-1zM774 465h1v1h-1zM773 466h1v1h-1zM774 466h1v1h-1zM589 465h1v1h-1zM590 466h1v1h-1zM591 465h1v1h-1zM751 471h1v1h-1zM752 471h1v1h-1zM753 471h1v1h-1zM767 462h1v1h-1zM768 462h1v1h-1zM769 462h1v1h-1zM660 473h1v1h-1zM661 473h1v1h-1zM660 474h1v1h-1zM661 474h1v1h-1zM654 473h1v1h-1zM655 474h1v1h-1zM656 473h1v1h-1zM675 465h1v1h-1zM676 466h1v1h-1zM677 465h1v1h-1zM722 464h1v1h-1zM723 465h1v1h-1zM724 464h1v1h-1zM711 483h1v1h-1zM710 484h1v1h-1zM711 484h1v1h-1zM712 484h1v1h-1zM711 485h1v1h-1zM671 473h1v1h-1zM672 473h1v1h-1zM671 474h1v1h-1zM672 474h1v1h-1zM722 477h1v1h-1zM723 477h1v1h-1zM724 477h1v1h-1zM731 477h1v1h-1zM732 478h1v1h-1zM733 477h1v1h-1zM635 487h1v1h-1zM636 487h1v1h-1zM637 487h1v1h-1zM724 477h1v1h-1zM725 477h1v1h-1zM724 478h1v1h-1zM725 478h1v1h-1zM584 461h1v1h-1zM585 461h1v1h-1zM584 462h1v1h-1zM585 462h1v1h-1zM695 481h1v1h-1zM696 481h1v1h-1zM697 481h1v1h-1zM726 485h1v1h-1zM725 486h1v1h-1zM726 486h1v1h-1zM727 486h1v1h-1zM726 487h1v1h-1zM638 478h1v1h-1zM637 479h1v1h-1zM638 479h1v1h-1zM639 479h1v1h-1zM638 480h1v1h-1zM590 481h1v1h-1zM591 482h1v1h-1zM592 481h1v1h-1zM753 478h1v1h-1zM754 479h1v1h-1zM755 478h1v1h-1zM726 463h1v1h-1zM727 463h1v1h-1zM728 463h1v1h-1zM733 485h1v1h-1zM732 486h1v1h-1zM733 486h1v1h-1zM734 486h1v1h-1zM733 487h1v1h-1zM685 482h1v1h-1zM686 483h1v1h-1zM687 482h1v1h-1zM568 475h1v1h-1zM569 476h1v1h-1zM570 475h1v1h-1zM609 478h1v1h-1zM610 479h1v1h-1zM611 478h1v1h-1zM702 483h1v1h-1zM703 483h1v1h-1zM702 484h1v1h-1zM703 484h1v1h-1zM742 480h1v1h-1zM743 480h1v1h-1zM742 481h1v1h-1zM743 481h1v1h-1zM674 484h1v1h-1zM675 484h1v1h-1zM674 485h1v1h-1zM675 485h1v1h-1zM581 475h1v1h-1zM582 476h1v1h-1zM583 475h1v1h-1zM764 474h1v1h-1zM763 475h1v1h-1zM764 475h1v1h-1zM765 475h1v1h-1zM764 476h1v1h-1zM758 480h1v1h-1zM759 480h1v1h-1zM760 480h1v1h-1zM718 485h1v1h-1zM719 485h1v1h-1zM720 485h1v1h-1zM745 472h1v1h-1zM746 472h1v1h-1zM745 473h1v1h-1zM746 473h1v1h-1zM731 461h1v1h-1zM732 462h1v1h-1zM733 461h1v1h-1zM597 485h1v1h-1zM598 485h1v1h-1zM597 486h1v1h-1zM598 486h1v1h-1zM694 483h1v1h-1zM695 483h1v1h-1zM696 483h1v1h-1zM765 485h1v1h-1zM766 486h1v1h-1zM767 485h1v1h-1zM616 475h1v1h-1zM617 475h1v1h-1zM616 476h1v1h-1zM617 476h1v1h-1zM614 474h1v1h-1zM613 475h1v1h-1zM614 475h1v1h-1zM615 475h1v1h-1zM614 476h1v1h-1zM772 479h1v1h-1zM771 480h1v1h-1zM772 480h1v1h-1zM773 480h1v1h-1zM772 481h1v1h-1zM664 465h1v1h-1zM665 465h1v1h-1zM666 465h1v1h-1zM757 480h1v1h-1zM756 481h1v1h-1zM757 481h1v1h-1zM758 481h1v1h-1zM757 482h1v1h-1zM744 484h1v1h-1zM743 485h1v1h-1zM744 485h1v1h-1zM745 485h1v1h-1zM744 486h1v1h-1zM727 475h1v1h-1zM728 475h1v1h-1zM729 475h1v1h-1zM711 473h1v1h-1zM712 473h1v1h-1zM713 473h1v1h-1zM594 471h1v1h-1zM595 471h1v1h-1zM594 472h1v1h-1zM595 472h1v1h-1zM758 484h1v1h-1zM759 484h1v1h-1zM758 485h1v1h-1zM759 485h1v1h-1zM665 475h1v1h-1zM664 476h1v1h-1zM665 476h1v1h-1zM666 476h1v1h-1zM665 477h1v1h-1zM587 472h1v1h-1zM586 473h1v1h-1zM587 473h1v1h-1zM588 473h1v1h-1zM587 474h1v1h-1zM611 477h1v1h-1zM612 477h1v1h-1zM613 477h1v1h-1zM667 472h1v1h-1zM668 473h1v1h-1zM669 472h1v1h-1zM631 479h1v1h-1zM632 479h1v1h-1zM633 479h1v1h-1zM704 485h1v1h-1zM705 485h1v1h-1zM706 485h1v1h-1zM709 477h1v1h-1zM708 478h1v1h-1zM709 478h1v1h-1zM710 478h1v1h-1zM709 479h1v1h-1zM627 462h1v1h-1zM628 462h1v1h-1zM627 463h1v1h-1zM628 463h1v1h-1zM724 471h1v1h-1zM725 471h1v1h-1zM726 471h1v1h-1zM645 476h1v1h-1zM646 476h1v1h-1zM645 477h1v1h-1zM646 477h1v1h-1zM639 464h1v1h-1zM640 464h1v1h-1zM641 464h1v1h-1zM581 480h1v1h-1zM582 480h1v1h-1zM583 480h1v1h-1zM769 475h1v1h-1zM770 476h1v1h-1zM771 475h1v1h-1zM674 478h1v1h-1zM675 478h1v1h-1zM674 479h1v1h-1zM675 479h1v1h-1zM615 474h1v1h-1zM614 475h1v1h-1zM615 475h1v1h-1zM616 475h1v1h-1zM615 476h1v1h-1zM704 460h1v1h-1zM705 460h1v1h-1zM704 461h1v1h-1zM705 461h1v1h-1zM618 478h1v1h-1zM619 478h1v1h-1zM620 478h1v1h-1zM654 469h1v1h-1zM655 469h1v1h-1zM654 470h1v1h-1zM655 470h1v1h-1zM662 479h1v1h-1zM663 480h1v1h-1zM664 479h1v1h-1zM619 471h1v1h-1zM618 472h1v1h-1zM619 472h1v1h-1zM620 472h1v1h-1zM619 473h1v1h-1zM749 464h1v1h-1zM750 465h1v1h-1zM751 464h1v1h-1zM629 471h1v1h-1zM630 471h1v1h-1zM631 471h1v1h-1zM568 470h1v1h-1zM567 471h1v1h-1zM568 471h1v1h-1zM569 471h1v1h-1zM568 472h1v1h-1zM683 463h1v1h-1zM682 464h1v1h-1zM683 464h1v1h-1zM684 464h1v1h-1zM683 465h1v1h-1zM591 473h1v1h-1zM590 474h1v1h-1zM591 474h1v1h-1zM592 474h1v1h-1zM591 475h1v1h-1zM586 486h1v1h-1zM587 487h1v1h-1zM588 486h1v1h-1zM633 466h1v1h-1zM632 467h1v1h-1zM633 467h1v1h-1zM634 467h1v1h-1zM633 468h1v1h-1zM751 462h1v1h-1zM752 462h1v1h-1zM753 462h1v1h-1zM773 484h1v1h-1zM774 485h1v1h-1zM775 484h1v1h-1zM597 462h1v1h-1zM596 463h1v1h-1zM597 463h1v1h-1zM598 463h1v1h-1zM597 464h1v1h-1zM645 463h1v1h-1zM646 463h1v1h-1zM647 463h1v1h-1zM762 478h1v1h-1zM763 478h1v1h-1zM764 478h1v1h-1zM584 486h1v1h-1zM585 486h1v1h-1zM586 486h1v1h-1zM759 462h1v1h-1zM760 463h1v1h-1zM761 462h1v1h-1zM704 486h1v1h-1zM705 486h1v1h-1zM704 487h1v1h-1zM705 487h1v1h-1zM606 484h1v1h-1zM607 484h1v1h-1zM608 484h1v1h-1zM776 469h1v1h-1zM775 470h1v1h-1zM776 470h1v1h-1zM777 470h1v1h-1zM776 471h1v1h-1zM601 477h1v1h-1zM600 478h1v1h-1zM601 478h1v1h-1zM602 478h1v1h-1zM601 479h1v1h-1zM688 460h1v1h-1zM689 461h1v1h-1zM690 460h1v1h-1zM595 462h1v1h-1zM596 462h1v1h-1zM597 462h1v1h-1zM680 463h1v1h-1zM681 464h1v1h-1zM682 463h1v1h-1zM735 484h1v1h-1zM734 485h1v1h-1zM735 485h1v1h-1zM736 485h1v1h-1zM735 486h1v1h-1zM691 466h1v1h-1zM692 467h1v1h-1zM693 466h1v1h-1zM671 470h1v1h-1zM670 471h1v1h-1zM671 471h1v1h-1zM672 471h1v1h-1zM671 472h1v1h-1zM684 461h1v1h-1zM683 462h1v1h-1zM684 462h1v1h-1zM685 462h1v1h-1zM684 463h1v1h-1zM649 480h1v1h-1zM650 481h1v1h-1zM651 480h1v1h-1zM772 461h1v1h-1zM771 462h1v1h-1zM772 462h1v1h-1zM773 462h1v1h-1zM772 463h1v1h-1z" fill="#000"/><path d="M566 491h1v4h-1zM566 496h1v14h-1zM566 511h1v9h-1zM569 491h1v13h-1zM569 505h1v14h-1zM571 492h1v5h-1zM571 498h1v8h-1zM571 507h1v5h-1zM571 513h1v6h-1zM574 491h1v4h-1zM574 496h1v14h-1zM574 511h1v8h-1zM576 491h1v13h-1zM576 505h1v14h-1zM579 492h1v5h-1zM579 498h1v8h-1zM579 507h1v5h-1zM579 513h1v6h-1zM581 491h1v4h-1zM581 496h1v14h-1zM581 511h1v8h-1zM583 491h1v13h-1zM583 505h1v14h-1zM586 492h1v5h-1zM586 498h1v8h-1zM586 507h1v5h-1zM586 513h1v6h-1zM588 491h1v4h-1zM588 496h1v14h-1zM588 511h1v8h-1zM591 491h1v13h-1zM591 505h1v14h-1zM593 492h1v5h-1zM593 498h1v8h-1zM593 507h1v5h-1zM593 513h1v6h-1zM595 491h1v4h-1zM595 496h1v14h-1zM595 511h1v8h-1zM598 491h1v13h-1zM598 505h1v14h-1zM600 492h1v5h-1zM600 498h1v8h-1zM600 507h1v5h-1zM600 513h1v6h-1zM602 491h1v4h-1zM602 496h1v14h-1zM602 511h1v8h-1zM605 491h1v13h-1zM605 505h1v14h-1zM607 492h1v5h-1zM607 498h1v8h-1zM607 507h1v5h-1zM607 513h1v6h-1zM610 491h1v4h-1zM610 496h1v14h-1zM610 511h1v8h-1zM612 491h1v13h-1zM612 505h1v14h-1zM614 492h1v5h-1zM614 498h1v8h-1zM614 507h1v5h-1zM614 513h1v6h-1zM617 491h1v4h-1zM617 496h1v14h-1zM617 511h1v8h-1zM619 491h1v13h-1zM619 505h1v14h-1zM622 492h1v5h-1zM622 498h1v8h-1zM622 507h1v5h-1zM622 513h1v6h-1zM624 491h1v4h-1zM624 496h1v14h-1zM624 511h1v8h-1zM626 491h1v13h-1zM626 505h1v14h-1zM629 492h1v5h-1zM629 498h1v8h-1zM629 507h1v5h-1zM629 513h1v6h-1zM631 491h1v4h-1zM631 496h1v14h-1zM631 511h1v8h-1zM634 491h1v13h-1zM634 505h1v14h-1zM636 492h1v5h-1zM636 498h1v8h-1zM636 507h1v5h-1zM636 513h1v6h-1zM638 491h1v4h-1zM638 496h1v14h-1zM638 511h1v8h-1zM641 491h1v13h-1zM641 505h1v14h-1zM643 492h1v5h-1zM643 498h1v8h-1zM643 507h1v5h-1zM643 513h1v6h-1zM645 491h1v4h-1zM645 496h1v14h-1zM645 511h1v8h-1zM648 491h1v13h-1zM648 505h1v14h-1zM650 492h1v5h-1zM650 498h1v8h-1zM650 507h1v5h-1zM650 513h1v6h-1zM653 491h1v4h-1zM653 496h1v14h-1zM653 511h1v8h-1zM655 491h1v13h-1zM655 505h1v14h-1zM657 492h1v5h-1zM657 498h1v8h-1zM657 507h1v5h-1zM657 513h1v6h-1zM660 491h1v4h-1zM660 496h1v14h-1zM660 511h1v8h-1zM662 491h1v13h-1zM662 505h1v14h-1zM665 492h1v5h-1zM665 498h1v8h-1zM665 507h1v5h-1zM665 513h1v6h-1zM667 491h1v4h-1zM667 496h1v14h-1zM667 511h1v8h-1zM669 491h1v13h-1zM669 505h1v14h-1zM672 492h1v5h-1zM672 498h1v8h-1zM672 507h1v5h-1zM672 513h1v6h-1zM674 491h1v4h-1zM674 496h1v14h-1zM674 511h1v8h-1zM677 491h1v13h-1zM677 505h1v14h-1zM679 492h1v5h-1zM679 498h1v8h-1zM679 507h1v5h-1zM679 513h1v6h-1zM681 491h1v4h-1zM681 496h1v14h-1zM681 511h1v8h-1zM684 491h1v13h-1zM684 505h1v14h-1zM686 492h1v5h-1zM686 498h1v8h-1zM686 507h1v5h-1zM686 513h1v6h-1zM688 491h1v4h-1zM688 496h1v14h-1zM688 511h1v8h-1zM691 491h1v13h-1zM691 505h1v14h-1zM693 492h1v5h-1zM693 498h1v8h-1zM693 507h1v5h-1zM693 513h1v6h-1zM696 491h1v4h-1zM696 496h1v14h-1zM696 511h1v8h-1zM698 491h1v13h-1zM698 505h1v14h-1zM700 492h1v5h-1zM700 498h1v8h-1zM700 507h1v5h-1zM700 513h1v6h-1zM703 491h1v4h-1zM703 496h1v14h-1zM703 511h1v8h-1zM705 491h1v13h-1zM705 505h1v14h-1zM708 492h1v5h-1zM708 498h1v8h-1zM708 507h1v5h-1zM708 513h1v6h-1zM710 491h1v4h-1zM710 496h1v14h-1zM710 511h1v8h-1zM712 491h1v13h-1zM712 505h1v14h-1zM715 492h1v5h-1zM715 498h1v8h-1zM715 507h1v5h-1zM715 513h1v6h-1zM717 491h1v4h-1zM717 496h1v14h-1zM717 511h1v8h-1zM720 491h1v13h-1zM720 505h1v14h-1zM722 492h1v5h-1zM722 498h1v8h-1zM722 507h1v5h-1zM722 513h1v6h-1zM724 491h1v4h-1zM724 496h1v14h-1zM724 511h1v8h-1zM727 491h1v13h-1zM727 505h1v14h-1zM729 492h1v5h-1zM729 498h1v8h-1zM729 507h1v5h-1zM729 513h1v6h-1zM732 491h1v4h-1zM732 496h1v14h-1zM732 511h1v8h-1zM734 491h1v13h-1zM734 505h1v14h-1zM736 492h1v5h-1zM736 498h1v8h-1zM736 507h1v5h-1zM736 513h1v6h-1zM739 491h1v4h-1zM739 496h1v14h-1zM739 511h1v8h-1zM741 491h1v13h-1zM741 505h1v14h-1zM743 492h1v5h-1zM743 498h1v8h-1zM743 507h1v5h-1zM743 513h1v6h-1zM746 491h1v4h-1zM746 496h1v14h-1zM746 511h1v8h-1zM748 491h1v13h-1zM748 505h1v14h-1zM751 492h1v5h-1zM751 498h1v8h-1zM751 507h1v5h-1zM751 513h1v6h-1zM753 491h1v4h-1zM753 496h1v14h-1zM753 511h1v8h-1zM755 491h1v13h-1zM755 505h1v14h-1zM758 492h1v5h-1zM758 498h1v8h-1zM758 507h1v5h-1zM758 513h1v6h-1zM760 491h1v4h-1zM760 496h1v14h-1zM760 511h1v8h-1zM763 491h1v13h-1zM763 505h1v14h-1zM765 492h1v5h-1zM765 498h1v8h-1zM765 507h1v5h-1zM765 513h1v6h-1zM767 491h1v4h-1zM767 496h1v14h-1zM767 511h1v8h-1zM770 491h1v13h-1zM770 505h1v14h-1zM772 492h1v5h-1zM772 498h1v8h-1zM772 507h1v5h-1zM772 513h1v6h-1zM775 491h1v4h-1zM775 496h1v14h-1zM775 511h1v8h-1zM777 491h1v13h-1zM777 505h1v14h-1zM779 492h1v5h-1zM779 498h1v8h-1zM779 507h1v5h-1zM779 513h1v6h-1zM782 491h1v4h-1zM782 496h1v14h-1zM782 511h1v8h-1zM784 491h1v13h-1zM784 505h1v14h-1z" fill="#000"/><path d="M565.5 429.5H786.5V520.5H565.5Z M565 459.5H786 M565 490.5H786" stroke="#000" fill="none"/><path d="M723.3 324.1L737.6 332.3L689.3 420.3L675.8 429L674.7 414Z M716.64 336.42L730.98 344.36 M723.81 340.39L682 417.15 M674.7 414L689.3 420.3" stroke="#000" stroke-width="1" fill="none" stroke-linejoin="miter"/><path d="M675.25 421.5L682.55 424.65L675.8 429Z" fill="#000"/><g fill="none" stroke-width="1" stroke-linecap="square" stroke-linejoin="miter" shape-rendering="crispEdges"><path d="M265.5 132.5L262.5 132.5L260.5 134.5L260.5 136.5L262.5 138.5L265.5 138.5M268.5 129.5L268.5 138.5M268.5 133.5L269.5 132.5L272.5 132.5L273.5 133.5L273.5 138.5M281.5 132.5L277.5 132.5L276.5 133.5L276.5 137.5L277.5 138.5L281.5 138.5M281.5 132.5L281.5 138.5M284.5 132.5L284.5 141.5M284.5 132.5L288.5 132.5L289.5 133.5L289.5 137.5L288.5 138.5L284.5 138.5M297.5 132.5L293.5 132.5L292.5 133.5L292.5 137.5L293.5 138.5L297.5 138.5M297.5 132.5L297.5 138.5M313.5 129.5L313.5 138.5M313.5 132.5L309.5 132.5L308.5 133.5L308.5 137.5L309.5 138.5L313.5 138.5M316.5 135.5L321.5 135.5L321.5 133.5L320.5 132.5L317.5 132.5L316.5 133.5L316.5 137.5L317.5 138.5L321.5 138.5M338.5 132.5L334.5 132.5L333.5 133.5L333.5 137.5L334.5 138.5L338.5 138.5M338.5 132.5L338.5 138.5M341.5 129.5L341.5 138.5M344.5 132.5L344.5 137.5L345.5 138.5L348.5 138.5L349.5 137.5M349.5 132.5L349.5 138.5M352.5 132.5L352.5 138.5M352.5 133.5L353.5 132.5L356.5 132.5L357.5 133.5L357.5 138.5M357.5 133.5L358.5 132.5L360.5 132.5L361.5 133.5L361.5 138.5M364.5 132.5L364.5 138.5M364.5 130.5L365.5 129.5M367.5 132.5L367.5 138.5M367.5 133.5L368.5 132.5L371.5 132.5L372.5 133.5L372.5 138.5M375.5 132.5L375.5 138.5M375.5 130.5L376.5 129.5M379.5 132.5L382.5 132.5L383.5 133.5L383.5 137.5L382.5 138.5L379.5 138.5L378.5 137.5L378.5 133.5L379.5 132.5M396.5 129.5L399.5 129.5L400.5 130.5L400.5 137.5L399.5 138.5L396.5 138.5L395.5 137.5L395.5 130.5L396.5 129.5M403.5 138.5L403.5 138.5M406.5 131.5L406.5 130.5L407.5 129.5L410.5 129.5L411.5 130.5L411.5 132.5L406.5 138.5L411.5 138.5M414.5 135.5L423.5 135.5M427.5 129.5L430.5 129.5L431.5 130.5L431.5 137.5L430.5 138.5L427.5 138.5L426.5 137.5L426.5 130.5L427.5 129.5M434.5 138.5L434.5 138.5M437.5 130.5L438.5 129.5L441.5 129.5L442.5 130.5L442.5 132.5L441.5 133.5L439.5 133.5M441.5 133.5L442.5 134.5L442.5 137.5L441.5 138.5L438.5 138.5L437.5 137.5M445.5 132.5L445.5 138.5M445.5 133.5L446.5 132.5L449.5 132.5L450.5 133.5L450.5 138.5M450.5 133.5L451.5 132.5L453.5 132.5L454.5 133.5L454.5 138.5M456.5 132.5L456.5 138.5M456.5 133.5L457.5 132.5L460.5 132.5L461.5 133.5L461.5 138.5M461.5 133.5L462.5 132.5L464.5 132.5L465.5 133.5L465.5 138.5M477.5 135.5L482.5 135.5L482.5 133.5L481.5 132.5L478.5 132.5L477.5 133.5L477.5 137.5L478.5 138.5L482.5 138.5M490.5 132.5L486.5 132.5L485.5 133.5L485.5 134.5L486.5 135.5L489.5 135.5L490.5 136.5L490.5 137.5L489.5 138.5L485.5 138.5M493.5 132.5L493.5 141.5M493.5 132.5L497.5 132.5L498.5 133.5L498.5 137.5L497.5 138.5L493.5 138.5M260.5 213.5L260.5 204.5L264.5 204.5L265.5 205.5L265.5 208.5L264.5 209.5L260.5 209.5M268.5 210.5L273.5 210.5L273.5 208.5L272.5 207.5L269.5 207.5L268.5 208.5L268.5 212.5L269.5 213.5L273.5 213.5M281.5 207.5L281.5 215.5L280.5 216.5L277.5 216.5M281.5 207.5L277.5 207.5L276.5 208.5L276.5 212.5L277.5 213.5L281.5 213.5M289.5 207.5L285.5 207.5L284.5 208.5L284.5 212.5L285.5 213.5L289.5 213.5M289.5 207.5L289.5 213.5M292.5 207.5L292.5 213.5M292.5 208.5L293.5 207.5L296.5 207.5L297.5 208.5L297.5 213.5M297.5 208.5L298.5 207.5L300.5 207.5L301.5 208.5L301.5 213.5M304.5 210.5L309.5 210.5L309.5 208.5L308.5 207.5L305.5 207.5L304.5 208.5L304.5 212.5L305.5 213.5L309.5 213.5M312.5 207.5L312.5 213.5M312.5 208.5L313.5 207.5L316.5 207.5L317.5 208.5L317.5 213.5M320.5 205.5L320.5 212.5L321.5 213.5L322.5 213.5M319.5 207.5L322.5 207.5M326.5 207.5L329.5 207.5L330.5 208.5L330.5 212.5L329.5 213.5L326.5 213.5L325.5 212.5L325.5 208.5L326.5 207.5M201.5 314.5L201.5 323.5M201.5 314.5L205.5 314.5L206.5 315.5L206.5 317.5L205.5 318.5L201.5 318.5M205.5 318.5L206.5 319.5L206.5 322.5L205.5 323.5L201.5 323.5M210.5 317.5L213.5 317.5L214.5 318.5L214.5 322.5L213.5 323.5L210.5 323.5L209.5 322.5L209.5 318.5L210.5 317.5M221.5 317.5L217.5 317.5L216.5 318.5L216.5 319.5L217.5 320.5L220.5 320.5L221.5 321.5L221.5 322.5L220.5 323.5L216.5 323.5M229.5 317.5L229.5 326.5M229.5 317.5L225.5 317.5L224.5 318.5L224.5 322.5L225.5 323.5L229.5 323.5M232.5 317.5L232.5 322.5L233.5 323.5L236.5 323.5L237.5 322.5M237.5 317.5L237.5 323.5M239.5 320.5L244.5 320.5L244.5 318.5L243.5 317.5L240.5 317.5L239.5 318.5L239.5 322.5L240.5 323.5L244.5 323.5M248.5 317.5L248.5 325.5L247.5 326.5M248.5 315.5L249.5 314.5M252.5 317.5L255.5 317.5L256.5 318.5L256.5 322.5L255.5 323.5L252.5 323.5L251.5 322.5L251.5 318.5L252.5 317.5M267.5 323.5L267.5 314.5L271.5 314.5L272.5 315.5L272.5 318.5L271.5 319.5L267.5 319.5M280.5 317.5L276.5 317.5L275.5 318.5L275.5 322.5L276.5 323.5L280.5 323.5M280.5 317.5L280.5 323.5M283.5 317.5L283.5 323.5M283.5 318.5L284.5 317.5L287.5 317.5L288.5 318.5L288.5 323.5M290.5 320.5L295.5 320.5L295.5 318.5L294.5 317.5L291.5 317.5L290.5 318.5L290.5 322.5L291.5 323.5L295.5 323.5M298.5 314.5L298.5 323.5M301.5 320.5L306.5 320.5L306.5 318.5L305.5 317.5L302.5 317.5L301.5 318.5L301.5 322.5L302.5 323.5L306.5 323.5M314.5 317.5L310.5 317.5L309.5 318.5L309.5 319.5L310.5 320.5L313.5 320.5L314.5 321.5L314.5 322.5L313.5 323.5L309.5 323.5M260.5 402.5L260.5 401.5L261.5 400.5L264.5 400.5L265.5 401.5L265.5 403.5L260.5 409.5L265.5 409.5M281.5 403.5L278.5 403.5L276.5 405.5L276.5 407.5L278.5 409.5L281.5 409.5M289.5 403.5L285.5 403.5L284.5 404.5L284.5 408.5L285.5 409.5L289.5 409.5M289.5 403.5L289.5 409.5M292.5 403.5L292.5 412.5M292.5 403.5L296.5 403.5L297.5 404.5L297.5 408.5L296.5 409.5L292.5 409.5M304.5 403.5L300.5 403.5L299.5 404.5L299.5 408.5L300.5 409.5L304.5 409.5M304.5 403.5L304.5 409.5M312.5 403.5L308.5 403.5L307.5 404.5L307.5 405.5L308.5 406.5L311.5 406.5L312.5 407.5L312.5 408.5L311.5 409.5L307.5 409.5M328.5 400.5L328.5 409.5M328.5 403.5L324.5 403.5L323.5 404.5L323.5 408.5L324.5 409.5L328.5 409.5M331.5 406.5L336.5 406.5L336.5 404.5L335.5 403.5L332.5 403.5L331.5 404.5L331.5 408.5L332.5 409.5L336.5 409.5M351.5 400.5L350.5 400.5L349.5 401.5L349.5 409.5M347.5 403.5L351.5 403.5M353.5 403.5L353.5 409.5M353.5 401.5L354.5 400.5M356.5 400.5L356.5 409.5M356.5 403.5L360.5 403.5L361.5 404.5L361.5 408.5L360.5 409.5L356.5 409.5M364.5 403.5L364.5 409.5M364.5 405.5L366.5 403.5L368.5 403.5M374.5 403.5L370.5 403.5L369.5 404.5L369.5 408.5L370.5 409.5L374.5 409.5M374.5 403.5L374.5 409.5M390.5 400.5L390.5 409.5M390.5 403.5L386.5 403.5L385.5 404.5L385.5 408.5L386.5 409.5L390.5 409.5M393.5 406.5L398.5 406.5L398.5 404.5L397.5 403.5L394.5 403.5L393.5 404.5L393.5 408.5L394.5 409.5L398.5 409.5M409.5 403.5L409.5 405.5L411.5 409.5L412.5 409.5L414.5 405.5L414.5 403.5M417.5 403.5L417.5 409.5M417.5 401.5L418.5 400.5M425.5 400.5L425.5 409.5M425.5 403.5L421.5 403.5L420.5 404.5L420.5 408.5L421.5 409.5L425.5 409.5M427.5 403.5L427.5 409.5M427.5 405.5L429.5 403.5L431.5 403.5M433.5 403.5L433.5 409.5M433.5 401.5L434.5 400.5M437.5 403.5L440.5 403.5L441.5 404.5L441.5 408.5L440.5 409.5L437.5 409.5L436.5 408.5L436.5 404.5L437.5 403.5M453.5 400.5L456.5 400.5L457.5 401.5L457.5 403.5L456.5 404.5L453.5 404.5L452.5 403.5L452.5 401.5L453.5 400.5M453.5 404.5L452.5 405.5L452.5 408.5L453.5 409.5L456.5 409.5L457.5 408.5L457.5 405.5L456.5 404.5M461.5 400.5L464.5 400.5L465.5 401.5L465.5 408.5L464.5 409.5L461.5 409.5L460.5 408.5L460.5 401.5L461.5 400.5M472.5 403.5L472.5 411.5L471.5 412.5L468.5 412.5M472.5 403.5L468.5 403.5L467.5 404.5L467.5 408.5L468.5 409.5L472.5 409.5M475.5 403.5L475.5 409.5M475.5 405.5L477.5 403.5L479.5 403.5M260.5 419.5L260.5 425.5M260.5 421.5L262.5 419.5L264.5 419.5M265.5 422.5L270.5 422.5L270.5 420.5L269.5 419.5L266.5 419.5L265.5 420.5L265.5 424.5L266.5 425.5L270.5 425.5M277.5 416.5L276.5 416.5L275.5 417.5L275.5 425.5M273.5 419.5L277.5 419.5M280.5 419.5L283.5 419.5L284.5 420.5L284.5 424.5L283.5 425.5L280.5 425.5L279.5 424.5L279.5 420.5L280.5 419.5M286.5 419.5L286.5 425.5M286.5 421.5L288.5 419.5L290.5 419.5M291.5 419.5L296.5 419.5L291.5 425.5L296.5 425.5M304.5 419.5L300.5 419.5L299.5 420.5L299.5 424.5L300.5 425.5L304.5 425.5M304.5 419.5L304.5 425.5M311.5 416.5L311.5 425.5M311.5 419.5L307.5 419.5L306.5 420.5L306.5 424.5L307.5 425.5L311.5 425.5M319.5 419.5L315.5 419.5L314.5 420.5L314.5 424.5L315.5 425.5L319.5 425.5M319.5 419.5L319.5 425.5M335.5 419.5L332.5 419.5L330.5 421.5L330.5 423.5L332.5 425.5L335.5 425.5M339.5 419.5L342.5 419.5L343.5 420.5L343.5 424.5L342.5 425.5L339.5 425.5L338.5 424.5L338.5 420.5L339.5 419.5M345.5 419.5L345.5 425.5M345.5 420.5L346.5 419.5L349.5 419.5L350.5 420.5L350.5 425.5M361.5 419.5L361.5 425.5M361.5 421.5L363.5 419.5L365.5 419.5M366.5 422.5L371.5 422.5L371.5 420.5L370.5 419.5L367.5 419.5L366.5 420.5L366.5 424.5L367.5 425.5L371.5 425.5M379.5 419.5L375.5 419.5L374.5 420.5L374.5 421.5L375.5 422.5L378.5 422.5L379.5 423.5L379.5 424.5L378.5 425.5L374.5 425.5M381.5 419.5L381.5 425.5M381.5 417.5L382.5 416.5M384.5 419.5L384.5 425.5M384.5 420.5L385.5 419.5L388.5 419.5L389.5 420.5L389.5 425.5M397.5 419.5L393.5 419.5L392.5 420.5L392.5 424.5L393.5 425.5L397.5 425.5M397.5 419.5L397.5 425.5M408.5 422.5L413.5 422.5L413.5 420.5L412.5 419.5L409.5 419.5L408.5 420.5L408.5 424.5L409.5 425.5L413.5 425.5M415.5 419.5L415.5 428.5M415.5 419.5L419.5 419.5L420.5 420.5L420.5 424.5L419.5 425.5L415.5 425.5M424.5 419.5L427.5 419.5L428.5 420.5L428.5 424.5L427.5 425.5L424.5 425.5L423.5 424.5L423.5 420.5L424.5 419.5M430.5 419.5L435.5 425.5M435.5 419.5L430.5 425.5M438.5 419.5L438.5 425.5M438.5 417.5L439.5 416.5M260.5 483.5L260.5 474.5L263.5 479.5L266.5 474.5L266.5 483.5M274.5 477.5L270.5 477.5L269.5 478.5L269.5 482.5L270.5 483.5L274.5 483.5M274.5 477.5L274.5 483.5M282.5 477.5L278.5 477.5L277.5 478.5L277.5 479.5L278.5 480.5L281.5 480.5L282.5 481.5L282.5 482.5L281.5 483.5L277.5 483.5M285.5 477.5L285.5 483.5M285.5 475.5L286.5 474.5M288.5 474.5L288.5 483.5M291.5 474.5L291.5 483.5M300.5 477.5L296.5 477.5L295.5 478.5L295.5 482.5L296.5 483.5L300.5 483.5M300.5 477.5L300.5 483.5M311.5 474.5L311.5 483.5M314.5 477.5L314.5 483.5M314.5 475.5L315.5 474.5M323.5 477.5L323.5 485.5L322.5 486.5L319.5 486.5M323.5 477.5L319.5 477.5L318.5 478.5L318.5 482.5L319.5 483.5L323.5 483.5M325.5 480.5L330.5 480.5L330.5 478.5L329.5 477.5L326.5 477.5L325.5 478.5L325.5 482.5L326.5 483.5L330.5 483.5M333.5 477.5L333.5 483.5M333.5 479.5L335.5 477.5L337.5 477.5M344.5 477.5L340.5 477.5L339.5 478.5L339.5 482.5L340.5 483.5L344.5 483.5M344.5 477.5L344.5 483.5M355.5 483.5L358.5 474.5L359.5 474.5L362.5 483.5M356.5 481.5L361.5 481.5M370.5 477.5L370.5 485.5L369.5 486.5L366.5 486.5M370.5 477.5L366.5 477.5L365.5 478.5L365.5 482.5L366.5 483.5L370.5 483.5M372.5 477.5L372.5 482.5L373.5 483.5L376.5 483.5L377.5 482.5M377.5 477.5L377.5 483.5M385.5 477.5L381.5 477.5L380.5 478.5L380.5 482.5L381.5 483.5L385.5 483.5M385.5 477.5L385.5 483.5M388.5 477.5L388.5 486.5M388.5 477.5L392.5 477.5L393.5 478.5L393.5 482.5L392.5 483.5L388.5 483.5M396.5 474.5L396.5 483.5M404.5 477.5L400.5 477.5L399.5 478.5L399.5 482.5L400.5 483.5L404.5 483.5M404.5 477.5L404.5 483.5M412.5 477.5L408.5 477.5L407.5 478.5L407.5 479.5L408.5 480.5L411.5 480.5L412.5 481.5L412.5 482.5L411.5 483.5L407.5 483.5M415.5 475.5L415.5 482.5L416.5 483.5L417.5 483.5M414.5 477.5L417.5 477.5M430.5 474.5L433.5 474.5L434.5 475.5L434.5 482.5L433.5 483.5L430.5 483.5L429.5 482.5L429.5 475.5L430.5 474.5M437.5 483.5L437.5 483.5M440.5 476.5L442.5 474.5L443.5 474.5L443.5 483.5M446.5 480.5L455.5 480.5M459.5 474.5L462.5 474.5L463.5 475.5L463.5 482.5L462.5 483.5L459.5 483.5L458.5 482.5L458.5 475.5L459.5 474.5M466.5 483.5L466.5 483.5M469.5 475.5L470.5 474.5L473.5 474.5L474.5 475.5L474.5 477.5L473.5 478.5L471.5 478.5M473.5 478.5L474.5 479.5L474.5 482.5L473.5 483.5L470.5 483.5L469.5 482.5M477.5 477.5L477.5 483.5M477.5 478.5L478.5 477.5L481.5 477.5L482.5 478.5L482.5 483.5M482.5 478.5L483.5 477.5L485.5 477.5L486.5 478.5L486.5 483.5M488.5 477.5L488.5 483.5M488.5 478.5L489.5 477.5L492.5 477.5L493.5 478.5L493.5 483.5M493.5 478.5L494.5 477.5L496.5 477.5L497.5 478.5L497.5 483.5M509.5 480.5L514.5 480.5L514.5 478.5L513.5 477.5L510.5 477.5L509.5 478.5L509.5 482.5L510.5 483.5L514.5 483.5M521.5 477.5L517.5 477.5L516.5 478.5L516.5 479.5L517.5 480.5L520.5 480.5L521.5 481.5L521.5 482.5L520.5 483.5L516.5 483.5M524.5 477.5L524.5 486.5M524.5 477.5L528.5 477.5L529.5 478.5L529.5 482.5L528.5 483.5L524.5 483.5M532.5 483.5L532.5 483.5M260.5 513.5L260.5 504.5L263.5 509.5L266.5 504.5L266.5 513.5M275.5 507.5L271.5 507.5L270.5 508.5L270.5 512.5L271.5 513.5L275.5 513.5M275.5 507.5L275.5 513.5M282.5 504.5L282.5 513.5M282.5 507.5L278.5 507.5L277.5 508.5L277.5 512.5L278.5 513.5L282.5 513.5M285.5 510.5L290.5 510.5L290.5 508.5L289.5 507.5L286.5 507.5L285.5 508.5L285.5 512.5L286.5 513.5L290.5 513.5M293.5 507.5L293.5 513.5M293.5 509.5L295.5 507.5L297.5 507.5M304.5 507.5L300.5 507.5L299.5 508.5L299.5 512.5L300.5 513.5L304.5 513.5M304.5 507.5L304.5 513.5M315.5 504.5L315.5 513.5M315.5 504.5L319.5 504.5L320.5 505.5L320.5 507.5L319.5 508.5L315.5 508.5M319.5 508.5L320.5 509.5L320.5 512.5L319.5 513.5L315.5 513.5M328.5 507.5L324.5 507.5L323.5 508.5L323.5 512.5L324.5 513.5L328.5 513.5M328.5 507.5L328.5 513.5M331.5 504.5L331.5 513.5M339.5 507.5L335.5 507.5L334.5 508.5L334.5 509.5L335.5 510.5L338.5 510.5L339.5 511.5L339.5 512.5L338.5 513.5L334.5 513.5M347.5 507.5L343.5 507.5L342.5 508.5L342.5 512.5L343.5 513.5L347.5 513.5M347.5 507.5L347.5 513.5M359.5 505.5L360.5 504.5L363.5 504.5L364.5 505.5L364.5 507.5L363.5 508.5L361.5 508.5M363.5 508.5L364.5 509.5L364.5 512.5L363.5 513.5L360.5 513.5L359.5 512.5M367.5 507.5L367.5 513.5M367.5 508.5L368.5 507.5L371.5 507.5L372.5 508.5L372.5 513.5M372.5 508.5L373.5 507.5L375.5 507.5L376.5 508.5L376.5 513.5M379.5 507.5L379.5 513.5M379.5 508.5L380.5 507.5L383.5 507.5L384.5 508.5L384.5 513.5M384.5 508.5L385.5 507.5L387.5 507.5L388.5 508.5L388.5 513.5M399.5 510.5L404.5 510.5L404.5 508.5L403.5 507.5L400.5 507.5L399.5 508.5L399.5 512.5L400.5 513.5L404.5 513.5M412.5 507.5L408.5 507.5L407.5 508.5L407.5 509.5L408.5 510.5L411.5 510.5L412.5 511.5L412.5 512.5L411.5 513.5L407.5 513.5M415.5 507.5L415.5 516.5M415.5 507.5L419.5 507.5L420.5 508.5L420.5 512.5L419.5 513.5L415.5 513.5M423.5 513.5L423.5 513.5M804.5 132.5L801.5 132.5L799.5 134.5L799.5 136.5L801.5 138.5L804.5 138.5M807.5 129.5L807.5 138.5M807.5 133.5L808.5 132.5L811.5 132.5L812.5 133.5L812.5 138.5M820.5 132.5L816.5 132.5L815.5 133.5L815.5 137.5L816.5 138.5L820.5 138.5M820.5 132.5L820.5 138.5M823.5 132.5L823.5 141.5M823.5 132.5L827.5 132.5L828.5 133.5L828.5 137.5L827.5 138.5L823.5 138.5M836.5 132.5L832.5 132.5L831.5 133.5L831.5 137.5L832.5 138.5L836.5 138.5M836.5 132.5L836.5 138.5M852.5 129.5L852.5 138.5M852.5 132.5L848.5 132.5L847.5 133.5L847.5 137.5L848.5 138.5L852.5 138.5M855.5 135.5L860.5 135.5L860.5 133.5L859.5 132.5L856.5 132.5L855.5 133.5L855.5 137.5L856.5 138.5L860.5 138.5M877.5 132.5L873.5 132.5L872.5 133.5L872.5 137.5L873.5 138.5L877.5 138.5M877.5 132.5L877.5 138.5M880.5 129.5L880.5 138.5M883.5 132.5L883.5 137.5L884.5 138.5L887.5 138.5L888.5 137.5M888.5 132.5L888.5 138.5M891.5 132.5L891.5 138.5M891.5 133.5L892.5 132.5L895.5 132.5L896.5 133.5L896.5 138.5M896.5 133.5L897.5 132.5L899.5 132.5L900.5 133.5L900.5 138.5M903.5 132.5L903.5 138.5M903.5 130.5L904.5 129.5M906.5 132.5L906.5 138.5M906.5 133.5L907.5 132.5L910.5 132.5L911.5 133.5L911.5 138.5M914.5 132.5L914.5 138.5M914.5 130.5L915.5 129.5M918.5 132.5L921.5 132.5L922.5 133.5L922.5 137.5L921.5 138.5L918.5 138.5L917.5 137.5L917.5 133.5L918.5 132.5M935.5 129.5L938.5 129.5L939.5 130.5L939.5 137.5L938.5 138.5L935.5 138.5L934.5 137.5L934.5 130.5L935.5 129.5M942.5 138.5L942.5 138.5M945.5 131.5L945.5 130.5L946.5 129.5L949.5 129.5L950.5 130.5L950.5 132.5L945.5 138.5L950.5 138.5M953.5 135.5L962.5 135.5M966.5 129.5L969.5 129.5L970.5 130.5L970.5 137.5L969.5 138.5L966.5 138.5L965.5 137.5L965.5 130.5L966.5 129.5M973.5 138.5L973.5 138.5M976.5 130.5L977.5 129.5L980.5 129.5L981.5 130.5L981.5 132.5L980.5 133.5L978.5 133.5M980.5 133.5L981.5 134.5L981.5 137.5L980.5 138.5L977.5 138.5L976.5 137.5M984.5 132.5L984.5 138.5M984.5 133.5L985.5 132.5L988.5 132.5L989.5 133.5L989.5 138.5M989.5 133.5L990.5 132.5L992.5 132.5L993.5 133.5L993.5 138.5M995.5 132.5L995.5 138.5M995.5 133.5L996.5 132.5L999.5 132.5L1000.5 133.5L1000.5 138.5M1000.5 133.5L1001.5 132.5L1003.5 132.5L1004.5 133.5L1004.5 138.5M1016.5 135.5L1021.5 135.5L1021.5 133.5L1020.5 132.5L1017.5 132.5L1016.5 133.5L1016.5 137.5L1017.5 138.5L1021.5 138.5M1029.5 132.5L1025.5 132.5L1024.5 133.5L1024.5 134.5L1025.5 135.5L1028.5 135.5L1029.5 136.5L1029.5 137.5L1028.5 138.5L1024.5 138.5M1032.5 132.5L1032.5 141.5M1032.5 132.5L1036.5 132.5L1037.5 133.5L1037.5 137.5L1036.5 138.5L1032.5 138.5M799.5 213.5L799.5 204.5L803.5 204.5L804.5 205.5L804.5 208.5L803.5 209.5L799.5 209.5M807.5 210.5L812.5 210.5L812.5 208.5L811.5 207.5L808.5 207.5L807.5 208.5L807.5 212.5L808.5 213.5L812.5 213.5M820.5 207.5L820.5 215.5L819.5 216.5L816.5 216.5M820.5 207.5L816.5 207.5L815.5 208.5L815.5 212.5L816.5 213.5L820.5 213.5M828.5 207.5L824.5 207.5L823.5 208.5L823.5 212.5L824.5 213.5L828.5 213.5M828.5 207.5L828.5 213.5M831.5 207.5L831.5 213.5M831.5 208.5L832.5 207.5L835.5 207.5L836.5 208.5L836.5 213.5M836.5 208.5L837.5 207.5L839.5 207.5L840.5 208.5L840.5 213.5M843.5 210.5L848.5 210.5L848.5 208.5L847.5 207.5L844.5 207.5L843.5 208.5L843.5 212.5L844.5 213.5L848.5 213.5M851.5 207.5L851.5 213.5M851.5 208.5L852.5 207.5L855.5 207.5L856.5 208.5L856.5 213.5M859.5 205.5L859.5 212.5L860.5 213.5L861.5 213.5M858.5 207.5L861.5 207.5M865.5 207.5L868.5 207.5L869.5 208.5L869.5 212.5L868.5 213.5L865.5 213.5L864.5 212.5L864.5 208.5L865.5 207.5M740.5 345.5L740.5 354.5M740.5 345.5L744.5 345.5L745.5 346.5L745.5 348.5L744.5 349.5L740.5 349.5M744.5 349.5L745.5 350.5L745.5 353.5L744.5 354.5L740.5 354.5M749.5 348.5L752.5 348.5L753.5 349.5L753.5 353.5L752.5 354.5L749.5 354.5L748.5 353.5L748.5 349.5L749.5 348.5M760.5 348.5L756.5 348.5L755.5 349.5L755.5 350.5L756.5 351.5L759.5 351.5L760.5 352.5L760.5 353.5L759.5 354.5L755.5 354.5M768.5 348.5L768.5 357.5M768.5 348.5L764.5 348.5L763.5 349.5L763.5 353.5L764.5 354.5L768.5 354.5M771.5 348.5L771.5 353.5L772.5 354.5L775.5 354.5L776.5 353.5M776.5 348.5L776.5 354.5M778.5 351.5L783.5 351.5L783.5 349.5L782.5 348.5L779.5 348.5L778.5 349.5L778.5 353.5L779.5 354.5L783.5 354.5M787.5 348.5L787.5 356.5L786.5 357.5M787.5 346.5L788.5 345.5M791.5 348.5L794.5 348.5L795.5 349.5L795.5 353.5L794.5 354.5L791.5 354.5L790.5 353.5L790.5 349.5L791.5 348.5M806.5 354.5L806.5 345.5L810.5 345.5L811.5 346.5L811.5 349.5L810.5 350.5L806.5 350.5M819.5 348.5L815.5 348.5L814.5 349.5L814.5 353.5L815.5 354.5L819.5 354.5M819.5 348.5L819.5 354.5M822.5 348.5L822.5 354.5M822.5 349.5L823.5 348.5L826.5 348.5L827.5 349.5L827.5 354.5M829.5 351.5L834.5 351.5L834.5 349.5L833.5 348.5L830.5 348.5L829.5 349.5L829.5 353.5L830.5 354.5L834.5 354.5M837.5 345.5L837.5 354.5M840.5 351.5L845.5 351.5L845.5 349.5L844.5 348.5L841.5 348.5L840.5 349.5L840.5 353.5L841.5 354.5L845.5 354.5M853.5 348.5L849.5 348.5L848.5 349.5L848.5 350.5L849.5 351.5L852.5 351.5L853.5 352.5L853.5 353.5L852.5 354.5L848.5 354.5M794.5 483.5L794.5 474.5L797.5 479.5L800.5 474.5L800.5 483.5M808.5 477.5L804.5 477.5L803.5 478.5L803.5 482.5L804.5 483.5L808.5 483.5M808.5 477.5L808.5 483.5M816.5 477.5L812.5 477.5L811.5 478.5L811.5 479.5L812.5 480.5L815.5 480.5L816.5 481.5L816.5 482.5L815.5 483.5L811.5 483.5M819.5 477.5L819.5 483.5M819.5 475.5L820.5 474.5M822.5 474.5L822.5 483.5M825.5 474.5L825.5 483.5M833.5 477.5L829.5 477.5L828.5 478.5L828.5 482.5L829.5 483.5L833.5 483.5M833.5 477.5L833.5 483.5M845.5 474.5L845.5 482.5L846.5 483.5L849.5 483.5L850.5 482.5L850.5 474.5M853.5 477.5L853.5 483.5M853.5 478.5L854.5 477.5L857.5 477.5L858.5 478.5L858.5 483.5M860.5 477.5L860.5 483.5M860.5 475.5L861.5 474.5M864.5 477.5L864.5 479.5L866.5 483.5L867.5 483.5L869.5 479.5L869.5 477.5M871.5 480.5L876.5 480.5L876.5 478.5L875.5 477.5L872.5 477.5L871.5 478.5L871.5 482.5L872.5 483.5L876.5 483.5M879.5 477.5L879.5 483.5M879.5 479.5L881.5 477.5L883.5 477.5M889.5 477.5L885.5 477.5L884.5 478.5L884.5 479.5L885.5 480.5L888.5 480.5L889.5 481.5L889.5 482.5L888.5 483.5L884.5 483.5M897.5 477.5L893.5 477.5L892.5 478.5L892.5 482.5L893.5 483.5L897.5 483.5M897.5 477.5L897.5 483.5M900.5 474.5L900.5 483.5M912.5 483.5L915.5 474.5L916.5 474.5L919.5 483.5M913.5 481.5L918.5 481.5M926.5 477.5L926.5 485.5L925.5 486.5L922.5 486.5M926.5 477.5L922.5 477.5L921.5 478.5L921.5 482.5L922.5 483.5L926.5 483.5M929.5 477.5L929.5 482.5L930.5 483.5L933.5 483.5L934.5 482.5M934.5 477.5L934.5 483.5M942.5 477.5L938.5 477.5L937.5 478.5L937.5 482.5L938.5 483.5L942.5 483.5M942.5 477.5L942.5 483.5M944.5 477.5L944.5 486.5M944.5 477.5L948.5 477.5L949.5 478.5L949.5 482.5L948.5 483.5L944.5 483.5M952.5 474.5L952.5 483.5M960.5 477.5L956.5 477.5L955.5 478.5L955.5 482.5L956.5 483.5L960.5 483.5M960.5 477.5L960.5 483.5M968.5 477.5L964.5 477.5L963.5 478.5L963.5 479.5L964.5 480.5L967.5 480.5L968.5 481.5L968.5 482.5L967.5 483.5L963.5 483.5M972.5 475.5L972.5 482.5L973.5 483.5L974.5 483.5M971.5 477.5L974.5 477.5M986.5 474.5L989.5 474.5L990.5 475.5L990.5 482.5L989.5 483.5L986.5 483.5L985.5 482.5L985.5 475.5L986.5 474.5M993.5 483.5L993.5 483.5M996.5 476.5L998.5 474.5L999.5 474.5L999.5 483.5M1003.5 480.5L1012.5 480.5M1015.5 474.5L1018.5 474.5L1019.5 475.5L1019.5 482.5L1018.5 483.5L1015.5 483.5L1014.5 482.5L1014.5 475.5L1015.5 474.5M1022.5 483.5L1022.5 483.5M1025.5 475.5L1026.5 474.5L1029.5 474.5L1030.5 475.5L1030.5 477.5L1029.5 478.5L1027.5 478.5M1029.5 478.5L1030.5 479.5L1030.5 482.5L1029.5 483.5L1026.5 483.5L1025.5 482.5M1033.5 477.5L1033.5 483.5M1033.5 478.5L1034.5 477.5L1037.5 477.5L1038.5 478.5L1038.5 483.5M1038.5 478.5L1039.5 477.5L1041.5 477.5L1042.5 478.5L1042.5 483.5M1044.5 477.5L1044.5 483.5M1044.5 478.5L1045.5 477.5L1048.5 477.5L1049.5 478.5L1049.5 483.5M1049.5 478.5L1050.5 477.5L1052.5 477.5L1053.5 478.5L1053.5 483.5M1065.5 480.5L1070.5 480.5L1070.5 478.5L1069.5 477.5L1066.5 477.5L1065.5 478.5L1065.5 482.5L1066.5 483.5L1070.5 483.5M1077.5 477.5L1073.5 477.5L1072.5 478.5L1072.5 479.5L1073.5 480.5L1076.5 480.5L1077.5 481.5L1077.5 482.5L1076.5 483.5L1072.5 483.5M1080.5 477.5L1080.5 486.5M1080.5 477.5L1084.5 477.5L1085.5 478.5L1085.5 482.5L1084.5 483.5L1080.5 483.5M1088.5 483.5L1088.5 483.5M794.5 513.5L794.5 504.5L797.5 509.5L800.5 504.5L800.5 513.5M808.5 507.5L804.5 507.5L803.5 508.5L803.5 512.5L804.5 513.5L808.5 513.5M808.5 507.5L808.5 513.5M816.5 504.5L816.5 513.5M816.5 507.5L812.5 507.5L811.5 508.5L811.5 512.5L812.5 513.5L816.5 513.5M819.5 510.5L824.5 510.5L824.5 508.5L823.5 507.5L820.5 507.5L819.5 508.5L819.5 512.5L820.5 513.5L824.5 513.5M827.5 507.5L827.5 513.5M827.5 509.5L829.5 507.5L831.5 507.5M837.5 507.5L833.5 507.5L832.5 508.5L832.5 512.5L833.5 513.5L837.5 513.5M837.5 507.5L837.5 513.5M849.5 504.5L849.5 513.5M849.5 504.5L853.5 504.5L854.5 505.5L854.5 507.5L853.5 508.5L849.5 508.5M853.5 508.5L854.5 509.5L854.5 512.5L853.5 513.5L849.5 513.5M862.5 507.5L858.5 507.5L857.5 508.5L857.5 512.5L858.5 513.5L862.5 513.5M862.5 507.5L862.5 513.5M865.5 504.5L865.5 513.5M873.5 507.5L869.5 507.5L868.5 508.5L868.5 509.5L869.5 510.5L872.5 510.5L873.5 511.5L873.5 512.5L872.5 513.5L868.5 513.5M881.5 507.5L877.5 507.5L876.5 508.5L876.5 512.5L877.5 513.5L881.5 513.5M881.5 507.5L881.5 513.5M892.5 505.5L893.5 504.5L896.5 504.5L897.5 505.5L897.5 507.5L896.5 508.5L894.5 508.5M896.5 508.5L897.5 509.5L897.5 512.5L896.5 513.5L893.5 513.5L892.5 512.5M900.5 507.5L900.5 513.5M900.5 508.5L901.5 507.5L904.5 507.5L905.5 508.5L905.5 513.5M905.5 508.5L906.5 507.5L908.5 507.5L909.5 508.5L909.5 513.5M912.5 507.5L912.5 513.5M912.5 508.5L913.5 507.5L916.5 507.5L917.5 508.5L917.5 513.5M917.5 508.5L918.5 507.5L920.5 507.5L921.5 508.5L921.5 513.5M932.5 510.5L937.5 510.5L937.5 508.5L936.5 507.5L933.5 507.5L932.5 508.5L932.5 512.5L933.5 513.5L937.5 513.5M945.5 507.5L941.5 507.5L940.5 508.5L940.5 509.5L941.5 510.5L944.5 510.5L945.5 511.5L945.5 512.5L944.5 513.5L940.5 513.5M948.5 507.5L948.5 516.5M948.5 507.5L952.5 507.5L953.5 508.5L953.5 512.5L952.5 513.5L948.5 513.5M956.5 513.5L956.5 513.5" stroke="#000"/><path d="M260.5 452.5L260.5 443.5L264.5 443.5L265.5 444.5L265.5 447.5L264.5 448.5L260.5 448.5M268.5 446.5L268.5 452.5M268.5 444.5L269.5 443.5M271.5 446.5L271.5 452.5M271.5 447.5L272.5 446.5L275.5 446.5L276.5 447.5L276.5 452.5M279.5 444.5L279.5 451.5L280.5 452.5L281.5 452.5M278.5 446.5L281.5 446.5M284.5 446.5L284.5 451.5L285.5 452.5L288.5 452.5L289.5 451.5M289.5 446.5L289.5 452.5M291.5 446.5L291.5 452.5M291.5 448.5L293.5 446.5L295.5 446.5M302.5 446.5L298.5 446.5L297.5 447.5L297.5 451.5L298.5 452.5L302.5 452.5M302.5 446.5L302.5 452.5M313.5 443.5L313.5 452.5M313.5 443.5L317.5 443.5L318.5 444.5L318.5 446.5L317.5 447.5L313.5 447.5M317.5 447.5L318.5 448.5L318.5 451.5L317.5 452.5L313.5 452.5M321.5 443.5L321.5 452.5M329.5 446.5L325.5 446.5L324.5 447.5L324.5 451.5L325.5 452.5L329.5 452.5M329.5 446.5L329.5 452.5M332.5 446.5L332.5 452.5M332.5 447.5L333.5 446.5L336.5 446.5L337.5 447.5L337.5 452.5M344.5 446.5L341.5 446.5L339.5 448.5L339.5 450.5L341.5 452.5L344.5 452.5M352.5 446.5L348.5 446.5L347.5 447.5L347.5 451.5L348.5 452.5L352.5 452.5M352.5 446.5L352.5 452.5M368.5 450.5L368.5 451.5L367.5 452.5L364.5 452.5L363.5 451.5L363.5 449.5L365.5 447.5L365.5 446.5M365.5 443.5L365.5 443.5M371.5 443.5L371.5 452.5L374.5 452.5L376.5 450.5L376.5 445.5L374.5 443.5L371.5 443.5M379.5 449.5L384.5 449.5L384.5 447.5L383.5 446.5L380.5 446.5L379.5 447.5L379.5 451.5L380.5 452.5L384.5 452.5M400.5 446.5L400.5 455.5M400.5 446.5L396.5 446.5L395.5 447.5L395.5 451.5L396.5 452.5L400.5 452.5M403.5 446.5L403.5 451.5L404.5 452.5L407.5 452.5L408.5 451.5M408.5 446.5L408.5 452.5M410.5 449.5L415.5 449.5L415.5 447.5L414.5 446.5L411.5 446.5L410.5 447.5L410.5 451.5L411.5 452.5L415.5 452.5M428.5 444.5L428.5 451.5L429.5 452.5L430.5 452.5M427.5 446.5L430.5 446.5M432.5 446.5L432.5 452.5M432.5 444.5L433.5 443.5M436.5 446.5L436.5 455.5M436.5 446.5L440.5 446.5L441.5 447.5L441.5 451.5L440.5 452.5L436.5 452.5M444.5 446.5L447.5 446.5L448.5 447.5L448.5 451.5L447.5 452.5L444.5 452.5L443.5 451.5L443.5 447.5L444.5 446.5M451.5 445.5L451.5 444.5L452.5 443.5L455.5 443.5L456.5 444.5L456.5 446.5L454.5 448.5L454.5 449.5M454.5 452.5L454.5 452.5M794.5 437.5L794.5 436.5L795.5 435.5L798.5 435.5L799.5 436.5L799.5 438.5L794.5 444.5L799.5 444.5M815.5 438.5L812.5 438.5L810.5 440.5L810.5 442.5L812.5 444.5L815.5 444.5M823.5 438.5L819.5 438.5L818.5 439.5L818.5 443.5L819.5 444.5L823.5 444.5M823.5 438.5L823.5 444.5M825.5 438.5L825.5 447.5M825.5 438.5L829.5 438.5L830.5 439.5L830.5 443.5L829.5 444.5L825.5 444.5M838.5 438.5L834.5 438.5L833.5 439.5L833.5 443.5L834.5 444.5L838.5 444.5M838.5 438.5L838.5 444.5M845.5 438.5L841.5 438.5L840.5 439.5L840.5 440.5L841.5 441.5L844.5 441.5L845.5 442.5L845.5 443.5L844.5 444.5L840.5 444.5M861.5 435.5L861.5 444.5M861.5 438.5L857.5 438.5L856.5 439.5L856.5 443.5L857.5 444.5L861.5 444.5M864.5 441.5L869.5 441.5L869.5 439.5L868.5 438.5L865.5 438.5L864.5 439.5L864.5 443.5L865.5 444.5L869.5 444.5M884.5 435.5L883.5 435.5L882.5 436.5L882.5 444.5M880.5 438.5L884.5 438.5M886.5 438.5L886.5 444.5M886.5 436.5L887.5 435.5M889.5 435.5L889.5 444.5M889.5 438.5L893.5 438.5L894.5 439.5L894.5 443.5L893.5 444.5L889.5 444.5M897.5 438.5L897.5 444.5M897.5 440.5L899.5 438.5L901.5 438.5M907.5 438.5L903.5 438.5L902.5 439.5L902.5 443.5L903.5 444.5L907.5 444.5M907.5 438.5L907.5 444.5M923.5 435.5L923.5 444.5M923.5 438.5L919.5 438.5L918.5 439.5L918.5 443.5L919.5 444.5L923.5 444.5M926.5 441.5L931.5 441.5L931.5 439.5L930.5 438.5L927.5 438.5L926.5 439.5L926.5 443.5L927.5 444.5L931.5 444.5M942.5 438.5L942.5 440.5L944.5 444.5L945.5 444.5L947.5 440.5L947.5 438.5M949.5 438.5L949.5 444.5M949.5 436.5L950.5 435.5M957.5 435.5L957.5 444.5M957.5 438.5L953.5 438.5L952.5 439.5L952.5 443.5L953.5 444.5L957.5 444.5M960.5 438.5L960.5 444.5M960.5 440.5L962.5 438.5L964.5 438.5M965.5 438.5L965.5 444.5M965.5 436.5L966.5 435.5M969.5 438.5L972.5 438.5L973.5 439.5L973.5 443.5L972.5 444.5L969.5 444.5L968.5 443.5L968.5 439.5L969.5 438.5M985.5 435.5L988.5 435.5L989.5 436.5L989.5 438.5L988.5 439.5L985.5 439.5L984.5 438.5L984.5 436.5L985.5 435.5M985.5 439.5L984.5 440.5L984.5 443.5L985.5 444.5L988.5 444.5L989.5 443.5L989.5 440.5L988.5 439.5M993.5 435.5L996.5 435.5L997.5 436.5L997.5 443.5L996.5 444.5L993.5 444.5L992.5 443.5L992.5 436.5L993.5 435.5M1005.5 438.5L1005.5 446.5L1004.5 447.5L1001.5 447.5M1005.5 438.5L1001.5 438.5L1000.5 439.5L1000.5 443.5L1001.5 444.5L1005.5 444.5M1007.5 438.5L1007.5 444.5M1007.5 440.5L1009.5 438.5L1011.5 438.5M1021.5 438.5L1021.5 444.5M1021.5 440.5L1023.5 438.5L1025.5 438.5M1026.5 441.5L1031.5 441.5L1031.5 439.5L1030.5 438.5L1027.5 438.5L1026.5 439.5L1026.5 443.5L1027.5 444.5L1031.5 444.5M1038.5 435.5L1037.5 435.5L1036.5 436.5L1036.5 444.5M1034.5 438.5L1038.5 438.5M1040.5 438.5L1043.5 438.5L1044.5 439.5L1044.5 443.5L1043.5 444.5L1040.5 444.5L1039.5 443.5L1039.5 439.5L1040.5 438.5M1047.5 438.5L1047.5 444.5M1047.5 440.5L1049.5 438.5L1051.5 438.5M1052.5 438.5L1057.5 438.5L1052.5 444.5L1057.5 444.5M1065.5 438.5L1061.5 438.5L1060.5 439.5L1060.5 443.5L1061.5 444.5L1065.5 444.5M1065.5 438.5L1065.5 444.5M1072.5 435.5L1072.5 444.5M1072.5 438.5L1068.5 438.5L1067.5 439.5L1067.5 443.5L1068.5 444.5L1072.5 444.5M1080.5 438.5L1076.5 438.5L1075.5 439.5L1075.5 443.5L1076.5 444.5L1080.5 444.5M1080.5 438.5L1080.5 444.5M799.5 454.5L796.5 454.5L794.5 456.5L794.5 458.5L796.5 460.5L799.5 460.5M803.5 454.5L806.5 454.5L807.5 455.5L807.5 459.5L806.5 460.5L803.5 460.5L802.5 459.5L802.5 455.5L803.5 454.5M809.5 454.5L809.5 460.5M809.5 455.5L810.5 454.5L813.5 454.5L814.5 455.5L814.5 460.5M825.5 454.5L825.5 460.5M825.5 456.5L827.5 454.5L829.5 454.5M831.5 457.5L836.5 457.5L836.5 455.5L835.5 454.5L832.5 454.5L831.5 455.5L831.5 459.5L832.5 460.5L836.5 460.5M843.5 454.5L839.5 454.5L838.5 455.5L838.5 456.5L839.5 457.5L842.5 457.5L843.5 458.5L843.5 459.5L842.5 460.5L838.5 460.5M846.5 454.5L846.5 460.5M846.5 452.5L847.5 451.5M849.5 454.5L849.5 460.5M849.5 455.5L850.5 454.5L853.5 454.5L854.5 455.5L854.5 460.5M862.5 454.5L858.5 454.5L857.5 455.5L857.5 459.5L858.5 460.5L862.5 460.5M862.5 454.5L862.5 460.5M873.5 457.5L878.5 457.5L878.5 455.5L877.5 454.5L874.5 454.5L873.5 455.5L873.5 459.5L874.5 460.5L878.5 460.5M881.5 454.5L881.5 463.5M881.5 454.5L885.5 454.5L886.5 455.5L886.5 459.5L885.5 460.5L881.5 460.5M889.5 454.5L892.5 454.5L893.5 455.5L893.5 459.5L892.5 460.5L889.5 460.5L888.5 459.5L888.5 455.5L889.5 454.5M896.5 454.5L901.5 460.5M901.5 454.5L896.5 460.5M904.5 454.5L904.5 460.5M904.5 452.5L905.5 451.5M915.5 454.5L915.5 463.5M915.5 454.5L919.5 454.5L920.5 455.5L920.5 459.5L919.5 460.5L915.5 460.5M923.5 454.5L923.5 460.5M923.5 452.5L924.5 451.5M931.5 454.5L931.5 462.5L930.5 463.5L927.5 463.5M931.5 454.5L927.5 454.5L926.5 455.5L926.5 459.5L927.5 460.5L931.5 460.5M934.5 454.5L934.5 460.5M934.5 455.5L935.5 454.5L938.5 454.5L939.5 455.5L939.5 460.5M939.5 455.5L940.5 454.5L942.5 454.5L943.5 455.5L943.5 460.5M945.5 457.5L950.5 457.5L950.5 455.5L949.5 454.5L946.5 454.5L945.5 455.5L945.5 459.5L946.5 460.5L950.5 460.5M953.5 454.5L953.5 460.5M953.5 455.5L954.5 454.5L957.5 454.5L958.5 455.5L958.5 460.5M961.5 452.5L961.5 459.5L962.5 460.5L963.5 460.5M960.5 454.5L963.5 454.5M971.5 454.5L967.5 454.5L966.5 455.5L966.5 459.5L967.5 460.5L971.5 460.5M971.5 454.5L971.5 460.5M979.5 451.5L979.5 460.5M979.5 454.5L975.5 454.5L974.5 455.5L974.5 459.5L975.5 460.5L979.5 460.5M986.5 454.5L982.5 454.5L981.5 455.5L981.5 459.5L982.5 460.5L986.5 460.5M986.5 454.5L986.5 460.5M998.5 457.5L1003.5 457.5L1003.5 455.5L1002.5 454.5L999.5 454.5L998.5 455.5L998.5 459.5L999.5 460.5L1003.5 460.5M1005.5 454.5L1005.5 460.5M1005.5 455.5L1006.5 454.5L1009.5 454.5L1010.5 455.5L1010.5 460.5M1026.5 454.5L1023.5 454.5L1021.5 456.5L1021.5 458.5L1023.5 460.5L1026.5 460.5M1030.5 454.5L1033.5 454.5L1034.5 455.5L1034.5 459.5L1033.5 460.5L1030.5 460.5L1029.5 459.5L1029.5 455.5L1030.5 454.5M1037.5 451.5L1037.5 460.5M1041.5 454.5L1044.5 454.5L1045.5 455.5L1045.5 459.5L1044.5 460.5L1041.5 460.5L1040.5 459.5L1040.5 455.5L1041.5 454.5M1047.5 454.5L1047.5 460.5M1047.5 456.5L1049.5 454.5L1051.5 454.5M1061.5 451.5L1061.5 460.5M1061.5 454.5L1065.5 454.5L1066.5 455.5L1066.5 459.5L1065.5 460.5L1061.5 460.5M1069.5 451.5L1069.5 460.5M1077.5 454.5L1073.5 454.5L1072.5 455.5L1072.5 459.5L1073.5 460.5L1077.5 460.5M1077.5 454.5L1077.5 460.5M1080.5 454.5L1080.5 460.5M1080.5 455.5L1081.5 454.5L1084.5 454.5L1085.5 455.5L1085.5 460.5M1092.5 454.5L1089.5 454.5L1087.5 456.5L1087.5 458.5L1089.5 460.5L1092.5 460.5M1096.5 454.5L1099.5 454.5L1100.5 455.5L1100.5 459.5L1099.5 460.5L1096.5 460.5L1095.5 459.5L1095.5 455.5L1096.5 454.5" stroke="#c01428"/></g><path d="M220.5 576.5H226.5L229.5 579.5V591.5L225.5 595.5H221.5L216.5 588.5V582.5Z M235.5 596V576.5H245.5L247.5 578.5V583.5L244.5 586.5H235.5 M264.5 580.5L261.5 576.5H255.5L251.5 582.5V588.5L256.5 595.5H260.5L264.5 590.5 M269.5 576V596 M279.5 576.5H285.5L288.5 579.5V591.5L284.5 595.5H280.5L275.5 588.5V582.5Z M294.5 596V576.5L305.5 595.5V576 M331 580.5L335.5 576.5V596" transform="translate(0 0)" stroke="#000" stroke-width="1" fill="none"/><path d="M220.5 576.5H226.5L229.5 579.5V591.5L225.5 595.5H221.5L216.5 588.5V582.5Z M235.5 596V576.5H245.5L247.5 578.5V583.5L244.5 586.5H235.5 M264.5 580.5L261.5 576.5H255.5L251.5 582.5V588.5L256.5 595.5H260.5L264.5 590.5 M269.5 576V596 M279.5 576.5H285.5L288.5 579.5V591.5L284.5 595.5H280.5L275.5 588.5V582.5Z M294.5 596V576.5L305.5 595.5V576 M329.5 580.5V577.5L330.5 576.5H337.5L339.5 578.5V582.5L328.5 595.5H340" transform="translate(565 0)" stroke="#000" stroke-width="1" fill="none"/></svg></body></html>
